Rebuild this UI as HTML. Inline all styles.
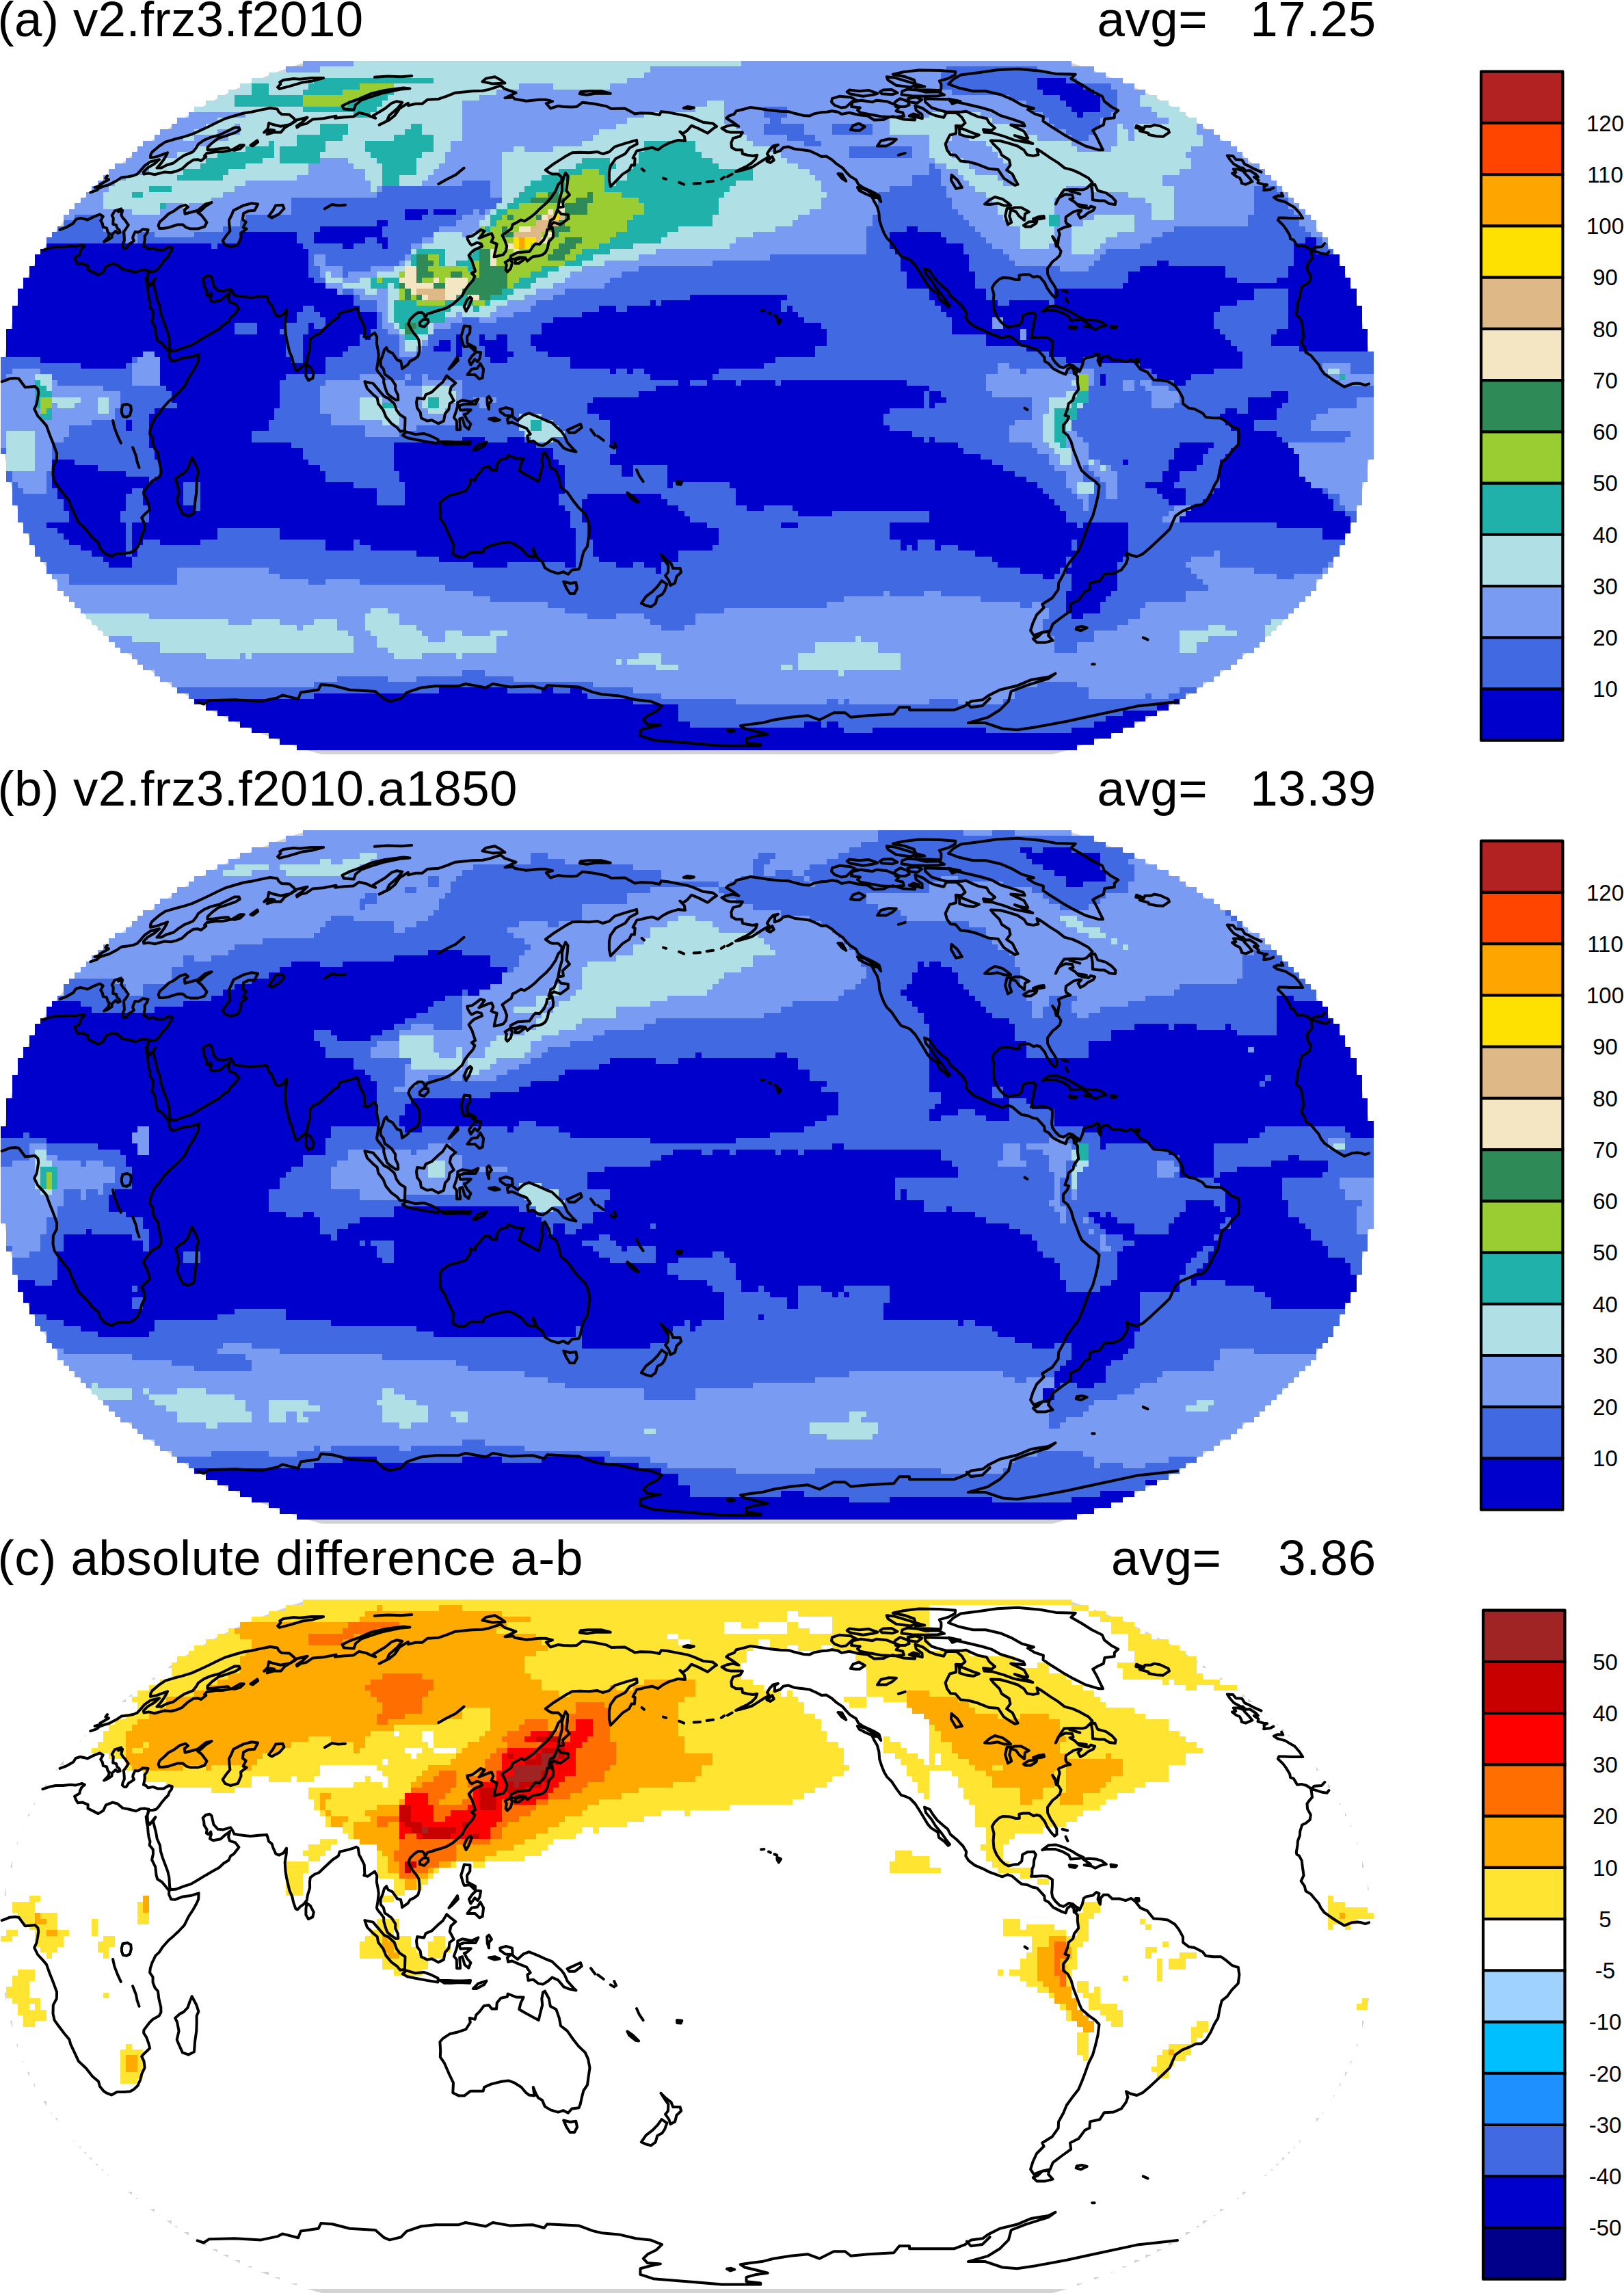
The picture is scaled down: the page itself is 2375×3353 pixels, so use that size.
<!DOCTYPE html>
<html><head><meta charset="utf-8"><title>maps</title>
<style>html,body{margin:0;padding:0;background:#fff}svg{display:block}text{font-family:"Liberation Sans",Arial,Helvetica,sans-serif;fill:#000}</style></head><body>
<svg width="2375" height="3353" viewBox="0 0 2375 3353">
<rect width="2375" height="3353" fill="#fff"/>
<defs><path id="coast" d="M1917.4 367.3L1920.2 366.7L1934.9 371.1L1940.6 371.7L1943.5 368.0M62.4 366.1L72.3 362.9L81.3 361.0L91.8 361.0L103.0 359.8L110.9 360.4L119.8 357.9L123.9 359.8L119.5 363.5L117.0 368.6L116.4 372.4L109.1 376.8L111.1 381.8L114.0 386.3L120.7 385.6L128.7 388.8L128.5 394.5L135.0 397.6L143.7 402.1L151.1 397.6L154.9 389.4L164.7 385.6L171.8 387.5L179.4 393.9L189.2 395.8L198.8 398.3L205.5 395.1L211.1 394.5L217.5 395.8L215.7 404.0L213.7 406.5L214.7 415.3L216.0 421.0L216.6 429.2L217.7 436.8L219.5 442.5L218.7 448.2L223.8 454.5L224.0 460.8L222.1 469.7L227.2 479.8L228.6 492.4L230.4 498.1L236.9 501.9L243.5 510.1L247.3 514.5L247.1 520.2L250.2 527.2L255.7 527.8L267.3 523.4L278.5 522.1L290.6 518.3L290.2 527.2L287.4 533.5L282.1 543.0L275.9 552.4L269.6 565.1L260.8 574.5L253.9 580.9L246.5 587.2L238.1 596.7L232.7 604.9L227.3 609.9L224.7 615.6L222.7 619.4L219.8 628.2L219.1 634.6L223.5 640.9L223.6 649.1L226.6 656.7L231.0 661.7L232.3 672.5L235.3 685.1L235.4 692.7L232.5 697.7L223.6 702.8L218.9 707.2L214.6 712.9L210.3 718.6L210.2 723.0L214.3 729.3L217.6 738.8L219.1 745.1L210.5 753.3L207.2 757.1L210.5 764.1L211.6 773.6L208.6 779.9L207.2 783.0L205.2 791.2L201.3 800.1L195.7 805.2L190.4 808.3L181.8 808.9L171.2 808.9L163.0 813.4L155.0 810.2L151.6 807.7L145.9 800.7L144.1 793.8L135.2 786.2L125.8 774.2L114.9 764.1L110.5 754.6L103.1 738.8L101.5 732.5L93.6 723.0L85.5 712.3L79.7 704.1L77.5 694.6L77.8 681.9L82.8 672.5L83.1 663.0L78.0 649.1L72.2 634.6L70.7 630.1L68.0 622.6L63.2 616.9L55.0 608.0L50.2 597.9L53.5 591.0L54.8 584.0L56.3 574.5L55.4 568.9L51.2 565.1L43.9 565.7L36.7 566.3L32.1 560.0L27.5 553.7L22.0 553.1L14.2 553.7L8.4 556.2L2.7 558.1M2002.0 561.3L1996.5 563.2L1990.8 561.3L1985.2 560.6L1976.9 561.3L1966.1 565.7L1957.4 560.6L1946.8 553.7L1936.8 546.7L1931.6 539.8L1928.7 533.5L1921.6 525.3L1916.9 519.6L1909.6 515.2L1907.9 508.2L1902.7 500.6L1906.6 492.4L1904.8 479.8L1903.8 470.9L1899.8 463.4L1896.3 461.5L1895.8 458.3L1897.6 448.2L1898.0 441.9L1901.0 433.7L1901.2 428.0L1904.2 418.5L1909.7 416.0L1915.7 410.9L1916.9 404.0L1912.1 395.1L1911.5 387.5L1915.1 382.5L1919.0 378.1L1918.1 371.1L1917.4 367.3M280.7 669.3L287.3 681.9L290.4 691.4L287.6 697.7L287.7 707.2L287.3 719.9L285.0 735.7L284.0 750.2L275.9 754.6L266.9 751.4L261.2 738.8L258.7 732.5L261.6 719.9L259.1 707.2L256.2 700.9L263.3 694.6L268.4 692.1L274.6 685.7L277.3 677.5L280.7 669.3M177.9 598.6L179.5 592.2L186.2 591.0L191.2 593.5L191.9 599.8L189.9 607.4L184.9 609.9L179.9 608.7L178.0 603.6L177.9 598.6M165.1 615.0L167.3 625.1L172.1 637.7L176.8 647.8M194.1 654.2L198.8 666.2L200.7 675.6L203.6 683.8M1918.2 366.1L1921.8 361.7L1932.8 361.0L1937.3 356.0M87.6 335.9L97.7 332.1L107.3 326.5L110.8 320.9L117.4 319.0L123.4 320.2L128.0 321.5L136.6 317.1L146.1 313.4L150.7 316.5L147.2 322.7L149.9 327.1L150.8 332.1L156.0 333.4L156.7 335.9L157.7 339.6L160.0 341.5L158.3 347.2L152.2 353.5L157.9 350.9L163.5 347.2L163.8 342.8L169.3 337.8L172.2 340.9L175.7 339.6L174.7 336.5L171.3 333.4L169.9 329.0L165.2 327.7L165.8 319.0L163.7 315.3L167.7 308.4L177.2 305.3L173.2 309.7L179.2 307.8L177.3 314.6L179.9 319.0L183.1 322.1L185.4 325.9L187.7 329.0L183.8 335.2L180.7 339.0L181.3 342.8L181.7 347.8L181.9 351.6L179.8 356.0L178.8 360.4L181.5 362.9L184.6 362.9L188.4 357.2L193.4 354.1L196.0 352.2L194.2 348.4L194.6 345.3L197.6 339.0L201.3 339.6L204.7 338.4L208.9 335.2L216.6 335.9L215.6 339.0L214.9 340.9L211.6 345.3L211.8 350.9L210.6 356.6L209.9 359.8L213.4 361.0L216.4 364.2L223.8 362.9L230.3 365.4L239.2 365.4L246.8 361.0L251.8 362.3L251.0 366.1L247.7 370.5L245.8 375.5L241.9 379.3L236.0 386.3L231.9 392.0L228.2 395.8L223.4 397.0L218.0 397.0L215.5 404.6L215.9 413.4L219.2 417.9L222.3 413.4L227.4 407.1L224.0 413.4L225.6 419.8L228.0 429.2L229.7 438.7L233.9 448.2L235.1 457.7L238.0 467.1L241.6 476.6L245.2 486.1L247.4 495.6L248.1 508.2L249.1 513.3L257.5 512.6L269.2 508.2L279.0 505.1L289.9 498.7L300.3 492.4L311.3 486.1L320.4 481.0L327.0 474.7L334.4 470.3L337.2 464.0L342.1 460.8L349.4 451.3L344.2 444.4L336.0 441.9L334.1 436.2L336.1 428.0L333.3 430.5L328.7 433.7L322.5 439.3L311.7 441.2L306.9 438.7L308.9 432.4L308.3 428.6L304.6 432.4L301.8 430.5L302.7 425.4L298.6 419.1L298.2 413.4L296.6 408.4L300.9 404.0L306.7 402.7L309.5 405.2L310.8 410.9L312.4 417.9L318.5 424.8L326.5 425.4L337.0 422.3L339.8 426.1L342.7 431.8L348.9 433.0L359.5 434.3L366.4 434.9L378.6 433.7L390.1 433.0L391.5 436.8L393.0 442.5L397.7 446.3L399.4 452.0L403.4 460.8L408.0 462.7L414.5 459.6L419.0 452.6L418.8 460.2L416.7 473.5L417.5 486.1L419.0 495.6L421.5 506.3L423.4 514.5L427.1 522.7L429.1 531.6L432.4 541.1L435.1 542.3L439.3 537.9L443.9 534.7L448.8 528.4L450.0 520.8L453.1 510.7L453.0 501.9L453.7 495.6L459.3 491.2L466.8 488.0L473.2 481.7L480.7 474.7L487.0 469.0L494.8 464.0L496.8 457.7L502.5 456.4L508.1 455.1L516.6 452.6L521.3 450.7L523.7 452.6L525.2 462.1L528.3 467.8L532.7 476.6L533.3 489.3L532.4 492.4L537.8 493.7L543.2 489.9L548.0 486.7L551.2 492.4L550.8 501.9L552.7 511.4L553.8 518.9L552.5 530.3L550.9 539.8L552.4 543.0L556.1 547.4L561.3 554.3L561.2 559.4L563.7 568.2L566.3 575.2L571.8 580.2L578.4 584.7L582.3 584.7L581.9 577.7L578.1 569.5L578.3 563.2L572.5 554.3L566.5 549.9L562.7 547.4L560.9 539.8L556.7 534.7L556.6 527.2L559.9 518.9L562.1 511.4L565.2 508.2L567.5 513.3L573.9 516.4L578.0 522.1L581.0 526.5L586.0 527.8L587.3 533.5L588.1 539.2L596.8 532.8L599.8 527.8L605.5 525.3L611.3 520.8L613.5 513.3L613.4 506.3L612.5 497.5L609.1 491.8L604.2 486.1L600.4 479.8L597.3 473.5L599.6 467.1L605.8 460.8L611.6 457.0L617.1 457.0L620.1 459.6L621.8 464.6L625.1 458.9L631.9 457.0L639.2 454.5L646.0 452.6L653.3 450.1L662.0 445.0L669.2 438.7L675.9 432.4L679.6 424.8L685.6 416.6L691.3 410.3L694.4 404.0L689.8 399.5L695.1 396.4L693.0 390.1L690.3 381.8L685.6 373.6L689.1 369.2L693.6 365.4L705.1 360.4L703.8 356.6L697.4 354.7L689.8 358.5L687.3 356.0L683.9 350.3L683.3 346.5L690.3 345.3L696.6 340.9L703.0 335.9L708.6 337.8L701.8 347.2L700.4 348.4L706.7 345.9L714.1 342.8L719.0 341.5L721.4 347.2L718.5 353.5L722.8 355.4L726.7 356.6L725.4 362.9L723.4 371.1L722.6 375.5L728.6 374.3L735.8 372.4L739.8 367.3L741.2 359.8L738.5 352.2L734.4 344.0L740.5 339.6L747.8 334.6L749.7 328.4L754.8 325.9L761.9 321.5L767.0 323.4L775.8 317.7L781.9 312.8L790.1 304.7L798.6 297.3L805.7 289.3L812.8 278.8L816.3 269.7L821.3 264.8L821.6 259.4L816.2 254.6L807.8 254.6L803.6 252.8L797.7 248.6L809.6 239.7L818.0 234.4L826.3 229.1L836.9 223.3L848.2 222.7L861.5 223.3L873.9 222.1L881.4 225.0L890.9 222.1L898.9 214.6L915.2 209.4L931.1 204.9L931.7 210.6L920.8 216.3L914.2 225.0L900.4 232.0L892.8 242.7L890.9 251.6L890.9 263.6L893.0 272.7L901.9 263.6L910.6 254.6L920.2 248.6L923.4 241.5L928.0 241.5L928.6 232.0L925.6 230.9L931.4 220.4L938.2 219.2L944.1 217.5L954.1 215.8L962.2 219.2L969.7 213.5L978.7 208.9L992.0 204.9L1002.0 206.0L1000.7 199.2L994.4 192.5L998.6 195.3L1005.0 190.8L1011.3 183.7L1021.9 188.1L1034.9 194.7L1042.9 188.1L1048.1 184.8L1042.4 180.4L1027.8 178.7L1013.2 172.3L1005.0 169.6L992.9 167.4L976.9 164.3L967.0 163.2L964.5 168.0L952.6 165.8L936.6 165.3L928.4 166.4L923.6 163.7L913.9 158.5L894.0 159.0L887.1 155.4L868.6 151.8L851.9 149.7L843.6 155.9L835.5 156.4L823.9 155.9L816.5 154.9L805.0 158.5L798.8 151.3L808.1 148.2L797.9 145.7L788.3 145.7L769.8 147.7L752.6 144.7L750.5 142.2L738.4 143.2L754.5 135.7L737.9 129.9L732.4 125.2L715.0 130.9L705.8 132.8L690.6 133.3L665.8 135.7L653.3 140.7L641.7 144.7L625.3 145.7L617.3 151.8L607.6 151.8L597.2 154.4L596.9 150.8L584.4 158.5L577.2 169.0L569.2 175.5L554.6 182.6L565.7 177.1L569.1 169.0L581.3 158.5L588.3 149.7L580.3 148.2L572.8 150.8L563.4 158.5L545.9 169.0L549.2 172.8L541.6 170.1L536.2 167.4L524.9 164.8L516.7 170.6L503.9 171.2L489.9 172.8L491.4 169.6L473.0 173.3L457.4 174.4L448.0 180.9L439.9 182.6L434.4 186.4L433.9 184.2L440.9 179.8L449.5 171.7L433.6 175.5L423.3 182.6L416.1 187.0L410.8 193.6L400.1 193.6L390.6 196.4L401.2 190.8L396.1 189.7L386.1 193.6L391.7 188.1L393.2 179.8L398.9 182.0L410.3 184.8L424.7 182.0L432.5 177.1L430.0 173.3L423.1 167.4L411.6 166.9L407.8 163.7L405.5 159.5L395.1 158.0L379.5 161.1L367.7 163.7L357.4 165.3L344.0 169.0L329.7 173.3L318.0 178.7L304.8 185.3L293.1 190.8L280.5 196.4L267.6 200.4L254.4 203.8L241.7 207.7L232.9 213.5L222.7 222.1L220.3 226.2L220.0 230.9L228.9 229.1L245.0 223.3L243.7 226.2L240.4 232.0L234.8 239.7L229.5 245.6L236.0 245.6L243.4 241.5L253.6 238.5L261.1 232.6L270.1 226.8L282.2 222.1L286.8 216.3L290.2 210.6L298.5 204.9L307.8 200.9L320.7 197.5L332.0 192.0L343.2 186.4L349.5 186.4L350.8 189.7L344.8 193.6L332.0 198.1L319.4 202.1L310.3 208.9L303.7 215.2L303.4 219.2L313.0 218.6L323.8 216.9L333.4 216.3L337.1 219.8L324.7 222.1L315.8 222.1L302.6 223.9L299.0 227.9L301.3 229.1L294.1 235.0L289.1 233.2L282.6 233.8L273.9 239.7L266.3 246.8L257.9 250.4L250.0 252.2L240.3 251.6L226.2 255.2L217.4 253.4L210.4 254.6L209.9 251.6L215.6 245.6L225.6 239.7L233.1 233.2L220.5 236.2L211.1 242.7L206.2 248.6L200.6 254.6L194.7 257.0L187.7 258.2L177.9 259.4L169.7 264.8L159.2 270.3L152.5 272.1L145.7 274.6L141.5 278.2L132.2 281.3M1874.2 282.5L1876.3 286.8L1868.9 286.2L1862.9 288.6L1868.2 292.3L1879.8 295.4L1885.6 299.1L1893.4 303.5L1900.4 311.5L1905.2 319.0L1897.6 319.0L1887.6 319.0L1877.0 318.4L1870.4 318.4L1868.9 322.1L1875.8 328.4L1880.5 334.6L1886.2 344.0L1887.1 349.1L1892.0 350.9L1897.1 359.8L1904.0 359.1L1910.9 361.0L1918.2 366.1M233.2 334.0L231.6 329.6L233.5 324.6L240.0 319.0L246.4 312.8L254.6 308.4L263.1 302.2L271.4 299.7L275.1 302.8L269.9 306.6L270.5 312.8L281.7 309.7L289.0 307.8L300.5 298.5L309.6 296.0L300.7 301.6L294.0 307.8L289.3 310.9L294.3 314.6L297.9 319.0L302.5 325.2L299.1 331.5L289.1 334.6L278.8 334.6L272.3 332.7L267.5 328.4L259.9 328.4L246.8 332.7L238.3 334.0L233.2 334.0M356.1 300.4L368.0 297.3L377.1 298.5L372.3 307.8L363.4 308.4L356.1 312.1L354.8 320.9L359.7 324.6L355.6 332.7L360.7 334.6L352.2 340.9L352.5 347.2L347.9 357.9L337.0 361.0L329.1 357.9L325.7 352.2L330.3 345.3L336.4 337.8L335.4 329.6L334.9 322.1L338.9 314.0L341.4 307.8L356.1 300.4M403.2 300.4L413.4 299.7L415.5 304.7L408.4 312.8L397.6 318.4L393.0 315.9L399.2 307.8L403.2 300.4M474.9 305.3L485.5 299.1L494.8 300.4L505.0 299.7M641.3 269.1L654.2 261.8L666.3 255.8L678.5 245.6M339.1 219.2L351.1 212.3L356.8 212.3L351.2 217.5L342.9 219.8L339.1 219.2M366.5 212.3L376.2 205.5L377.2 207.7L369.7 213.5L366.5 212.3M448.5 532.8L453.8 536.6L458.8 546.1L457.3 553.1L451.0 556.2L447.4 549.9L447.4 541.7L448.5 532.8M613.9 471.6L618.8 467.1L625.9 467.1L626.5 471.6L620.4 477.9L614.0 476.0L613.9 471.6M687.7 434.3L690.1 436.8L685.7 448.2L681.7 455.1L678.6 448.2L682.8 438.7L687.7 434.3M827.0 252.8L830.5 257.6L829.9 266.7L828.3 278.8L832.9 285.0L822.9 294.2L823.9 302.2L816.2 303.5L818.5 291.1L822.0 278.8L822.0 267.9L824.6 258.8L827.0 252.8M815.1 306.6L820.5 312.8L830.8 314.0L830.8 320.2L819.4 328.4L809.7 325.2L802.5 331.5L805.2 322.1L810.2 319.6L813.0 312.8L815.1 306.6M807.5 332.1L809.1 340.9L808.7 347.2L802.6 353.5L800.7 362.9L797.7 369.2L793.6 372.4L788.1 374.3L780.1 374.9L777.2 376.8L771.2 381.8L768.2 376.8L759.9 376.2L753.2 378.7L746.3 378.7L747.0 374.3L756.8 369.2L766.3 368.6L774.3 368.0L779.8 359.8L782.9 356.6L789.0 357.2L795.3 350.3L799.2 342.1L800.2 335.9L804.5 334.6L807.5 332.1M745.7 379.3L749.2 383.7L746.9 392.6L741.9 397.6L739.7 394.5L740.8 386.9L738.6 383.7L745.7 379.3M754.0 380.0L763.5 376.8L765.7 380.0L758.6 385.0L753.3 385.0L754.0 380.0M678.8 476.6L687.5 477.3L687.3 486.1L683.0 492.4L683.4 501.9L695.2 508.2L694.9 513.9L687.0 506.3L678.7 506.9L676.8 501.9L674.2 492.4L677.1 482.9L678.8 476.6M702.4 531.6L707.1 539.8L705.6 552.4L701.1 554.3L694.6 548.0L683.4 548.0L689.8 539.8L698.2 538.5L702.4 531.6M656.5 539.8L668.9 522.1L669.8 527.2L660.5 536.6L656.5 539.8M696.5 514.5L703.1 515.2L701.6 524.0L698.6 529.1L694.3 525.3L688.4 533.5L685.9 527.2L690.1 520.8L696.5 514.5M610.2 582.1L620.2 583.4L622.6 577.1L631.6 573.3L640.1 565.1L647.5 558.8L653.3 549.3L658.2 553.7L666.4 560.0L659.6 566.3L657.7 574.5L663.7 585.9L657.5 590.3L656.4 598.6L650.9 604.9L648.9 615.6L641.1 619.4L631.6 614.3L624.9 615.6L615.9 611.2L614.7 603.0L610.1 596.7L609.0 588.4L610.2 582.1M533.4 558.1L545.5 560.6L553.6 570.1L561.7 579.6L567.3 582.1L576.7 590.3L580.0 599.8L584.6 606.1L592.5 611.2L592.2 621.9L591.9 630.1L585.2 630.8L580.6 625.1L572.0 618.8L564.6 609.9L560.5 599.8L553.2 590.3L551.7 582.1L545.1 576.4L536.9 568.2L533.4 558.1M588.8 636.5L594.1 631.4L607.1 635.2L619.8 633.9L630.5 637.7L640.7 642.8L640.4 648.5L624.2 645.9L607.4 642.8L595.6 640.3L588.8 636.5M643.6 645.9L654.8 645.9L665.9 646.6L677.0 646.6L688.1 645.9L687.1 649.7L671.6 649.1L660.5 649.7L649.4 649.7L643.6 645.9M691.9 657.9L699.4 650.4L711.5 646.6L707.8 652.3L696.9 657.9L691.9 657.9M669.3 588.4L676.0 585.3L689.9 587.8L699.4 583.4L695.4 591.0L678.7 591.0L671.4 593.5L673.2 599.8L680.4 599.2L688.8 599.2L682.7 604.9L678.8 606.1L683.4 614.3L688.5 620.0L685.3 627.6L679.7 623.2L676.1 611.2L672.2 612.5L673.1 628.2L668.1 628.2L667.8 615.6L663.8 610.6L667.6 599.8L669.2 593.5L669.3 588.4M712.3 582.1L715.1 579.6L718.9 585.9L715.0 590.3L715.0 598.6L712.7 591.6L712.3 582.1M715.1 612.5L723.5 611.2L730.8 614.3L723.5 615.6L715.1 612.5M731.2 598.6L740.1 596.0L749.0 598.6L749.7 609.3L757.0 615.0L765.3 607.4L773.6 604.2L787.6 609.9L798.8 615.0L807.2 618.1L814.5 625.1L821.3 631.4L825.8 637.7L829.9 647.2L838.4 656.7L842.4 660.5L832.9 658.6L824.5 655.4L816.0 645.3L807.5 641.5L801.0 647.2L793.9 651.6L787.2 650.4L779.8 644.7L772.6 645.9L771.3 637.7L775.7 634.6L770.0 626.4L758.8 621.9L748.7 617.5L743.1 618.8L741.9 612.5L747.4 608.0L739.0 607.4L731.8 602.3L731.2 598.6M829.6 628.9L837.9 625.1L849.0 620.0L850.7 625.1L840.8 632.7L832.4 632.7L829.6 628.9M864.1 628.2L870.3 636.5M874.2 637.7L882.7 644.0M892.8 652.3L898.4 655.4M898.3 647.2L901.1 653.5M931.0 687.0L934.4 694.6M935.0 695.8L940.6 704.1M917.4 720.5L925.7 726.2L934.1 734.4L929.7 733.8L920.2 726.2L917.4 720.5M990.1 704.1L997.3 704.7L995.7 708.5L990.2 707.9L990.1 704.1M796.9 661.7L802.8 672.5L804.9 683.8L813.4 688.3L817.8 700.9L820.0 712.3L829.7 719.9L838.5 732.5L846.0 742.0L855.8 751.4L860.1 760.9L862.5 773.6L860.7 786.2L859.0 798.8L853.4 807.0L851.1 815.9L848.6 827.2L846.5 832.3L836.3 833.5L830.9 839.8L823.7 836.1L816.3 838.6L805.4 835.4L796.9 830.4L792.9 820.9L787.2 817.8L783.7 811.5L779.8 802.0L781.5 814.6L773.5 813.4L769.3 810.2L762.3 802.0L752.4 795.7L743.9 792.5L733.5 793.8L718.1 797.6L708.2 802.0L706.6 807.7L688.1 807.7L679.0 814.6L671.1 814.6L662.3 810.2L663.0 795.7L656.9 783.0L650.1 767.2L643.8 757.8L644.2 748.3L643.4 735.7L647.3 731.2L657.5 724.3L668.2 721.8L681.5 717.3L687.8 707.2L686.8 700.9L694.6 702.8L696.3 696.5L701.5 691.4L707.6 683.2L714.7 681.9L719.5 687.6L726.1 687.6L726.7 678.8L732.5 671.8L741.8 669.9L742.7 665.5L755.7 670.6L765.6 670.6L761.6 678.8L759.3 688.3L767.8 693.3L779.2 699.6L787.7 704.1L789.9 694.6L793.2 681.9L792.3 672.5L794.2 663.0L796.9 661.7M824.2 850.5L833.8 853.0L842.3 851.8L844.0 860.5L840.1 868.0L833.5 868.0L828.2 859.9L824.2 850.5M966.5 810.8L973.5 817.8L981.5 824.1L984.2 831.0L994.6 831.0L996.2 836.7L989.5 843.0L987.1 852.4L980.5 856.1L978.3 849.2L973.0 841.7L977.0 836.7L977.4 827.2L970.9 817.8L966.5 810.8M967.6 849.2L975.4 854.3L972.1 863.6L968.2 869.3L961.3 873.0L958.7 882.3L952.0 887.3L944.5 885.4L937.8 882.3L944.7 872.4L954.4 864.9L961.7 857.4L967.6 849.2M1113.1 454.5L1117.4 453.9M1124.1 457.7L1126.9 458.9M1132.5 461.5L1136.3 462.7M1136.4 465.9L1142.0 468.4L1138.9 473.5L1136.6 469.7L1136.4 465.9M1848.2 278.2L1857.6 277.0L1862.4 274.6M138.6 274.0L147.8 271.5L146.4 269.7L159.0 262.4L154.3 260.6L157.0 257.0M1844.5 251.6L1835.0 247.4L1826.1 242.7L1820.5 240.3L1816.3 233.8L1807.4 233.2L1803.1 227.9L1794.7 227.4L1799.0 233.8L1804.2 239.7L1814.3 245.6L1817.6 245.6L1821.9 249.8L1827.7 249.2L1836.9 255.2L1839.9 258.8L1833.8 258.8L1840.5 263.6L1839.5 267.3L1847.8 269.7L1853.2 270.3L1848.5 272.7L1848.8 276.4L1848.2 278.2M1825.8 258.8L1820.1 252.8L1818.1 249.8L1810.3 247.4L1803.8 247.4L1807.3 252.2L1802.0 253.4L1808.1 258.2L1812.9 260.0L1815.7 265.5L1815.8 267.9L1821.5 269.7L1825.8 267.9L1831.4 265.5L1825.8 258.8M1680.1 197.0L1691.5 199.2L1700.8 199.8L1706.5 195.9L1710.0 193.6L1708.6 189.7L1696.6 184.2L1688.1 182.6L1682.7 184.8L1674.3 184.8L1673.1 188.1L1662.0 183.7L1661.2 187.0L1672.4 189.2L1666.7 191.4L1679.4 194.7L1680.1 197.0M414.4 117.0L429.7 114.9L438.2 115.7L455.8 114.0L473.1 114.0L457.1 118.4L441.9 120.6L423.4 126.1L408.6 129.9L406.1 127.5L410.4 122.9L409.2 120.2L414.4 117.0M500.5 154.9L502.8 159.5L517.5 160.6L520.0 153.3L528.2 146.7L542.3 141.7L561.5 135.7L587.2 130.4L599.5 129.4L589.9 128.5L563.2 131.9L543.3 136.7L525.0 144.7L510.8 149.7L500.5 154.9M547.9 112.8L567.3 111.5L586.4 112.3L602.2 111.1M705.5 119.3L719.8 122.4L738.5 121.5L732.4 117.0L723.7 112.3L710.4 114.9L705.5 119.3M847.8 137.2L858.3 138.7L870.4 136.7L885.4 136.7L892.8 136.7L879.2 133.3L860.7 133.3L849.2 134.3L847.8 137.2M999.9 158.0L1005.8 155.9L1014.9 157.5L1009.0 159.0L999.9 158.0M1387.1 122.9L1394.4 115.7L1405.1 109.5L1432.6 105.9L1458.4 102.2L1488.1 100.8L1521.0 103.7L1543.9 107.9L1572.8 108.7L1566.4 114.9L1581.8 123.8L1596.8 133.3L1612.0 140.7L1615.0 148.2L1624.9 155.9L1635.3 161.6L1629.9 166.4L1629.7 172.3L1615.5 173.9L1613.8 182.6L1604.4 187.0L1598.2 190.8L1603.2 199.2L1608.7 210.6L1613.0 219.2L1606.3 219.2L1587.4 213.5L1570.2 204.9L1555.2 196.4L1537.5 185.3L1525.5 177.1L1525.9 170.6L1513.0 166.4L1503.0 160.1L1511.9 158.5L1493.9 153.3L1480.6 145.7L1463.1 138.2L1441.5 133.3L1423.0 133.3L1401.9 128.5L1387.1 122.9M1055.5 187.5L1063.6 184.2L1071.7 182.6L1080.4 184.8L1073.4 179.8L1062.2 172.8L1065.9 169.6L1073.6 166.9L1076.9 162.2L1088.4 159.5L1097.7 156.9L1112.1 159.0L1124.5 161.1L1141.0 162.7L1153.1 163.2L1162.1 165.8L1175.3 169.0L1183.6 169.6L1190.5 166.4L1201.6 164.3L1209.4 163.7L1216.7 162.2L1225.5 163.7L1231.0 166.9L1242.0 164.8L1255.8 168.0L1268.9 169.6L1278.4 175.5L1292.4 174.9L1298.7 171.7L1305.8 170.1L1320.8 174.4L1338.0 175.5L1338.7 170.6L1348.8 173.3L1348.5 167.4L1339.7 161.1L1338.3 154.4L1349.5 158.5L1359.0 165.3L1367.9 169.0L1380.2 171.7L1383.5 165.8L1386.7 164.8L1399.2 165.3L1406.7 171.7L1411.5 179.8L1406.6 184.2L1397.8 183.7L1398.3 189.7L1398.1 195.3L1389.0 197.5L1385.4 204.9L1382.6 210.6L1385.0 219.2L1390.1 226.2L1397.3 226.8L1404.9 235.6L1417.0 236.8L1428.0 239.7L1446.3 246.8L1459.7 248.0L1468.0 260.6L1477.3 266.7L1484.6 270.9L1488.6 269.7L1485.0 263.6L1480.7 254.6L1472.1 248.6L1477.5 241.5L1475.8 233.8L1464.9 226.8L1461.6 219.2L1452.8 210.6L1448.9 205.5L1462.4 206.0L1473.4 208.9L1488.1 213.5L1497.2 219.2L1501.9 226.2L1510.9 227.9L1518.5 226.2L1516.3 218.1L1523.3 222.1L1535.9 230.9L1547.1 237.9L1556.9 245.6L1568.6 248.6L1579.3 253.4L1592.0 260.6L1597.5 266.7L1594.4 270.3L1588.7 275.8L1582.7 277.6L1570.2 277.0L1556.1 277.6L1552.3 283.1L1547.2 291.1L1543.9 298.5L1548.6 289.3L1557.9 284.3L1568.0 285.0L1569.5 289.9L1564.4 291.1L1571.8 295.4L1577.8 301.6L1583.9 303.5L1592.0 304.7L1595.2 301.6L1601.2 303.5L1598.8 307.8L1590.9 311.5L1585.8 315.9L1579.9 319.0L1576.6 312.8L1581.3 307.8L1576.3 307.8L1569.9 309.7L1564.4 313.4L1558.8 317.1L1558.4 323.4L1559.5 326.5L1565.4 330.2L1559.4 331.5L1554.2 333.4L1547.9 336.5L1549.7 342.8L1548.0 348.4L1547.4 353.5L1546.8 358.5L1542.5 350.3L1539.2 345.9L1543.5 354.1L1544.6 359.8L1547.7 361.0L1551.6 367.3L1549.7 373.6L1544.5 378.7L1539.4 382.5L1535.7 387.5L1531.9 392.6L1532.1 400.8L1536.7 410.3L1541.0 416.6L1545.4 424.2L1545.5 432.4L1542.2 434.9L1537.4 429.9L1531.2 421.0L1527.8 413.4L1521.0 405.2L1516.4 404.0L1511.3 405.2L1505.0 401.4L1497.0 401.4L1490.4 402.7L1490.8 409.0L1485.4 409.0L1476.8 406.5L1467.0 405.9L1461.1 408.4L1454.4 414.7L1450.8 421.0L1453.5 430.5L1452.6 441.9L1453.5 452.6L1457.5 462.1L1463.4 470.3L1469.0 475.4L1474.8 478.5L1482.8 476.6L1489.3 476.0L1494.3 471.6L1495.2 462.1L1502.3 458.3L1512.1 457.7L1514.9 462.1L1512.2 470.3L1511.6 477.9L1509.5 482.9L1509.3 490.5L1508.0 493.7L1515.2 493.7L1523.4 493.0L1531.8 493.7L1539.0 498.7L1538.9 508.2L1538.1 517.7L1539.2 524.0L1543.6 530.3L1549.5 536.0L1555.2 537.9L1560.5 534.7L1563.2 532.8L1568.8 534.1L1574.7 539.2L1575.0 544.2L1570.7 546.1L1570.4 540.4L1566.2 536.6L1560.9 540.4L1558.5 547.4L1551.7 544.9L1544.3 541.1L1540.3 539.2L1533.7 531.6L1527.9 528.4L1527.4 522.7L1520.1 514.5L1516.4 510.7L1509.7 509.5L1502.8 506.3L1494.3 505.1L1488.4 500.6L1480.5 493.7L1473.6 491.2L1465.6 494.3L1457.0 491.2L1446.7 487.4L1436.8 482.3L1425.2 477.3L1416.2 470.3L1412.3 464.0L1413.2 457.7L1408.4 449.5L1399.1 440.0L1389.9 432.4L1386.1 424.8L1379.9 419.8L1370.5 411.5L1364.8 404.0L1359.6 395.8L1352.0 392.6L1354.1 400.8L1362.2 410.3L1368.0 419.8L1375.9 429.2L1382.6 438.7L1389.0 446.9L1386.5 448.8L1381.5 443.1L1373.1 436.8L1371.6 429.2L1361.5 422.9L1356.2 416.6L1349.5 405.2L1343.6 395.8L1338.3 387.5L1331.0 380.0L1324.0 376.8L1317.8 374.9L1311.3 366.1L1307.5 360.4L1303.7 354.7L1297.2 348.4L1292.9 340.9L1289.1 331.5L1286.2 322.1L1285.4 311.5L1282.9 302.2L1278.2 294.2L1275.6 288.6L1284.1 289.3L1288.2 294.8L1285.7 286.2L1280.8 283.1L1272.2 278.8L1262.7 274.6L1255.4 269.7L1251.9 263.0L1243.1 257.6L1237.4 251.6L1232.3 245.6L1223.4 239.7L1216.9 233.8L1208.4 228.5L1201.8 229.1L1193.8 225.0L1183.5 220.4L1174.3 219.2L1162.8 218.1L1153.1 214.6L1145.4 215.8L1141.1 220.4L1132.8 223.3L1133.2 214.6L1137.9 211.7L1130.7 213.5L1125.3 219.2L1121.9 225.0L1124.9 229.1L1116.7 233.8L1108.4 239.1L1099.9 244.5L1091.0 247.4L1082.0 249.8L1076.0 251.0L1084.0 246.8L1092.7 242.7L1099.1 238.5L1105.1 232.6L1107.3 226.8L1101.2 227.9L1092.9 226.8L1085.9 225.0L1085.2 219.2L1076.3 219.2L1070.1 215.8L1069.4 208.9L1072.0 202.1L1082.5 199.2L1085.9 193.6L1077.4 193.6L1068.9 193.6L1062.3 192.0L1055.5 187.5L1055.5 187.5M1070.7 254.6L1064.0 258.2M1059.3 258.8L1054.8 261.8M1043.1 264.8L1033.6 266.1M1024.1 267.9L1014.6 268.5M1000.2 269.7L993.1 266.7M974.2 261.8L970.0 260.6M938.6 246.8L942.0 249.8M1121.5 235.6L1129.4 229.1L1131.8 234.4L1126.5 237.9L1121.5 235.6M1253.9 274.0L1265.9 277.0L1281.1 287.4L1276.4 288.0L1265.2 283.1L1256.7 278.8L1253.9 274.0M1225.5 254.0L1231.3 254.6L1237.3 264.8L1230.8 260.6L1225.5 254.0M1598.0 292.3L1597.7 281.9L1595.8 270.9L1601.2 269.7L1605.3 278.8L1617.1 281.9L1626.1 288.0L1631.6 294.2L1630.8 299.1L1622.6 297.9L1615.0 293.6L1607.6 293.6L1598.0 292.3M1564.5 279.4L1579.4 283.7M1577.4 299.1L1588.9 301.0M1440.1 298.5L1447.2 292.3L1454.9 288.0L1466.2 291.1L1475.1 297.3L1478.1 300.4L1468.1 300.4L1459.3 297.3L1447.8 299.1L1440.1 298.5M1473.9 328.4L1470.1 315.9L1472.6 304.7L1479.1 304.7L1484.5 303.5L1493.4 303.5L1504.9 309.7L1498.9 312.8L1498.1 322.1L1490.3 315.9L1485.9 309.7L1478.5 306.6L1476.2 315.9L1479.2 325.2L1473.9 328.4M1496.9 329.6L1504.3 324.6L1516.4 323.4L1515.3 326.5L1507.4 331.5L1499.7 331.5L1496.9 329.6M1510.9 320.2L1518.5 317.1L1526.5 315.9L1527.0 319.0L1520.0 320.2L1510.9 320.2M1398.1 275.8L1390.9 263.6L1391.6 255.8L1400.4 263.6L1406.9 274.0L1398.1 275.8M1283.0 213.5L1288.1 206.0L1299.7 203.2L1310.9 203.8L1304.9 208.9L1296.2 213.5L1283.0 213.5M1243.9 189.7L1247.4 183.7L1256.2 180.4L1264.9 185.3L1257.1 190.8L1250.8 190.8L1243.9 189.7M1313.8 226.8L1323.6 223.9M1510.3 210.0L1493.8 202.1L1483.9 198.1L1498.1 202.1L1503.3 202.1L1497.6 192.0L1478.3 182.6L1498.7 184.2L1496.5 179.8L1480.8 174.4L1463.2 169.0L1449.8 161.6L1435.6 157.5L1417.6 153.3L1399.9 149.2L1386.1 145.2L1368.3 144.7L1352.6 144.2L1353.4 149.2L1362.5 157.5L1370.7 160.1L1383.8 163.7L1395.8 163.7L1405.8 163.7L1412.9 162.7L1420.3 166.4L1430.2 170.6L1442.9 173.3L1446.7 179.8L1455.1 187.0L1449.9 190.8L1438.0 189.2L1439.5 193.6L1450.6 194.2L1467.7 199.2L1483.2 204.9L1498.7 207.7L1510.3 210.0M1402.1 186.4L1410.9 189.7L1423.3 194.7L1431.9 197.5L1423.7 200.9L1411.7 199.2L1403.2 196.4L1403.3 190.8L1402.1 186.4M1258.1 164.8L1276.1 168.0L1289.9 170.6L1308.5 171.2L1322.0 170.1L1320.4 164.8L1310.5 162.2L1315.9 155.9L1296.5 148.2L1281.9 146.7L1276.0 149.2L1258.8 146.7L1246.9 149.2L1245.1 155.9L1257.8 157.5L1254.0 161.1L1258.1 164.8M1220.4 153.8L1230.2 157.5L1237.5 156.4L1246.3 148.2L1253.0 146.7L1244.3 142.2L1228.1 140.7L1217.0 144.2L1216.0 149.2L1220.4 153.8M1329.8 169.6L1335.6 166.4L1343.6 169.0L1335.0 171.2L1329.8 169.6M1310.0 155.9L1323.8 155.9L1329.6 153.3L1327.4 148.2L1316.3 144.2L1310.0 148.2L1308.1 150.8L1310.0 155.9M1330.2 149.2L1341.2 150.8L1348.2 145.7L1339.2 142.2L1327.7 144.2L1330.2 149.2M1242.7 137.2L1262.2 140.7L1275.8 138.7L1283.5 136.7L1270.1 131.9L1256.5 133.3L1242.1 131.4L1238.7 134.3L1242.7 137.2M1289.5 137.2L1305.4 138.2L1312.5 135.7L1304.1 130.9L1291.7 131.4L1287.0 134.3L1289.5 137.2M1318.5 138.2L1333.6 140.2L1353.0 140.7L1371.3 140.2L1381.0 138.7L1372.3 134.3L1354.3 134.8L1339.5 131.4L1327.5 130.4L1319.4 133.3L1318.5 138.2M1310.5 124.7L1331.7 127.5L1341.8 123.8L1330.3 120.2L1308.4 113.6L1296.6 112.3L1298.5 117.0L1310.5 124.7M1339.5 131.4L1357.9 131.4L1375.6 132.3L1376.4 128.5L1376.4 122.9L1373.8 118.4L1386.2 114.9L1396.6 109.5L1397.2 104.8L1374.2 103.0L1344.0 102.6L1321.3 105.2L1305.8 108.7L1324.1 112.3L1337.0 117.0L1338.9 122.9L1352.3 126.6L1338.9 127.5L1339.5 131.4M1387.5 144.7L1404.6 148.2L1399.9 149.2L1392.7 151.8L1387.5 144.7M1524.3 455.1L1533.6 448.2L1544.4 447.6L1555.9 451.3L1567.7 457.0L1576.8 462.7L1584.4 465.9L1577.6 467.8L1565.6 468.4L1563.1 462.7L1554.2 457.7L1542.7 453.9L1531.7 453.9L1524.3 455.1M1583.7 468.4L1592.4 467.8L1602.4 468.4L1611.0 470.9L1617.8 476.0L1609.4 477.9L1601.7 481.7L1595.7 478.5L1585.6 477.3L1594.8 476.0L1583.7 468.4M1563.7 477.3L1574.8 478.5L1572.5 481.0L1564.6 479.8L1563.7 477.3M1624.5 476.6L1633.0 477.9L1631.6 479.8L1625.1 479.8L1624.5 476.6M1553.6 424.8L1561.1 426.7M1558.6 435.6L1561.4 441.9M1660.9 525.9L1665.3 525.9L1665.6 529.7L1661.2 529.7L1660.9 525.9M1575.8 539.2L1578.9 543.0L1582.7 534.7L1584.8 525.9L1588.5 523.4L1598.3 521.5L1603.4 517.1L1607.5 518.9L1605.5 527.2L1608.9 534.7L1609.8 525.3L1613.8 520.8L1620.4 520.8L1626.5 526.5L1637.6 526.5L1646.2 529.1L1654.2 525.9L1660.2 530.3L1667.6 539.8L1677.9 544.2L1687.0 555.6L1698.2 556.2L1707.7 557.5L1718.1 563.8L1724.0 571.4L1729.9 582.1L1730.1 590.3L1738.4 596.7L1746.8 597.9L1758.9 604.2L1763.2 609.9L1774.3 611.2L1785.4 611.2L1793.6 616.9L1801.6 623.8L1810.9 627.0L1812.4 637.7L1810.7 650.4L1801.4 659.8L1794.7 669.3L1786.7 675.6L1783.6 688.3L1781.3 700.9L1775.6 710.4L1770.5 721.8L1763.9 732.5L1757.2 738.2L1748.8 738.8L1739.7 743.2L1728.8 747.7L1719.0 754.6L1714.7 764.1L1710.7 773.6L1701.1 783.0L1688.9 794.4L1680.7 802.0L1671.0 810.2L1662.5 814.0L1653.1 811.5L1646.9 808.3L1649.4 816.5L1646.7 824.1L1639.8 833.5L1628.1 838.6L1614.9 839.2L1608.5 849.2L1594.1 852.4L1593.4 861.8L1586.6 864.9L1577.4 877.3L1565.0 883.5L1566.2 892.8L1553.4 902.0L1539.7 912.4L1535.7 922.2L1522.7 925.2L1511.9 929.4L1507.1 922.2L1510.5 911.2L1516.1 899.0L1526.6 888.5L1524.2 883.5L1539.0 874.2L1547.7 861.8L1548.1 852.4L1555.2 839.8L1559.8 828.5L1567.5 817.8L1577.3 805.2L1582.6 792.5L1587.4 779.9L1591.9 767.2L1598.1 754.6L1601.7 742.0L1605.5 726.2L1607.5 710.4L1601.9 704.1L1591.9 697.1L1582.0 688.3L1578.5 680.7L1574.6 669.9L1570.1 658.6L1566.5 645.9L1561.5 636.5L1555.0 631.4L1554.9 621.9L1560.7 615.0L1563.1 609.3L1557.5 607.4L1561.0 598.6L1562.7 590.3L1569.3 584.7L1570.9 577.7L1577.3 569.5L1575.8 558.8L1575.9 550.5L1573.0 547.4L1575.8 539.2M1524.6 924.6L1534.5 924.0L1533.1 929.4L1539.6 936.6L1528.1 939.6L1516.5 939.6L1510.9 934.2L1517.7 931.2L1524.6 924.6M1574.8 917.3L1582.9 916.1L1589.7 917.9L1580.9 922.2L1573.7 920.3L1574.8 917.3M1671.8 932.4L1678.5 935.4M1498.6 596.7L1502.5 599.2M288.7 1026.4L297.8 1029.5L305.6 1024.3L343.6 1023.3L381.5 1025.4L406.4 1020.1L412.9 1016.4L436.1 1022.2L439.8 1012.6L465.5 1008.8L469.4 1001.1L486.1 1002.2L511.4 1008.8L549.0 1011.0L561.9 1022.2L569.8 1025.4L586.6 1021.2L594.8 1012.6L615.9 1005.5L636.8 1003.3L670.2 1003.3L680.7 1000.0L710.4 1005.5L720.7 1000.0L745.6 1004.4L778.9 1003.3L795.8 1007.7L800.2 1002.2L846.1 1004.4L867.0 1012.1L880.2 1015.3L905.1 1017.4L930.0 1023.3L951.1 1025.4L968.1 1032.1L959.6 1040.3L947.1 1046.3L940.8 1052.7L946.8 1059.0L965.9 1060.4L951.3 1063.2L936.5 1067.3L936.4 1075.9L955.5 1082.2L1005.0 1086.2L1055.8 1090.5L1091.3 1090.5L1112.4 1090.5L1112.2 1088.6L1091.5 1086.2L1091.6 1079.9L1106.0 1075.9L1122.7 1073.8L1106.2 1069.5L1089.2 1065.5L1082.9 1061.3L1097.7 1059.0L1114.4 1057.1L1131.2 1052.7L1156.3 1048.8L1181.6 1046.3L1198.3 1052.7L1219.2 1042.3L1236.0 1042.3L1244.2 1048.8L1269.8 1046.3L1307.0 1044.3L1315.2 1034.2L1330.0 1034.2L1330.1 1038.3L1365.7 1038.3L1395.1 1038.3L1411.4 1032.1L1420.3 1025.4L1437.1 1023.3L1445.1 1017.4L1462.2 1008.8L1487.0 1002.8L1508.4 993.9L1533.1 990.0L1543.5 984.9L1533.0 992.3L1499.5 1002.8L1478.7 1011.0L1474.9 1025.4L1462.0 1038.3L1445.1 1048.8L1415.9 1057.1L1441.1 1057.1L1465.9 1065.5L1487.5 1067.3L1514.5 1063.2L1560.3 1054.7L1590.1 1048.3L1663.0 1032.6L1686.8 1030.1L1722.1 1025.9M1413.9 1027.5L1419.8 1034.2L1436.5 1032.1L1447.6 1021.2M1063.1 1067.7L1069.0 1066.8L1074.2 1068.6L1068.1 1070.4L1063.1 1067.7M1597.2 971.2L1600.7 971.2"/></defs>
<g id="panel0">
<path d="M1557.0 89.6L1565.1 91.4L1573.7 94.2L1582.6 97.3L1591.9 100.6L1601.5 104.1L1611.3 107.9L1621.4 111.9L1631.7 116.1L1642.1 120.4L1652.5 125.0L1662.9 129.6L1673.1 134.4L1682.9 139.2L1692.5 144.2L1701.6 149.1L1710.5 154.2L1719.2 159.3L1727.7 164.5L1736.0 169.7L1744.3 175.0L1752.4 180.4L1760.4 185.8L1768.3 191.3L1776.2 196.8L1784.0 202.3L1791.7 207.9L1799.3 213.6L1806.9 219.3L1814.3 225.0L1821.6 230.8L1828.9 236.6L1836.0 242.4L1842.9 248.3L1849.8 254.2L1856.5 260.1L1863.1 266.1L1869.4 272.1L1875.6 278.1L1881.6 284.1L1887.3 290.2L1892.9 296.3L1898.4 302.4L1903.8 308.5L1909.1 314.6L1914.3 320.8L1919.4 326.9L1924.3 333.1L1929.1 339.3L1933.7 345.5L1938.1 351.7L1942.3 357.9L1946.3 364.1L1950.2 370.4L1954.0 376.6L1957.6 382.8L1961.1 389.0L1964.5 395.3L1967.6 401.5L1970.6 407.8L1973.5 414.0L1976.1 420.2L1978.6 426.5L1980.9 432.7L1983.0 438.9L1985.0 445.2L1986.8 451.4L1988.6 457.6L1990.3 463.9L1991.9 470.1L1993.6 476.3L1995.2 482.6L1996.7 488.8L1998.1 495.0L1999.5 501.3L2000.7 507.5L2001.9 513.7L2002.9 520.0L2003.8 526.2L2004.7 532.4L2005.4 538.7L2006.1 544.9L2006.7 551.1L2007.3 557.4L2007.7 563.6L2008.1 569.8L2008.4 576.1L2008.7 582.3L2008.9 588.5L2009.0 594.8L2008.8 601.0L2008.6 607.3L2008.3 613.5L2008.0 619.7L2007.5 626.0L2007.0 632.2L2006.5 638.4L2005.8 644.7L2005.1 650.9L2004.3 657.1L2003.4 663.4L2002.5 669.6L2001.4 675.8L2000.2 682.1L1999.0 688.3L1997.6 694.5L1996.1 700.8L1994.5 707.0L1992.9 713.2L1991.2 719.5L1989.6 725.7L1987.9 731.9L1986.1 738.2L1984.2 744.4L1982.2 750.6L1980.0 756.9L1977.6 763.1L1975.1 769.3L1972.3 775.6L1969.4 781.8L1966.4 788.0L1963.1 794.3L1959.7 800.5L1956.2 806.8L1952.5 813.0L1948.6 819.2L1944.7 825.4L1940.6 831.7L1936.3 837.9L1931.8 844.1L1927.1 850.3L1922.3 856.4L1917.3 862.6L1912.1 868.8L1906.9 874.9L1901.6 881.0L1896.2 887.1L1890.6 893.2L1885.0 899.3L1879.1 905.4L1873.1 911.4L1866.8 917.4L1860.4 923.4L1853.8 929.3L1847.0 935.2L1840.1 941.1L1833.0 947.0L1825.9 952.8L1818.6 958.6L1811.3 964.4L1803.8 970.1L1796.2 975.7L1788.6 981.4L1780.8 987.0L1773.0 992.5L1765.1 998.0L1757.1 1003.4L1749.1 1008.8L1740.9 1014.2L1732.6 1019.4L1724.2 1024.7L1715.7 1029.8L1706.9 1034.9L1697.9 1039.9L1688.6 1044.9L1678.9 1049.8L1668.9 1054.6L1658.6 1059.3L1648.2 1063.9L1637.8 1068.4L1627.4 1072.7L1617.2 1076.8L1607.2 1080.7L1597.5 1084.4L1588.0 1087.8L1578.9 1091.0L1570.1 1094.0L1561.7 1096.7L1553.8 1099.1L1546.3 1101.2L1539.3 1103.0L470.7 1103.0L463.7 1101.2L456.2 1099.1L448.3 1096.7L439.9 1094.0L431.1 1091.0L422.0 1087.8L412.5 1084.4L402.8 1080.7L392.8 1076.8L382.6 1072.7L372.2 1068.4L361.8 1063.9L351.4 1059.3L341.1 1054.6L331.1 1049.8L321.4 1044.9L312.1 1039.9L303.1 1034.9L294.3 1029.8L285.8 1024.7L277.4 1019.4L269.1 1014.2L260.9 1008.8L252.9 1003.4L244.9 998.0L237.0 992.5L229.2 987.0L221.4 981.4L213.8 975.7L206.2 970.1L198.7 964.4L191.4 958.6L184.1 952.8L177.0 947.0L169.9 941.1L163.0 935.2L156.2 929.3L149.6 923.4L143.2 917.4L136.9 911.4L130.9 905.4L125.0 899.3L119.4 893.2L113.8 887.1L108.4 881.0L103.1 874.9L97.9 868.8L92.7 862.6L87.7 856.4L82.9 850.3L78.2 844.1L73.7 837.9L69.4 831.7L65.3 825.4L61.4 819.2L57.5 813.0L53.8 806.8L50.3 800.5L46.9 794.3L43.6 788.0L40.6 781.8L37.7 775.6L34.9 769.3L32.4 763.1L30.0 756.9L27.8 750.6L25.8 744.4L23.9 738.2L22.1 731.9L20.4 725.7L18.8 719.5L17.1 713.2L15.5 707.0L13.9 700.8L12.4 694.5L11.0 688.3L9.8 682.1L8.6 675.8L7.5 669.6L6.6 663.4L5.7 657.1L4.9 650.9L4.2 644.7L3.5 638.4L3.0 632.2L2.5 626.0L2.0 619.7L1.7 613.5L1.4 607.3L1.2 601.0L1.0 594.8L1.1 588.5L1.3 582.3L1.6 576.1L1.9 569.8L2.3 563.6L2.7 557.4L3.3 551.1L3.9 544.9L4.6 538.7L5.3 532.4L6.2 526.2L7.1 520.0L8.1 513.7L9.3 507.5L10.5 501.3L11.9 495.0L13.3 488.8L14.8 482.6L16.4 476.3L18.1 470.1L19.7 463.9L21.4 457.6L23.2 451.4L25.0 445.2L27.0 438.9L29.1 432.7L31.4 426.5L33.9 420.2L36.5 414.0L39.4 407.8L42.4 401.5L45.5 395.3L48.9 389.0L52.4 382.8L56.0 376.6L59.8 370.4L63.7 364.1L67.7 357.9L71.9 351.7L76.3 345.5L80.9 339.3L85.7 333.1L90.6 326.9L95.7 320.8L100.9 314.6L106.2 308.5L111.6 302.4L117.1 296.3L122.7 290.2L128.4 284.1L134.4 278.1L140.6 272.1L146.9 266.1L153.5 260.1L160.2 254.2L167.1 248.3L174.0 242.4L181.1 236.6L188.4 230.8L195.7 225.0L203.1 219.3L210.7 213.6L218.3 207.9L226.0 202.3L233.8 196.8L241.7 191.3L249.6 185.8L257.6 180.4L265.7 175.0L274.0 169.7L282.3 164.5L290.8 159.3L299.5 154.2L308.4 149.1L317.5 144.2L327.1 139.2L336.9 134.4L347.1 129.6L357.5 125.0L367.9 120.4L378.3 116.1L388.6 111.9L398.7 107.9L408.5 104.1L418.1 100.6L427.4 97.3L436.3 94.2L444.9 91.4L453.0 89.6Z" fill="#d3d3d3"/>
<g shape-rendering="crispEdges"><path fill="#0000cd" d="M1517 114h42v8h-42zM1517 122h67v9h-67zM1525 131h75v8h-75zM1550 139h59v8h-59zM1559 147h50v9h-50zM1567 156h42v8h-42zM1575 164h9v8h-9zM592 306h34v8h-34zM634 306h33v8h-33zM592 314h25v8h-25zM551 322h16v9h-16zM468 331h91v8h-91zM1326 331h16v8h-16zM351 339h83v8h-83zM459 339h100v8h-100zM1301 339h75v8h-75zM351 347h83v9h-83zM459 347h75v9h-75zM551 347h16v9h-16zM1301 347h83v9h-83zM1909 347h16v9h-16zM68 356h241v8h-241zM318 356h125v8h-125zM501 356h16v8h-16zM559 356h8v8h-8zM1301 356h108v8h-108zM1892 356h33v8h-33zM59 364h392v8h-392zM1309 364h100v8h-100zM1892 364h33v8h-33zM51 372h400v9h-400zM1317 372h100v9h-100zM1892 372h67v9h-67zM51 381h400v8h-400zM1317 381h100v8h-100zM1692 381h17v8h-17zM1892 381h67v8h-67zM43 389h408v8h-408zM1317 389h100v8h-100zM1667 389h125v8h-125zM1884 389h83v8h-83zM43 397h408v9h-408zM1326 397h100v9h-100zM1650 397h142v9h-142zM1884 397h83v9h-83zM34 406h425v8h-425zM1326 406h100v8h-100zM1650 406h159v8h-159zM1867 406h108v8h-108zM34 414h442v8h-442zM1326 414h100v8h-100zM1642 414h333v8h-333zM26 422h467v9h-467zM1359 422h83v9h-83zM1542 422h292v9h-292zM1884 422h100v9h-100zM26 431h491v8h-491zM1009 431h142v8h-142zM1359 431h83v8h-83zM1542 431h292v8h-292zM1884 431h100v8h-100zM26 439h491v8h-491zM951 439h8v8h-8zM967 439h175v8h-175zM1367 439h92v8h-92zM1476 439h58v8h-58zM1542 439h267v8h-267zM1884 439h100v8h-100zM18 447h425v9h-425zM459 447h67v9h-67zM876 447h25v9h-25zM917 447h225v9h-225zM1151 447h8v9h-8zM1376 447h408v9h-408zM1884 447h108v9h-108zM18 456h416v8h-416zM468 456h83v8h-83zM851 456h316v8h-316zM1384 456h391v8h-391zM1884 456h108v8h-108zM18 464h416v8h-416zM476 464h75v8h-75zM809 464h367v8h-367zM1392 464h59v8h-59zM1467 464h308v8h-308zM1884 464h108v8h-108zM18 472h325v9h-325zM376 472h42v9h-42zM451 472h8v9h-8zM476 472h75v9h-75zM792 472h409v9h-409zM1392 472h59v9h-59zM1467 472h308v9h-308zM1884 472h108v9h-108zM9 481h334v8h-334zM376 481h33v8h-33zM451 481h91v8h-91zM792 481h417v8h-417zM1392 481h100v8h-100zM1501 481h283v8h-283zM1867 481h133v8h-133zM9 489h409v8h-409zM443 489h83v8h-83zM534 489h8v8h-8zM667 489h9v8h-9zM701 489h8v8h-8zM726 489h16v8h-16zM776 489h433v8h-433zM1442 489h50v8h-50zM1501 489h291v8h-291zM1859 489h141v8h-141zM9 497h409v9h-409zM443 497h83v9h-83zM642 497h17v9h-17zM667 497h9v9h-9zM701 497h41v9h-41zM776 497h433v9h-433zM1442 497h358v9h-358zM1859 497h141v9h-141zM9 506h409v8h-409zM443 506h66v8h-66zM634 506h25v8h-25zM667 506h9v8h-9zM709 506h33v8h-33zM784 506h408v8h-408zM1501 506h308v8h-308zM1900 506h100v8h-100zM9 514h200v8h-200zM226 514h192v8h-192zM443 514h58v8h-58zM667 514h9v8h-9zM709 514h42v8h-42zM801 514h391v8h-391zM1534 514h283v8h-283zM59 522h134v9h-134zM234 522h192v9h-192zM443 522h33v9h-33zM717 522h25v9h-25zM834 522h300v9h-300zM1559 522h25v9h-25zM1609 522h208v9h-208zM118 531h66v8h-66zM234 531h242v8h-242zM834 531h283v8h-283zM1667 531h150v8h-150zM234 539h242v8h-242zM892 539h9v8h-9zM917 539h9v8h-9zM942 539h109v8h-109zM1684 539h91v8h-91zM234 547h184v9h-184zM951 547h91v9h-91zM1609 547h8v9h-8zM1692 547h50v9h-50zM234 556h175v8h-175zM992 556h17v8h-17zM1034 556h42v8h-42zM1084 556h50v8h-50zM1142 556h184v8h-184zM1609 556h8v8h-8zM1717 556h17v8h-17zM243 564h166v8h-166zM959 564h400v8h-400zM251 572h158v9h-158zM934 572h417v9h-417zM1359 572h17v9h-17zM1859 572h25v9h-25zM251 581h158v8h-158zM867 581h484v8h-484zM1359 581h25v8h-25zM1825 581h59v8h-59zM259 589h150v8h-150zM859 589h492v8h-492zM1359 589h8v8h-8zM1825 589h50v8h-50zM226 597h175v8h-175zM859 597h442v8h-442zM1792 597h17v8h-17zM1825 597h42v8h-42zM218 605h183v9h-183zM876 605h416v9h-416zM1784 605h83v9h-83zM184 614h9v8h-9zM218 614h175v8h-175zM892 614h400v8h-400zM1792 614h42v8h-42zM184 622h9v8h-9zM218 622h175v8h-175zM892 622h409v8h-409zM1800 622h34v8h-34zM218 630h150v9h-150zM892 630h442v9h-442zM1809 630h58v9h-58zM218 639h150v8h-150zM676 639h33v8h-33zM742 639h25v8h-25zM892 639h459v8h-459zM1359 639h8v8h-8zM1809 639h66v8h-66zM218 647h208v8h-208zM576 647h208v8h-208zM892 647h509v8h-509zM1725 647h50v8h-50zM1809 647h75v8h-75zM226 655h217v9h-217zM576 655h233v9h-233zM901 655h508v9h-508zM1717 655h50v9h-50zM1800 655h92v9h-92zM226 664h217v8h-217zM576 664h233v8h-233zM892 664h542v8h-542zM1717 664h42v8h-42zM1792 664h108v8h-108zM76 672h33v8h-33zM234 672h217v8h-217zM576 672h241v8h-241zM892 672h559v8h-559zM1642 672h8v8h-8zM1709 672h50v8h-50zM1784 672h116v8h-116zM76 680h67v9h-67zM234 680h234v9h-234zM576 680h250v9h-250zM909 680h17v9h-17zM976 680h491v9h-491zM1709 680h41v9h-41zM1784 680h116v9h-116zM76 689h108v8h-108zM234 689h242v8h-242zM584 689h242v8h-242zM909 689h17v8h-17zM976 689h508v8h-508zM1700 689h25v8h-25zM1784 689h116v8h-116zM76 697h142v8h-142zM226 697h250v8h-250zM584 697h242v8h-242zM976 697h525v8h-525zM1700 697h25v8h-25zM1784 697h125v8h-125zM76 705h192v9h-192zM293 705h224v9h-224zM592 705h234v9h-234zM976 705h8v9h-8zM1067 705h450v9h-450zM1675 705h42v9h-42zM1784 705h133v9h-133zM84 714h109v8h-109zM209 714h59v8h-59zM293 714h258v8h-258zM592 714h234v8h-234zM1076 714h449v8h-449zM1692 714h42v8h-42zM1775 714h159v8h-159zM84 722h100v8h-100zM209 722h59v8h-59zM293 722h258v8h-258zM592 722h225v8h-225zM859 722h108v8h-108zM1076 722h458v8h-458zM1700 722h34v8h-34zM1767 722h175v8h-175zM93 730h91v9h-91zM209 730h59v9h-59zM293 730h258v9h-258zM592 730h225v9h-225zM851 730h125v9h-125zM1076 730h466v9h-466zM1709 730h25v9h-25zM1759 730h191v9h-191zM93 739h91v8h-91zM218 739h66v8h-66zM293 739h533v8h-533zM851 739h141v8h-141zM1092 739h25v8h-25zM1159 739h391v8h-391zM1742 739h208v8h-208zM101 747h75v8h-75zM218 747h616v8h-616zM851 747h150v8h-150zM1167 747h50v8h-50zM1359 747h200v8h-200zM1734 747h233v8h-233zM101 755h75v9h-75zM218 755h616v9h-616zM851 755h158v9h-158zM1359 755h200v9h-200zM1725 755h250v9h-250zM68 764h116v8h-116zM193 764h641v8h-641zM859 764h175v8h-175zM1142 764h25v8h-25zM1301 764h274v8h-274zM1584 764h66v8h-66zM1867 764h108v8h-108zM84 772h100v8h-100zM193 772h125v8h-125zM409 772h433v8h-433zM859 772h192v8h-192zM1301 772h349v8h-349zM1934 772h41v8h-41zM93 780h91v9h-91zM193 780h125v9h-125zM409 780h433v9h-433zM859 780h192v9h-192zM1301 780h349v9h-349zM1934 780h33v9h-33zM101 789h83v8h-83zM193 789h16v8h-16zM234 789h59v8h-59zM476 789h41v8h-41zM526 789h316v8h-316zM867 789h184v8h-184zM1317 789h25v8h-25zM1367 789h200v8h-200zM1575 789h75v8h-75zM118 797h66v8h-66zM193 797h8v8h-8zM476 797h41v8h-41zM542 797h300v8h-300zM867 797h175v8h-175zM1317 797h9v8h-9zM1334 797h8v8h-8zM1367 797h9v8h-9zM1401 797h166v8h-166zM1575 797h75v8h-75zM134 805h50v9h-50zM193 805h8v9h-8zM609 805h233v9h-233zM867 805h125v9h-125zM1426 805h224v9h-224zM151 814h42v8h-42zM642 814h200v8h-200zM876 814h116v8h-116zM1451 814h108v8h-108zM1567 814h75v8h-75zM159 822h34v8h-34zM692 822h50v8h-50zM826 822h16v8h-16zM901 822h25v8h-25zM942 822h25v8h-25zM1459 822h100v8h-100zM1567 822h67v8h-67zM959 830h8v9h-8zM1492 830h58v9h-58zM1559 830h75v9h-75zM1525 839h17v8h-17zM1567 839h67v8h-67zM1567 847h67v8h-67zM1567 855h67v9h-67zM1559 864h66v8h-66zM1559 872h58v8h-58zM1559 880h50v9h-50zM1559 889h50v8h-50zM1567 897h17v8h-17zM642 1005h100v9h-100zM792 1005h17v9h-17zM834 1005h17v9h-17zM459 1014h400v8h-400zM284 1022h642v8h-642zM1717 1022h8v8h-8zM301 1030h691v9h-691zM1692 1030h17v9h-17zM318 1039h674v8h-674zM1642 1039h50v8h-50zM334 1047h658v8h-658zM1617 1047h58v8h-58zM351 1055h658v9h-658zM1176 1055h25v9h-25zM1209 1055h17v9h-17zM1600 1055h59v9h-59zM368 1064h866v8h-866zM1276 1064h166v8h-166zM1567 1064h75v8h-75zM393 1072h1232v8h-1232zM409 1080h1191v9h-1191zM434 1089h1141v8h-1141z"/>
<path fill="#4169e1" d="M1384 97h133v9h-133zM1376 106h191v8h-191zM1376 114h141v8h-141zM1559 114h16v8h-16zM1376 122h141v9h-141zM1584 122h41v9h-41zM1392 131h133v8h-133zM1600 131h34v8h-34zM1476 139h74v8h-74zM1609 139h25v8h-25zM1501 147h58v9h-58zM1609 147h25v9h-25zM1117 156h34v8h-34zM1509 156h58v8h-58zM1609 156h25v8h-25zM1117 164h34v8h-34zM1525 164h50v8h-50zM1584 164h41v8h-41zM1126 172h16v9h-16zM1534 172h75v9h-75zM1117 181h59v8h-59zM1217 181h59v8h-59zM1542 181h67v8h-67zM1117 189h59v8h-59zM1217 189h59v8h-59zM1559 189h41v8h-41zM1151 197h41v9h-41zM1567 197h25v9h-25zM1176 206h25v8h-25zM1242 214h92v8h-92zM1242 222h92v9h-92zM1359 239h8v8h-8zM1359 247h17v9h-17zM1334 256h42v8h-42zM676 264h41v8h-41zM1334 264h42v8h-42zM559 272h158v9h-158zM1301 272h83v9h-83zM1834 272h33v9h-33zM551 281h166v8h-166zM1284 281h100v8h-100zM1834 281h41v8h-41zM426 289h308v8h-308zM1284 289h108v8h-108zM1834 289h50v8h-50zM426 297h300v9h-300zM1284 297h108v9h-108zM1834 297h50v9h-50zM426 306h166v8h-166zM626 306h8v8h-8zM667 306h25v8h-25zM701 306h8v8h-8zM1284 306h117v8h-117zM1834 306h58v8h-58zM109 314h42v8h-42zM359 314h233v8h-233zM617 314h59v8h-59zM1276 314h133v8h-133zM1825 314h75v8h-75zM93 322h58v9h-58zM351 322h200v9h-200zM567 322h100v9h-100zM1276 322h141v9h-141zM1825 322h75v9h-75zM84 331h67v8h-67zM326 331h142v8h-142zM559 331h83v8h-83zM1267 331h59v8h-59zM1342 331h84v8h-84zM1717 331h192v8h-192zM76 339h108v8h-108zM201 339h25v8h-25zM284 339h67v8h-67zM434 339h25v8h-25zM559 339h75v8h-75zM1267 339h34v8h-34zM1376 339h58v8h-58zM1700 339h217v8h-217zM68 347h116v9h-116zM201 347h150v9h-150zM434 347h25v9h-25zM534 347h17v9h-17zM567 347h50v9h-50zM1267 347h34v9h-34zM1384 347h58v9h-58zM1684 347h225v9h-225zM1925 347h9v9h-9zM309 356h9v8h-9zM443 356h58v8h-58zM517 356h42v8h-42zM567 356h34v8h-34zM1267 356h34v8h-34zM1409 356h42v8h-42zM1667 356h225v8h-225zM1925 356h17v8h-17zM451 364h150v8h-150zM1267 364h42v8h-42zM1409 364h58v8h-58zM1617 364h275v8h-275zM1925 364h25v8h-25zM451 372h8v9h-8zM476 372h116v9h-116zM1126 372h191v9h-191zM1417 372h59v9h-59zM1609 372h283v9h-283zM451 381h8v8h-8zM476 381h108v8h-108zM1042 381h275v8h-275zM1417 381h67v8h-67zM1600 381h92v8h-92zM1709 381h183v8h-183zM451 389h17v8h-17zM501 389h41v8h-41zM934 389h383v8h-383zM1417 389h133v8h-133zM1592 389h75v8h-75zM1792 389h92v8h-92zM451 397h17v9h-17zM501 397h8v9h-8zM909 397h417v9h-417zM1426 397h224v9h-224zM1792 397h92v9h-92zM459 406h17v8h-17zM892 406h434v8h-434zM1426 406h224v8h-224zM1809 406h58v8h-58zM884 414h442v8h-442zM1426 414h216v8h-216zM501 422h16v9h-16zM826 422h533v9h-533zM1442 422h100v9h-100zM1834 422h50v9h-50zM517 431h9v8h-9zM809 431h200v8h-200zM1151 431h208v8h-208zM1442 431h100v8h-100zM1834 431h50v8h-50zM517 439h34v8h-34zM784 439h167v8h-167zM959 439h8v8h-8zM1142 439h225v8h-225zM1459 439h17v8h-17zM1534 439h8v8h-8zM1809 439h75v8h-75zM443 447h16v9h-16zM526 447h25v9h-25zM776 447h100v9h-100zM901 447h16v9h-16zM1142 447h9v9h-9zM1159 447h217v9h-217zM1784 447h100v9h-100zM434 456h34v8h-34zM551 456h8v8h-8zM751 456h100v8h-100zM1167 456h217v8h-217zM1775 456h109v8h-109zM434 464h42v8h-42zM551 464h8v8h-8zM676 464h25v8h-25zM726 464h83v8h-83zM1176 464h216v8h-216zM1775 464h109v8h-109zM343 472h33v9h-33zM418 472h33v9h-33zM459 472h17v9h-17zM551 472h8v9h-8zM659 472h133v9h-133zM1201 472h191v9h-191zM1775 472h109v9h-109zM343 481h33v8h-33zM409 481h42v8h-42zM542 481h25v8h-25zM634 481h158v8h-158zM1209 481h183v8h-183zM1784 481h83v8h-83zM418 489h25v8h-25zM526 489h8v8h-8zM542 489h42v8h-42zM626 489h41v8h-41zM676 489h25v8h-25zM709 489h17v8h-17zM742 489h34v8h-34zM1209 489h233v8h-233zM1792 489h67v8h-67zM418 497h25v9h-25zM526 497h58v9h-58zM626 497h16v9h-16zM659 497h8v9h-8zM676 497h25v9h-25zM742 497h34v9h-34zM1209 497h233v9h-233zM1800 497h59v9h-59zM418 506h25v8h-25zM509 506h75v8h-75zM617 506h17v8h-17zM659 506h8v8h-8zM676 506h33v8h-33zM742 506h42v8h-42zM1192 506h309v8h-309zM1809 506h91v8h-91zM418 514h25v8h-25zM501 514h83v8h-83zM609 514h58v8h-58zM676 514h33v8h-33zM751 514h50v8h-50zM1192 514h342v8h-342zM1817 514h192v8h-192zM1 522h58v9h-58zM193 522h8v9h-8zM426 522h17v9h-17zM476 522h241v9h-241zM742 522h92v9h-92zM1134 522h425v9h-425zM1584 522h25v9h-25zM1817 522h192v9h-192zM1 531h117v8h-117zM184 531h9v8h-9zM476 531h358v8h-358zM1117 531h342v8h-342zM1476 531h191v8h-191zM1817 531h117v8h-117zM1975 531h34v8h-34zM1 539h17v8h-17zM59 539h134v8h-134zM476 539h416v8h-416zM901 539h16v8h-16zM926 539h16v8h-16zM1051 539h408v8h-408zM1492 539h9v8h-9zM1559 539h16v8h-16zM1600 539h84v8h-84zM1775 539h159v8h-159zM1975 539h34v8h-34zM1 547h8v9h-8zM76 547h117v9h-117zM418 547h108v9h-108zM559 547h33v9h-33zM601 547h16v9h-16zM626 547h325v9h-325zM1042 547h400v9h-400zM1600 547h9v9h-9zM1617 547h75v9h-75zM1742 547h200v9h-200zM84 556h109v8h-109zM409 556h67v8h-67zM592 556h25v8h-25zM676 556h316v8h-316zM1009 556h25v8h-25zM1076 556h8v8h-8zM1134 556h8v8h-8zM1326 556h116v8h-116zM1600 556h9v8h-9zM1617 556h25v8h-25zM1659 556h8v8h-8zM1684 556h33v8h-33zM1734 556h225v8h-225zM151 564h92v8h-92zM409 564h59v8h-59zM676 564h283v8h-283zM1359 564h83v8h-83zM1592 564h50v8h-50zM1659 564h16v8h-16zM1709 564h300v8h-300zM176 572h75v9h-75zM409 572h59v9h-59zM676 572h258v9h-258zM1351 572h8v9h-8zM1376 572h75v9h-75zM1592 572h92v9h-92zM1725 572h134v9h-134zM1884 572h125v9h-125zM176 581h75v8h-75zM409 581h59v8h-59zM676 581h16v8h-16zM726 581h141v8h-141zM1351 581h8v8h-8zM1384 581h125v8h-125zM1592 581h92v8h-92zM1725 581h100v8h-100zM1884 581h100v8h-100zM176 589h83v8h-83zM409 589h59v8h-59zM676 589h25v8h-25zM717 589h142v8h-142zM1351 589h8v8h-8zM1367 589h142v8h-142zM1584 589h100v8h-100zM1717 589h108v8h-108zM1875 589h109v8h-109zM168 597h58v8h-58zM401 597h67v8h-67zM676 597h183v8h-183zM1301 597h208v8h-208zM1575 597h217v8h-217zM1809 597h16v8h-16zM1867 597h75v8h-75zM168 605h50v9h-50zM401 605h83v9h-83zM676 605h83v9h-83zM792 605h84v9h-84zM1292 605h217v9h-217zM1575 605h209v9h-209zM1867 605h58v9h-58zM134 614h50v8h-50zM193 614h25v8h-25zM393 614h91v8h-91zM676 614h83v8h-83zM809 614h83v8h-83zM1292 614h192v8h-192zM1567 614h225v8h-225zM1834 614h83v8h-83zM101 622h83v8h-83zM193 622h25v8h-25zM393 622h141v8h-141zM609 622h150v8h-150zM817 622h75v8h-75zM1301 622h175v8h-175zM1567 622h233v8h-233zM1834 622h83v8h-83zM101 630h117v9h-117zM368 630h166v9h-166zM584 630h183v9h-183zM826 630h66v9h-66zM1334 630h142v9h-142zM1575 630h234v9h-234zM1867 630h108v9h-108zM93 639h125v8h-125zM368 639h308v8h-308zM709 639h33v8h-33zM767 639h9v8h-9zM809 639h83v8h-83zM1351 639h8v8h-8zM1367 639h109v8h-109zM1584 639h225v8h-225zM1875 639h92v8h-92zM76 647h142v8h-142zM426 647h150v8h-150zM784 647h108v8h-108zM1401 647h108v8h-108zM1592 647h133v8h-133zM1775 647h34v8h-34zM1 655h8v9h-8zM76 655h150v9h-150zM443 655h133v9h-133zM809 655h92v9h-92zM1409 655h108v9h-108zM1592 655h125v9h-125zM1767 655h33v9h-33zM76 664h150v8h-150zM443 664h133v8h-133zM809 664h83v8h-83zM1434 664h100v8h-100zM1592 664h125v8h-125zM1759 664h33v8h-33zM109 672h125v8h-125zM451 672h125v8h-125zM817 672h75v8h-75zM1451 672h83v8h-83zM1609 672h33v8h-33zM1650 672h59v8h-59zM1759 672h25v8h-25zM143 680h91v9h-91zM468 680h108v9h-108zM826 680h83v9h-83zM926 680h50v9h-50zM1467 680h75v9h-75zM1584 680h8v9h-8zM1625 680h84v9h-84zM1750 680h34v9h-34zM9 689h9v8h-9zM68 689h8v8h-8zM184 689h50v8h-50zM476 689h108v8h-108zM826 689h83v8h-83zM926 689h50v8h-50zM1484 689h75v8h-75zM1584 689h16v8h-16zM1634 689h66v8h-66zM1725 689h59v8h-59zM9 697h9v8h-9zM68 697h8v8h-8zM218 697h8v8h-8zM476 697h108v8h-108zM826 697h150v8h-150zM1501 697h58v8h-58zM1584 697h25v8h-25zM1634 697h66v8h-66zM1725 697h59v8h-59zM18 705h8v9h-8zM68 705h8v9h-8zM268 705h25v9h-25zM517 705h75v9h-75zM826 705h150v9h-150zM984 705h83v9h-83zM1517 705h42v9h-42zM1600 705h17v9h-17zM1634 705h41v9h-41zM1717 705h67v9h-67zM18 714h16v8h-16zM68 714h16v8h-16zM193 714h16v8h-16zM268 714h25v8h-25zM551 714h41v8h-41zM826 714h250v8h-250zM1525 714h42v8h-42zM1600 714h17v8h-17zM1634 714h58v8h-58zM1734 714h41v8h-41zM1934 714h8v8h-8zM18 722h66v8h-66zM184 722h25v8h-25zM268 722h25v8h-25zM551 722h41v8h-41zM817 722h42v8h-42zM967 722h109v8h-109zM1534 722h41v8h-41zM1592 722h25v8h-25zM1634 722h66v8h-66zM1734 722h33v8h-33zM1942 722h17v8h-17zM18 730h75v9h-75zM184 730h25v9h-25zM268 730h25v9h-25zM551 730h41v9h-41zM817 730h34v9h-34zM976 730h100v9h-100zM1542 730h42v9h-42zM1592 730h117v9h-117zM1734 730h25v9h-25zM1950 730h9v9h-9zM26 739h67v8h-67zM184 739h34v8h-34zM284 739h9v8h-9zM826 739h25v8h-25zM992 739h100v8h-100zM1117 739h42v8h-42zM1550 739h34v8h-34zM1592 739h125v8h-125zM1950 739h17v8h-17zM26 747h75v8h-75zM176 747h42v8h-42zM834 747h17v8h-17zM1001 747h166v8h-166zM1217 747h142v8h-142zM1559 747h150v8h-150zM1967 747h17v8h-17zM26 755h75v9h-75zM176 755h42v9h-42zM834 755h17v9h-17zM1009 755h350v9h-350zM1559 755h141v9h-141zM1975 755h9v9h-9zM34 764h34v8h-34zM184 764h9v8h-9zM834 764h25v8h-25zM1034 764h108v8h-108zM1167 764h134v8h-134zM1575 764h9v8h-9zM1650 764h217v8h-217zM34 772h50v8h-50zM184 772h9v8h-9zM318 772h91v8h-91zM842 772h17v8h-17zM1051 772h250v8h-250zM1650 772h284v8h-284zM43 780h50v9h-50zM184 780h9v9h-9zM318 780h91v9h-91zM842 780h17v9h-17zM1051 780h250v9h-250zM1650 780h284v9h-284zM43 789h58v8h-58zM184 789h9v8h-9zM209 789h25v8h-25zM293 789h183v8h-183zM517 789h9v8h-9zM842 789h25v8h-25zM1051 789h266v8h-266zM1342 789h25v8h-25zM1567 789h8v8h-8zM1650 789h317v8h-317zM51 797h67v8h-67zM184 797h9v8h-9zM201 797h275v8h-275zM517 797h25v8h-25zM842 797h25v8h-25zM1042 797h275v8h-275zM1326 797h8v8h-8zM1342 797h25v8h-25zM1376 797h25v8h-25zM1567 797h8v8h-8zM1650 797h309v8h-309zM51 805h83v9h-83zM184 805h9v9h-9zM201 805h408v9h-408zM842 805h25v9h-25zM992 805h434v9h-434zM1650 805h125v9h-125zM1784 805h175v9h-175zM59 814h92v8h-92zM193 814h449v8h-449zM842 814h34v8h-34zM992 814h459v8h-459zM1559 814h8v8h-8zM1642 814h100v8h-100zM1784 814h166v8h-166zM68 822h91v8h-91zM193 822h499v8h-499zM742 822h84v8h-84zM842 822h59v8h-59zM926 822h16v8h-16zM967 822h492v8h-492zM1559 822h8v8h-8zM1634 822h100v8h-100zM1784 822h158v8h-158zM68 830h191v9h-191zM393 830h566v9h-566zM967 830h525v9h-525zM1550 830h9v9h-9zM1634 830h108v9h-108zM1834 830h100v9h-100zM101 839h158v8h-158zM409 839h1116v8h-1116zM1542 839h25v8h-25zM1634 839h116v8h-116zM1867 839h25v8h-25zM101 847h158v8h-158zM451 847h25v8h-25zM526 847h1041v8h-1041zM1634 847h125v8h-125zM651 855h916v9h-916zM1634 855h133v9h-133zM692 864h600v8h-600zM1301 864h50v8h-50zM1376 864h183v8h-183zM1625 864h109v8h-109zM717 872h517v8h-517zM1434 872h125v8h-125zM1617 872h117v8h-117zM801 880h408v9h-408zM1492 880h17v9h-17zM1525 880h34v9h-34zM1609 880h66v9h-66zM826 889h233v8h-233zM1534 889h25v8h-25zM1609 889h58v8h-58zM859 897h42v8h-42zM942 897h75v8h-75zM1534 897h33v8h-33zM1584 897h83v8h-83zM951 905h66v9h-66zM1525 905h125v9h-125zM967 914h34v8h-34zM1525 914h109v8h-109zM1534 922h66v8h-66zM1542 930h58v9h-58zM1542 939h33v8h-33zM1542 947h33v8h-33zM676 980h33v9h-33zM493 989h74v8h-74zM609 989h142v8h-142zM459 997h408v8h-408zM1517 997h58v8h-58zM259 1005h383v9h-383zM742 1005h50v9h-50zM809 1005h25v9h-25zM851 1005h75v9h-75zM1484 1005h108v9h-108zM1725 1005h25v9h-25zM276 1014h183v8h-183zM859 1014h108v8h-108zM1484 1014h108v8h-108zM1675 1014h9v8h-9zM1709 1014h25v8h-25zM926 1022h150v8h-150zM1209 1022h17v8h-17zM1234 1022h8v8h-8zM1359 1022h42v8h-42zM1467 1022h250v8h-250zM992 1030h700v9h-700zM992 1039h650v8h-650zM992 1047h625v8h-625zM1009 1055h167v9h-167zM1201 1055h8v9h-8zM1226 1055h374v9h-374zM1234 1064h42v8h-42zM1442 1064h125v8h-125z"/>
<path fill="#799bf1" d="M443 89h74v8h-74zM1084 89h483v8h-483zM418 97h50v9h-50zM951 97h433v9h-433zM1517 97h83v9h-83zM942 106h434v8h-434zM1567 106h50v8h-50zM917 114h459v8h-459zM1575 114h67v8h-67zM759 122h50v9h-50zM892 122h484v9h-484zM1625 122h34v9h-34zM726 131h666v8h-666zM1634 131h41v8h-41zM701 139h775v8h-775zM1634 139h33v8h-33zM676 147h358v9h-358zM1059 147h442v9h-442zM1634 147h33v9h-33zM676 156h341v8h-341zM1059 156h58v8h-58zM1151 156h358v8h-358zM1634 156h50v8h-50zM276 164h83v8h-83zM676 164h266v8h-266zM1059 164h58v8h-58zM1151 164h208v8h-208zM1434 164h91v8h-91zM1625 164h67v8h-67zM259 172h59v9h-59zM676 172h241v9h-241zM1059 172h67v9h-67zM1142 172h159v9h-159zM1451 172h83v9h-83zM1609 172h100v9h-100zM251 181h50v8h-50zM343 181h8v8h-8zM676 181h225v8h-225zM1076 181h41v8h-41zM1176 181h41v8h-41zM1276 181h25v8h-25zM1492 181h50v8h-50zM1609 181h25v8h-25zM1642 181h17v8h-17zM1750 181h9v8h-9zM234 189h50v8h-50zM318 189h33v8h-33zM676 189h200v8h-200zM1084 189h33v8h-33zM1176 189h41v8h-41zM1276 189h25v8h-25zM1501 189h58v8h-58zM1600 189h34v8h-34zM1650 189h9v8h-9zM1750 189h25v8h-25zM226 197h42v9h-42zM284 197h50v9h-50zM676 197h191v9h-191zM1092 197h59v9h-59zM1192 197h167v9h-167zM1392 197h25v9h-25zM1517 197h50v9h-50zM1592 197h42v9h-42zM1650 197h9v9h-9zM1759 197h25v9h-25zM209 206h100v8h-100zM659 206h192v8h-192zM1101 206h75v8h-75zM1201 206h158v8h-158zM1384 206h58v8h-58zM1567 206h67v8h-67zM1759 206h41v8h-41zM201 214h83v8h-83zM659 214h92v8h-92zM767 214h42v8h-42zM1126 214h116v8h-116zM1334 214h25v8h-25zM1384 214h67v8h-67zM1575 214h50v8h-50zM1742 214h67v8h-67zM193 222h66v9h-66zM651 222h83v9h-83zM1142 222h100v9h-100zM1334 222h25v9h-25zM1392 222h67v9h-67zM1734 222h83v9h-83zM184 231h34v8h-34zM468 231h41v8h-41zM651 231h83v8h-83zM1151 231h216v8h-216zM1409 231h58v8h-58zM1742 231h83v8h-83zM168 239h50v8h-50zM451 239h66v8h-66zM642 239h92v8h-92zM1167 239h192v8h-192zM1367 239h17v8h-17zM1417 239h59v8h-59zM1742 239h100v8h-100zM159 247h59v9h-59zM451 247h83v9h-83zM634 247h100v9h-100zM1184 247h175v9h-175zM1376 247h25v9h-25zM1426 247h50v9h-50zM1725 247h125v9h-125zM151 256h33v8h-33zM434 256h100v8h-100zM626 256h108v8h-108zM1192 256h142v8h-142zM1376 256h33v8h-33zM1459 256h25v8h-25zM1700 256h159v8h-159zM143 264h25v8h-25zM359 264h183v8h-183zM617 264h59v8h-59zM717 264h17v8h-17zM1201 264h133v8h-133zM1376 264h41v8h-41zM1467 264h17v8h-17zM1700 264h167v8h-167zM134 272h25v9h-25zM343 272h199v9h-199zM551 272h8v9h-8zM717 272h17v9h-17zM1201 272h100v9h-100zM1384 272h42v9h-42zM1559 272h41v9h-41zM1717 272h117v9h-117zM1867 272h8v9h-8zM126 281h25v8h-25zM326 281h225v8h-225zM717 281h17v8h-17zM1209 281h75v8h-75zM1384 281h58v8h-58zM1550 281h100v8h-100zM1717 281h117v8h-117zM1875 281h9v8h-9zM118 289h33v8h-33zM309 289h117v8h-117zM1201 289h83v8h-83zM1392 289h59v8h-59zM1542 289h133v8h-133zM1717 289h117v8h-117zM1884 289h8v8h-8zM109 297h42v9h-42zM243 297h25v9h-25zM276 297h150v9h-150zM1201 297h83v9h-83zM1392 297h67v9h-67zM1542 297h142v9h-142zM1717 297h117v9h-117zM1884 297h16v9h-16zM101 306h92v8h-92zM234 306h192v8h-192zM692 306h9v8h-9zM709 306h8v8h-8zM1184 306h100v8h-100zM1401 306h58v8h-58zM1542 306h142v8h-142zM1717 306h117v8h-117zM1892 306h17v8h-17zM93 314h16v8h-16zM151 314h208v8h-208zM676 314h33v8h-33zM1167 314h109v8h-109zM1409 314h58v8h-58zM1550 314h50v8h-50zM1659 314h25v8h-25zM1717 314h108v8h-108zM1900 314h17v8h-17zM151 322h200v9h-200zM667 322h34v9h-34zM1159 322h117v9h-117zM1417 322h59v9h-59zM1550 322h34v9h-34zM1659 322h166v9h-166zM1900 322h25v9h-25zM151 331h175v8h-175zM642 331h59v8h-59zM1134 331h133v8h-133zM1426 331h66v8h-66zM1542 331h25v8h-25zM1659 331h58v8h-58zM1909 331h16v8h-16zM184 339h17v8h-17zM226 339h58v8h-58zM676 339h16v8h-16zM1101 339h166v8h-166zM1434 339h58v8h-58zM1542 339h25v8h-25zM1634 339h66v8h-66zM1917 339h17v8h-17zM184 347h17v9h-17zM617 347h17v9h-17zM1076 347h191v9h-191zM1442 347h50v9h-50zM1542 347h25v9h-25zM1617 347h67v9h-67zM1934 347h8v9h-8zM601 356h16v8h-16zM1067 356h200v8h-200zM1451 356h41v8h-41zM1534 356h33v8h-33zM1609 356h58v8h-58zM959 364h308v8h-308zM1467 364h100v8h-100zM1600 364h17v8h-17zM459 372h17v9h-17zM592 372h9v9h-9zM934 372h192v9h-192zM1476 372h133v9h-133zM459 381h17v8h-17zM584 381h8v8h-8zM884 381h158v8h-158zM1484 381h116v8h-116zM468 389h33v8h-33zM542 389h34v8h-34zM851 389h83v8h-83zM1550 389h42v8h-42zM468 397h8v9h-8zM484 397h17v9h-17zM509 397h42v9h-42zM834 397h75v9h-75zM501 406h25v8h-25zM826 406h66v8h-66zM476 414h25v8h-25zM809 414h75v8h-75zM493 422h8v9h-8zM517 422h17v9h-17zM551 422h16v9h-16zM784 422h42v9h-42zM526 431h41v8h-41zM767 431h42v8h-42zM551 439h16v8h-16zM742 439h42v8h-42zM551 447h16v9h-16zM726 447h50v9h-50zM559 456h8v8h-8zM667 456h9v8h-9zM717 456h34v8h-34zM559 464h8v8h-8zM651 464h25v8h-25zM701 464h25v8h-25zM1451 464h16v8h-16zM559 472h17v9h-17zM634 472h25v9h-25zM1451 472h16v9h-16zM567 481h17v8h-17zM1492 481h9v8h-9zM584 489h8v8h-8zM1492 489h9v8h-9zM584 497h8v9h-8zM617 497h9v9h-9zM584 506h8v8h-8zM609 506h8v8h-8zM209 514h17v8h-17zM584 514h25v8h-25zM201 522h33v9h-33zM193 531h41v8h-41zM1459 531h17v8h-17zM1934 531h41v8h-41zM18 539h41v8h-41zM193 539h41v8h-41zM1459 539h33v8h-33zM1501 539h58v8h-58zM1575 539h25v8h-25zM1934 539h8v8h-8zM1959 539h16v8h-16zM9 547h42v9h-42zM193 547h41v9h-41zM526 547h33v9h-33zM592 547h9v9h-9zM617 547h9v9h-9zM1442 547h133v9h-133zM1592 547h8v9h-8zM1942 547h17v9h-17zM1967 547h42v9h-42zM1 556h50v8h-50zM76 556h8v8h-8zM193 556h41v8h-41zM476 556h116v8h-116zM617 556h59v8h-59zM1442 556h125v8h-125zM1592 556h8v8h-8zM1642 556h17v8h-17zM1667 556h17v8h-17zM1959 556h50v8h-50zM1 564h50v8h-50zM76 564h75v8h-75zM468 564h149v8h-149zM659 564h17v8h-17zM1442 564h133v8h-133zM1642 564h17v8h-17zM1675 564h34v8h-34zM1 572h50v9h-50zM76 572h100v9h-100zM468 572h149v9h-149zM667 572h9v9h-9zM1451 572h108v9h-108zM1684 572h41v9h-41zM1 581h50v8h-50zM118 581h25v8h-25zM159 581h17v8h-17zM468 581h58v8h-58zM559 581h58v8h-58zM667 581h9v8h-9zM692 581h34v8h-34zM1509 581h25v8h-25zM1684 581h41v8h-41zM1984 581h25v8h-25zM1 589h50v8h-50zM76 589h8v8h-8zM109 589h34v8h-34zM159 589h17v8h-17zM468 589h58v8h-58zM576 589h41v8h-41zM659 589h17v8h-17zM701 589h16v8h-16zM1509 589h25v8h-25zM1684 589h33v8h-33zM1984 589h25v8h-25zM1 597h58v8h-58zM76 597h67v8h-67zM159 597h9v8h-9zM468 597h58v8h-58zM584 597h42v8h-42zM651 597h25v8h-25zM1509 597h25v8h-25zM1942 597h67v8h-67zM1 605h58v9h-58zM76 605h92v9h-92zM484 605h42v9h-42zM584 605h92v9h-92zM1509 605h16v9h-16zM1925 605h84v9h-84zM1 614h133v8h-133zM484 614h75v8h-75zM584 614h92v8h-92zM1484 614h41v8h-41zM1917 614h92v8h-92zM1 622h100v8h-100zM534 622h75v8h-75zM1476 622h49v8h-49zM1917 622h92v8h-92zM1 630h8v9h-8zM51 630h50v9h-50zM534 630h50v9h-50zM1476 630h49v9h-49zM1559 630h16v9h-16zM1975 630h34v9h-34zM1 639h8v8h-8zM51 639h42v8h-42zM1476 639h49v8h-49zM1559 639h25v8h-25zM1967 639h42v8h-42zM1 647h8v8h-8zM51 647h25v8h-25zM1509 647h25v8h-25zM1559 647h33v8h-33zM1884 647h125v8h-125zM51 655h25v9h-25zM1517 655h25v9h-25zM1567 655h25v9h-25zM1892 655h117v9h-117zM51 664h25v8h-25zM1534 664h16v8h-16zM1567 664h25v8h-25zM1900 664h109v8h-109zM51 672h25v8h-25zM1534 672h16v8h-16zM1567 672h25v8h-25zM1600 672h9v8h-9zM1900 672h100v8h-100zM51 680h25v9h-25zM1542 680h42v9h-42zM1592 680h17v9h-17zM1617 680h8v9h-8zM1900 680h100v9h-100zM18 689h50v8h-50zM1559 689h25v8h-25zM1600 689h34v8h-34zM1900 689h100v8h-100zM18 697h50v8h-50zM1559 697h25v8h-25zM1609 697h25v8h-25zM1909 697h91v8h-91zM26 705h42v9h-42zM1559 705h16v9h-16zM1617 705h17v9h-17zM1917 705h75v9h-75zM34 714h34v8h-34zM1567 714h8v8h-8zM1617 714h17v8h-17zM1942 714h50v8h-50zM1575 722h17v8h-17zM1617 722h17v8h-17zM1959 722h33v8h-33zM1584 730h8v9h-8zM1959 730h33v9h-33zM1584 739h8v8h-8zM1717 739h25v8h-25zM1967 739h17v8h-17zM1709 747h25v8h-25zM1700 755h25v9h-25zM1775 805h9v9h-9zM1742 814h42v8h-42zM1734 822h50v8h-50zM1942 822h8v8h-8zM259 830h134v9h-134zM1742 830h92v9h-92zM1934 830h8v9h-8zM76 839h25v8h-25zM259 839h150v8h-150zM1750 839h117v8h-117zM1892 839h42v8h-42zM84 847h17v8h-17zM259 847h192v8h-192zM476 847h50v8h-50zM1759 847h166v8h-166zM84 855h567v9h-567zM1767 855h158v9h-158zM93 864h599v8h-599zM1292 864h9v8h-9zM1351 864h25v8h-25zM1734 864h183v8h-183zM101 872h616v8h-616zM1234 872h200v8h-200zM1734 872h175v8h-175zM109 880h692v9h-692zM1209 880h283v9h-283zM1509 880h16v9h-16zM1675 880h225v9h-225zM118 889h424v8h-424zM567 889h259v8h-259zM1059 889h475v8h-475zM1667 889h225v8h-225zM218 897h316v8h-316zM584 897h275v8h-275zM901 897h41v8h-41zM1017 897h517v8h-517zM1667 897h217v8h-217zM334 905h34v9h-34zM409 905h50v9h-50zM493 905h41v9h-41zM584 905h367v9h-367zM1017 905h508v9h-508zM1650 905h209v9h-209zM434 914h9v8h-9zM493 914h41v8h-41zM609 914h358v8h-358zM1001 914h524v8h-524zM1634 914h133v8h-133zM1792 914h58v8h-58zM509 922h33v8h-33zM617 922h34v8h-34zM676 922h41v8h-41zM742 922h792v8h-792zM1600 922h125v8h-125zM1809 922h41v8h-41zM159 930h34v9h-34zM517 930h34v9h-34zM626 930h25v9h-25zM726 930h525v9h-525zM1259 930h283v9h-283zM1600 930h125v9h-125zM1767 930h83v9h-83zM168 939h66v8h-66zM517 939h34v8h-34zM726 939h466v8h-466zM1284 939h258v8h-258zM1575 939h150v8h-150zM1750 939h92v8h-92zM176 947h58v8h-58zM517 947h50v8h-50zM726 947h466v8h-466zM1284 947h258v8h-258zM1575 947h150v8h-150zM1750 947h84v8h-84zM193 955h108v9h-108zM351 955h8v9h-8zM368 955h208v9h-208zM617 955h50v9h-50zM676 955h258v9h-258zM967 955h200v9h-200zM1317 955h500v9h-500zM201 964h700v8h-700zM909 964h8v8h-8zM967 964h200v8h-200zM1317 964h492v8h-492zM209 972h750v8h-750zM992 972h150v8h-150zM1159 972h8v8h-8zM1317 972h483v8h-483zM226 980h450v9h-450zM709 980h517v9h-517zM1234 980h550v9h-550zM234 989h259v8h-259zM567 989h42v8h-42zM751 989h1024v8h-1024zM251 997h208v8h-208zM867 997h650v8h-650zM1575 997h184v8h-184zM926 1005h558v9h-558zM1592 1005h133v9h-133zM967 1014h517v8h-517zM1592 1014h83v8h-83zM1684 1014h25v8h-25zM1076 1022h133v8h-133zM1226 1022h8v8h-8zM1242 1022h117v8h-117zM1401 1022h66v8h-66z"/>
<path fill="#b0e0e6" d="M517 89h567v8h-567zM468 97h483v9h-483zM393 106h549v8h-549zM368 114h91v8h-91zM634 114h283v8h-283zM351 122h17v9h-17zM393 122h58v9h-58zM576 122h183v9h-183zM809 122h83v9h-83zM334 131h34v8h-34zM393 131h50v8h-50zM576 131h150v8h-150zM318 139h25v8h-25zM567 139h134v8h-134zM1667 139h25v8h-25zM301 147h42v9h-42zM559 147h117v9h-117zM1034 147h25v9h-25zM1667 147h42v9h-42zM284 156h159v8h-159zM551 156h125v8h-125zM1017 156h42v8h-42zM1684 156h41v8h-41zM359 164h158v8h-158zM542 164h134v8h-134zM942 164h117v8h-117zM1359 164h75v8h-75zM1692 164h42v8h-42zM318 172h358v9h-358zM917 172h142v9h-142zM1301 172h150v9h-150zM1709 172h41v9h-41zM301 181h42v8h-42zM351 181h117v8h-117zM509 181h92v8h-92zM617 181h59v8h-59zM901 181h175v8h-175zM1301 181h191v8h-191zM1634 181h8v8h-8zM1659 181h91v8h-91zM284 189h34v8h-34zM351 189h117v8h-117zM509 189h83v8h-83zM617 189h59v8h-59zM876 189h208v8h-208zM1301 189h200v8h-200zM1634 189h16v8h-16zM1659 189h91v8h-91zM268 197h16v9h-16zM334 197h100v9h-100zM501 197h75v9h-75zM634 197h42v9h-42zM867 197h225v9h-225zM1359 197h33v9h-33zM1417 197h100v9h-100zM1634 197h16v9h-16zM1659 197h100v9h-100zM309 206h84v8h-84zM401 206h33v8h-33zM476 206h58v8h-58zM634 206h25v8h-25zM851 206h91v8h-91zM1017 206h84v8h-84zM1359 206h25v8h-25zM1442 206h125v8h-125zM1634 206h125v8h-125zM284 214h75v8h-75zM401 214h8v8h-8zM476 214h58v8h-58zM634 214h25v8h-25zM751 214h16v8h-16zM809 214h133v8h-133zM1017 214h109v8h-109zM1359 214h25v8h-25zM1451 214h124v8h-124zM1625 214h117v8h-117zM259 222h59v9h-59zM401 222h8v9h-8zM468 222h74v9h-74zM617 222h34v9h-34zM734 222h200v9h-200zM1026 222h116v9h-116zM1359 222h33v9h-33zM1459 222h275v9h-275zM218 231h83v8h-83zM384 231h25v8h-25zM509 231h42v8h-42zM609 231h42v8h-42zM734 231h117v8h-117zM892 231h42v8h-42zM1042 231h109v8h-109zM1367 231h42v8h-42zM1467 231h275v8h-275zM218 239h75v8h-75zM359 239h92v8h-92zM517 239h42v8h-42zM609 239h33v8h-33zM734 239h108v8h-108zM901 239h25v8h-25zM1051 239h116v8h-116zM1384 239h33v8h-33zM1476 239h266v8h-266zM218 247h50v9h-50zM334 247h117v9h-117zM534 247h25v9h-25zM609 247h25v9h-25zM734 247h83v9h-83zM892 247h25v9h-25zM1101 247h83v9h-83zM1401 247h25v9h-25zM1476 247h249v9h-249zM184 256h75v8h-75zM326 256h108v8h-108zM534 256h25v8h-25zM584 256h42v8h-42zM734 256h58v8h-58zM892 256h25v8h-25zM1101 256h91v8h-91zM1409 256h50v8h-50zM1484 256h216v8h-216zM168 264h191v8h-191zM542 264h17v8h-17zM584 264h33v8h-33zM734 264h42v8h-42zM892 264h9v8h-9zM1076 264h125v8h-125zM1417 264h50v8h-50zM1484 264h216v8h-216zM159 272h59v9h-59zM251 272h92v9h-92zM542 272h9v9h-9zM734 272h33v9h-33zM1067 272h134v9h-134zM1426 272h133v9h-133zM1600 272h117v9h-117zM151 281h42v8h-42zM209 281h117v8h-117zM734 281h25v8h-25zM1059 281h150v8h-150zM1442 281h108v8h-108zM1650 281h67v8h-67zM151 289h158v8h-158zM734 289h17v8h-17zM1051 289h150v8h-150zM1451 289h91v8h-91zM1675 289h42v8h-42zM151 297h83v9h-83zM268 297h8v9h-8zM726 297h16v9h-16zM1051 297h150v9h-150zM1459 297h83v9h-83zM1684 297h33v9h-33zM193 306h41v8h-41zM717 306h9v8h-9zM1051 306h133v8h-133zM1459 306h83v8h-83zM1684 306h33v8h-33zM709 314h8v8h-8zM1042 314h125v8h-125zM1467 314h67v8h-67zM1600 314h59v8h-59zM1684 314h33v8h-33zM701 322h16v9h-16zM1042 322h117v9h-117zM1476 322h58v9h-58zM1584 322h75v9h-75zM992 331h142v8h-142zM1492 331h50v8h-50zM1567 331h92v8h-92zM634 339h42v8h-42zM692 339h9v8h-9zM976 339h125v8h-125zM1492 339h50v8h-50zM1567 339h67v8h-67zM634 347h67v9h-67zM967 347h109v9h-109zM1492 347h50v9h-50zM1567 347h50v9h-50zM617 356h84v8h-84zM926 356h141v8h-141zM1492 356h42v8h-42zM1567 356h42v8h-42zM601 364h8v8h-8zM651 364h41v8h-41zM892 364h67v8h-67zM1567 364h33v8h-33zM651 372h33v9h-33zM867 372h67v9h-67zM592 381h9v8h-9zM651 381h16v8h-16zM851 381h33v8h-33zM576 389h16v8h-16zM817 389h34v8h-34zM476 397h8v9h-8zM551 397h33v9h-33zM801 397h33v9h-33zM476 406h25v8h-25zM526 406h16v8h-16zM784 406h42v8h-42zM501 414h41v8h-41zM567 414h9v8h-9zM776 414h33v8h-33zM534 422h17v9h-17zM567 422h17v9h-17zM751 422h33v9h-33zM567 431h17v8h-17zM742 431h25v8h-25zM567 439h9v8h-9zM717 439h25v8h-25zM567 447h9v9h-9zM659 447h33v9h-33zM701 447h25v9h-25zM567 456h9v8h-9zM651 456h16v8h-16zM676 456h41v8h-41zM567 464h9v8h-9zM576 472h8v9h-8zM626 472h8v9h-8zM584 481h8v8h-8zM626 481h8v8h-8zM609 489h17v8h-17zM592 497h25v9h-25zM592 506h17v8h-17zM1942 539h17v8h-17zM51 547h25v9h-25zM59 556h17v8h-17zM1567 556h8v8h-8zM68 564h8v8h-8zM617 564h42v8h-42zM617 572h50v9h-50zM1559 572h16v9h-16zM76 581h42v8h-42zM143 581h16v8h-16zM526 581h33v8h-33zM617 581h9v8h-9zM642 581h25v8h-25zM1534 581h33v8h-33zM84 589h25v8h-25zM143 589h16v8h-16zM526 589h33v8h-33zM617 589h9v8h-9zM642 589h17v8h-17zM1534 589h33v8h-33zM1575 589h9v8h-9zM143 597h16v8h-16zM526 597h58v8h-58zM626 597h25v8h-25zM1534 597h8v8h-8zM526 605h58v9h-58zM759 605h33v9h-33zM1525 605h17v9h-17zM559 614h25v8h-25zM759 614h17v8h-17zM792 614h17v8h-17zM1525 614h17v8h-17zM1559 614h8v8h-8zM759 622h17v8h-17zM792 622h25v8h-25zM1525 622h17v8h-17zM1559 622h8v8h-8zM9 630h42v9h-42zM767 630h59v9h-59zM1525 630h17v9h-17zM9 639h42v8h-42zM776 639h33v8h-33zM1525 639h17v8h-17zM9 647h42v8h-42zM1534 647h16v8h-16zM9 655h42v9h-42zM1542 655h25v9h-25zM9 664h42v8h-42zM1550 664h17v8h-17zM9 672h42v8h-42zM1550 672h17v8h-17zM1592 672h8v8h-8zM9 680h42v9h-42zM1609 680h8v9h-8zM1575 705h25v9h-25zM1575 714h25v8h-25zM542 889h25v8h-25zM126 897h92v8h-92zM534 897h50v8h-50zM134 905h200v9h-200zM368 905h41v9h-41zM459 905h34v9h-34zM534 905h50v9h-50zM1859 905h16v9h-16zM143 914h291v8h-291zM443 914h50v8h-50zM534 914h75v8h-75zM1767 914h25v8h-25zM1850 914h17v8h-17zM151 922h358v8h-358zM542 922h75v8h-75zM651 922h25v8h-25zM717 922h25v8h-25zM1725 922h84v8h-84zM1850 922h9v8h-9zM193 930h324v9h-324zM551 930h75v9h-75zM651 930h75v9h-75zM1251 930h8v9h-8zM1725 930h42v9h-42zM234 939h283v8h-283zM551 939h175v8h-175zM1192 939h92v8h-92zM1725 939h25v8h-25zM234 947h283v8h-283zM567 947h159v8h-159zM1192 947h92v8h-92zM1725 947h25v8h-25zM301 955h50v9h-50zM359 955h9v9h-9zM576 955h41v9h-41zM667 955h9v9h-9zM934 955h33v9h-33zM1167 955h150v9h-150zM901 964h8v8h-8zM917 964h50v8h-50zM1167 964h150v8h-150zM959 972h33v8h-33zM1142 972h17v8h-17zM1167 972h150v8h-150zM1226 980h8v9h-8z"/>
<path fill="#20b2aa" d="M459 114h175v8h-175zM368 122h25v9h-25zM451 122h75v9h-75zM368 131h25v8h-25zM443 131h58v8h-58zM559 131h17v8h-17zM343 139h100v8h-100zM534 139h33v8h-33zM343 147h100v9h-100zM509 147h50v9h-50zM443 156h108v8h-108zM517 164h25v8h-25zM468 181h41v8h-41zM601 181h16v8h-16zM468 189h41v8h-41zM592 189h25v8h-25zM434 197h67v9h-67zM576 197h58v9h-58zM393 206h8v8h-8zM434 206h42v8h-42zM534 206h100v8h-100zM942 206h75v8h-75zM359 214h42v8h-42zM409 214h67v8h-67zM534 214h100v8h-100zM942 214h75v8h-75zM318 222h83v9h-83zM409 222h59v9h-59zM542 222h75v9h-75zM934 222h92v9h-92zM301 231h83v8h-83zM409 231h59v8h-59zM551 231h58v8h-58zM851 231h41v8h-41zM934 231h108v8h-108zM293 239h66v8h-66zM559 239h50v8h-50zM842 239h59v8h-59zM926 239h125v8h-125zM268 247h66v9h-66zM559 247h50v9h-50zM817 247h34v9h-34zM876 247h16v9h-16zM917 247h184v9h-184zM259 256h67v8h-67zM559 256h25v8h-25zM792 256h42v8h-42zM884 256h8v8h-8zM917 256h184v8h-184zM559 264h25v8h-25zM776 264h50v8h-50zM884 264h8v8h-8zM901 264h175v8h-175zM218 272h33v9h-33zM767 272h59v9h-59zM884 272h183v9h-183zM193 281h16v8h-16zM759 281h25v8h-25zM909 281h150v8h-150zM751 289h25v8h-25zM934 289h117v8h-117zM234 297h9v9h-9zM742 297h17v9h-17zM942 297h109v9h-109zM726 306h16v8h-16zM942 306h109v8h-109zM717 314h17v8h-17zM926 314h116v8h-116zM1534 314h16v8h-16zM717 322h9v9h-9zM917 322h125v9h-125zM1534 322h16v9h-16zM709 331h8v8h-8zM917 331h75v8h-75zM901 339h75v8h-75zM892 347h75v9h-75zM876 356h50v8h-50zM609 364h42v8h-42zM692 364h9v8h-9zM851 364h41v8h-41zM601 372h8v9h-8zM642 372h9v9h-9zM684 372h17v9h-17zM842 372h25v9h-25zM601 381h8v8h-8zM642 381h9v8h-9zM667 381h25v8h-25zM826 381h25v8h-25zM684 389h8v8h-8zM792 389h25v8h-25zM776 397h25v9h-25zM542 406h9v8h-9zM559 406h25v8h-25zM759 406h25v8h-25zM542 414h25v8h-25zM576 414h8v8h-8zM751 414h25v8h-25zM734 422h17v9h-17zM667 431h17v8h-17zM717 431h25v8h-25zM576 439h33v8h-33zM651 439h41v8h-41zM709 439h8v8h-8zM576 447h83v9h-83zM692 447h9v9h-9zM576 456h75v8h-75zM576 464h75v8h-75zM584 472h8v9h-8zM609 472h17v9h-17zM601 481h25v8h-25zM592 489h17v8h-17zM1959 547h8v9h-8zM51 556h8v8h-8zM51 564h17v8h-17zM51 572h25v9h-25zM1575 572h17v9h-17zM51 581h8v8h-8zM626 581h16v8h-16zM1567 581h25v8h-25zM51 589h8v8h-8zM559 589h17v8h-17zM626 589h16v8h-16zM1567 589h8v8h-8zM68 597h8v8h-8zM1542 597h33v8h-33zM59 605h17v9h-17zM1542 605h33v9h-33zM776 614h16v8h-16zM1542 614h17v8h-17zM776 622h16v8h-16zM1542 622h17v8h-17zM1542 630h17v9h-17zM1542 639h17v8h-17zM1550 647h9v8h-9z"/>
<path fill="#9acd32" d="M526 122h50v9h-50zM501 131h58v8h-58zM443 139h91v8h-91zM443 147h66v9h-66zM851 247h25v9h-25zM834 256h50v8h-50zM826 264h58v8h-58zM826 272h58v9h-58zM784 281h17v8h-17zM817 281h42v8h-42zM867 281h42v8h-42zM826 289h16v8h-16zM867 289h67v8h-67zM759 297h58v9h-58zM859 297h83v9h-83zM742 306h59v8h-59zM809 306h8v8h-8zM859 306h83v8h-83zM734 314h8v8h-8zM751 314h33v8h-33zM834 314h92v8h-92zM726 322h58v9h-58zM826 322h91v9h-91zM701 331h8v8h-8zM717 331h17v8h-17zM742 331h17v8h-17zM801 331h8v8h-8zM834 331h83v8h-83zM701 339h33v8h-33zM792 339h9v8h-9zM817 339h84v8h-84zM701 347h50v9h-50zM801 347h25v9h-25zM851 347h41v9h-41zM701 356h41v8h-41zM776 356h41v8h-41zM842 356h34v8h-34zM726 364h25v8h-25zM759 364h50v8h-50zM834 364h17v8h-17zM626 372h16v9h-16zM726 372h75v9h-75zM826 372h16v9h-16zM634 381h8v8h-8zM692 381h9v8h-9zM726 381h100v8h-100zM626 389h58v8h-58zM692 389h9v8h-9zM742 389h50v8h-50zM584 397h8v9h-8zM634 397h25v9h-25zM676 397h25v9h-25zM742 397h34v9h-34zM551 406h8v8h-8zM617 406h17v8h-17zM642 406h9v8h-9zM684 406h8v8h-8zM742 406h17v8h-17zM742 414h9v8h-9zM584 422h8v9h-8zM584 431h8v8h-8zM601 431h8v8h-8zM609 439h42v8h-42zM692 439h17v8h-17zM1575 547h17v9h-17zM1575 556h17v8h-17zM1575 564h17v8h-17zM59 581h17v8h-17zM59 589h17v8h-17zM59 597h9v8h-9z"/>
<path fill="#2e8b57" d="M801 281h16v8h-16zM859 281h8v8h-8zM776 289h50v8h-50zM842 289h25v8h-25zM826 297h33v9h-33zM826 306h33v8h-33zM742 314h9v8h-9zM784 314h8v8h-8zM826 314h8v8h-8zM817 322h9v9h-9zM734 331h8v8h-8zM809 331h25v8h-25zM734 339h17v8h-17zM809 339h8v8h-8zM826 347h25v9h-25zM817 356h25v8h-25zM701 364h16v8h-16zM809 364h25v8h-25zM609 372h17v9h-17zM701 372h16v9h-16zM801 372h25v9h-25zM609 381h25v8h-25zM701 381h16v8h-16zM609 389h17v8h-17zM701 389h41v8h-41zM609 397h25v9h-25zM659 397h17v9h-17zM701 397h41v9h-41zM609 406h8v8h-8zM692 406h50v8h-50zM584 414h8v8h-8zM634 414h17v8h-17zM684 414h58v8h-58zM592 422h9v9h-9zM676 422h58v9h-58zM592 431h9v8h-9zM609 431h8v8h-8zM701 431h16v8h-16zM592 472h17v9h-17zM592 481h9v8h-9z"/>
<path fill="#f5e6c3" d="M817 297h9v9h-9zM801 306h8v8h-8zM817 306h9v8h-9zM792 314h9v8h-9zM759 331h17v8h-17zM801 339h8v8h-8zM792 347h9v9h-9zM742 356h9v8h-9zM717 364h9v8h-9zM751 364h8v8h-8zM717 372h9v9h-9zM717 381h9v8h-9zM592 389h17v8h-17zM592 397h17v9h-17zM584 406h25v8h-25zM634 406h8v8h-8zM651 406h33v8h-33zM592 414h42v8h-42zM651 414h33v8h-33zM601 422h8v9h-8zM651 422h25v9h-25zM617 431h9v8h-9zM651 431h16v8h-16zM684 431h17v8h-17z"/>
<path fill="#deb887" d="M801 314h8v8h-8zM817 314h9v8h-9zM784 322h33v9h-33zM776 331h25v8h-25zM751 339h41v8h-41zM784 347h8v9h-8zM609 422h42v9h-42zM626 431h25v8h-25z"/>
<path fill="#ffe100" d="M809 314h8v8h-8zM751 347h8v9h-8zM767 347h17v9h-17zM751 356h8v8h-8zM767 356h9v8h-9z"/>
<path fill="#ffa500" d="M759 347h8v9h-8zM759 356h8v8h-8z"/></g>
<use href="#coast" y="0" fill="none" stroke="#000" stroke-width="4" stroke-linejoin="round" stroke-linecap="round"/>
<text x="-3.5" y="53.4" font-size="72.7" textLength="534.8" lengthAdjust="spacing">(a) v2.frz3.f2010</text>
<text x="1604.5" y="53.4" font-size="72.7" textLength="407.7" lengthAdjust="spacing" xml:space="preserve" style="white-space:pre">avg=   17.25</text>
<rect x="2166.0" y="104.70" width="119.4" height="75.73" fill="#b22222"/>
<rect x="2166.0" y="179.93" width="119.4" height="75.73" fill="#ff4500"/>
<rect x="2166.0" y="255.16" width="119.4" height="75.73" fill="#ffa500"/>
<rect x="2166.0" y="330.39" width="119.4" height="75.73" fill="#ffe100"/>
<rect x="2166.0" y="405.62" width="119.4" height="75.73" fill="#deb887"/>
<rect x="2166.0" y="480.85" width="119.4" height="75.73" fill="#f5e6c3"/>
<rect x="2166.0" y="556.08" width="119.4" height="75.73" fill="#2e8b57"/>
<rect x="2166.0" y="631.31" width="119.4" height="75.73" fill="#9acd32"/>
<rect x="2166.0" y="706.54" width="119.4" height="75.73" fill="#20b2aa"/>
<rect x="2166.0" y="781.77" width="119.4" height="75.73" fill="#b0e0e6"/>
<rect x="2166.0" y="857.00" width="119.4" height="75.73" fill="#799bf1"/>
<rect x="2166.0" y="932.23" width="119.4" height="75.73" fill="#4169e1"/>
<rect x="2166.0" y="1007.46" width="119.4" height="75.73" fill="#0000cd"/>
<path d="M2164.1 179.93H2287.3" stroke="#000" stroke-width="4.2"/>
<path d="M2164.1 255.16H2287.3" stroke="#000" stroke-width="4.2"/>
<path d="M2164.1 330.39H2287.3" stroke="#000" stroke-width="4.2"/>
<path d="M2164.1 405.62H2287.3" stroke="#000" stroke-width="4.2"/>
<path d="M2164.1 480.85H2287.3" stroke="#000" stroke-width="4.2"/>
<path d="M2164.1 556.08H2287.3" stroke="#000" stroke-width="4.2"/>
<path d="M2164.1 631.31H2287.3" stroke="#000" stroke-width="4.2"/>
<path d="M2164.1 706.54H2287.3" stroke="#000" stroke-width="4.2"/>
<path d="M2164.1 781.77H2287.3" stroke="#000" stroke-width="4.2"/>
<path d="M2164.1 857.00H2287.3" stroke="#000" stroke-width="4.2"/>
<path d="M2164.1 932.23H2287.3" stroke="#000" stroke-width="4.2"/>
<path d="M2164.1 1007.46H2287.3" stroke="#000" stroke-width="4.2"/>
<rect x="2166.0" y="104.70" width="119.4" height="977.99" fill="none" stroke="#000" stroke-width="4.2" stroke-linejoin="round"/>
<text x="2347.5" y="191.7" text-anchor="middle" font-size="33">120</text>
<text x="2347.5" y="267.0" text-anchor="middle" font-size="33">110</text>
<text x="2347.5" y="342.2" text-anchor="middle" font-size="33">100</text>
<text x="2347.5" y="417.4" text-anchor="middle" font-size="33">90</text>
<text x="2347.5" y="492.7" text-anchor="middle" font-size="33">80</text>
<text x="2347.5" y="567.9" text-anchor="middle" font-size="33">70</text>
<text x="2347.5" y="643.1" text-anchor="middle" font-size="33">60</text>
<text x="2347.5" y="718.3" text-anchor="middle" font-size="33">50</text>
<text x="2347.5" y="793.6" text-anchor="middle" font-size="33">40</text>
<text x="2347.5" y="868.8" text-anchor="middle" font-size="33">30</text>
<text x="2347.5" y="944.0" text-anchor="middle" font-size="33">20</text>
<text x="2347.5" y="1019.3" text-anchor="middle" font-size="33">10</text>
</g>
<g id="panel1">
<path d="M1557.0 1214.6L1565.1 1216.4L1573.7 1219.2L1582.6 1222.3L1591.9 1225.6L1601.5 1229.1L1611.3 1232.9L1621.4 1236.9L1631.7 1241.1L1642.1 1245.4L1652.5 1250.0L1662.9 1254.6L1673.1 1259.4L1682.9 1264.2L1692.5 1269.2L1701.6 1274.1L1710.5 1279.2L1719.2 1284.3L1727.7 1289.5L1736.0 1294.7L1744.3 1300.0L1752.4 1305.4L1760.4 1310.8L1768.3 1316.3L1776.2 1321.8L1784.0 1327.3L1791.7 1332.9L1799.3 1338.6L1806.9 1344.3L1814.3 1350.0L1821.6 1355.8L1828.9 1361.6L1836.0 1367.4L1842.9 1373.3L1849.8 1379.2L1856.5 1385.1L1863.1 1391.1L1869.4 1397.1L1875.6 1403.1L1881.6 1409.1L1887.3 1415.2L1892.9 1421.3L1898.4 1427.4L1903.8 1433.5L1909.1 1439.6L1914.3 1445.8L1919.4 1451.9L1924.3 1458.1L1929.1 1464.3L1933.7 1470.5L1938.1 1476.7L1942.3 1482.9L1946.3 1489.1L1950.2 1495.4L1954.0 1501.6L1957.6 1507.8L1961.1 1514.0L1964.5 1520.3L1967.6 1526.5L1970.6 1532.8L1973.5 1539.0L1976.1 1545.2L1978.6 1551.5L1980.9 1557.7L1983.0 1563.9L1985.0 1570.2L1986.8 1576.4L1988.6 1582.6L1990.3 1588.9L1991.9 1595.1L1993.6 1601.3L1995.2 1607.6L1996.7 1613.8L1998.1 1620.0L1999.5 1626.3L2000.7 1632.5L2001.9 1638.7L2002.9 1645.0L2003.8 1651.2L2004.7 1657.4L2005.4 1663.7L2006.1 1669.9L2006.7 1676.1L2007.3 1682.4L2007.7 1688.6L2008.1 1694.8L2008.4 1701.1L2008.7 1707.3L2008.9 1713.5L2009.0 1719.8L2008.8 1726.0L2008.6 1732.3L2008.3 1738.5L2008.0 1744.7L2007.5 1751.0L2007.0 1757.2L2006.5 1763.4L2005.8 1769.7L2005.1 1775.9L2004.3 1782.1L2003.4 1788.4L2002.5 1794.6L2001.4 1800.8L2000.2 1807.1L1999.0 1813.3L1997.6 1819.5L1996.1 1825.8L1994.5 1832.0L1992.9 1838.2L1991.2 1844.5L1989.6 1850.7L1987.9 1856.9L1986.1 1863.2L1984.2 1869.4L1982.2 1875.6L1980.0 1881.9L1977.6 1888.1L1975.1 1894.3L1972.3 1900.6L1969.4 1906.8L1966.4 1913.0L1963.1 1919.3L1959.7 1925.5L1956.2 1931.8L1952.5 1938.0L1948.6 1944.2L1944.7 1950.4L1940.6 1956.7L1936.3 1962.9L1931.8 1969.1L1927.1 1975.3L1922.3 1981.4L1917.3 1987.6L1912.1 1993.8L1906.9 1999.9L1901.6 2006.0L1896.2 2012.1L1890.6 2018.2L1885.0 2024.3L1879.1 2030.4L1873.1 2036.4L1866.8 2042.4L1860.4 2048.4L1853.8 2054.3L1847.0 2060.2L1840.1 2066.1L1833.0 2072.0L1825.9 2077.8L1818.6 2083.6L1811.3 2089.4L1803.8 2095.1L1796.2 2100.7L1788.6 2106.4L1780.8 2112.0L1773.0 2117.5L1765.1 2123.0L1757.1 2128.4L1749.1 2133.8L1740.9 2139.2L1732.6 2144.4L1724.2 2149.7L1715.7 2154.8L1706.9 2159.9L1697.9 2164.9L1688.6 2169.9L1678.9 2174.8L1668.9 2179.6L1658.6 2184.3L1648.2 2188.9L1637.8 2193.4L1627.4 2197.7L1617.2 2201.8L1607.2 2205.7L1597.5 2209.4L1588.0 2212.8L1578.9 2216.0L1570.1 2219.0L1561.7 2221.7L1553.8 2224.1L1546.3 2226.2L1539.3 2228.0L470.7 2228.0L463.7 2226.2L456.2 2224.1L448.3 2221.7L439.9 2219.0L431.1 2216.0L422.0 2212.8L412.5 2209.4L402.8 2205.7L392.8 2201.8L382.6 2197.7L372.2 2193.4L361.8 2188.9L351.4 2184.3L341.1 2179.6L331.1 2174.8L321.4 2169.9L312.1 2164.9L303.1 2159.9L294.3 2154.8L285.8 2149.7L277.4 2144.4L269.1 2139.2L260.9 2133.8L252.9 2128.4L244.9 2123.0L237.0 2117.5L229.2 2112.0L221.4 2106.4L213.8 2100.7L206.2 2095.1L198.7 2089.4L191.4 2083.6L184.1 2077.8L177.0 2072.0L169.9 2066.1L163.0 2060.2L156.2 2054.3L149.6 2048.4L143.2 2042.4L136.9 2036.4L130.9 2030.4L125.0 2024.3L119.4 2018.2L113.8 2012.1L108.4 2006.0L103.1 1999.9L97.9 1993.8L92.7 1987.6L87.7 1981.4L82.9 1975.3L78.2 1969.1L73.7 1962.9L69.4 1956.7L65.3 1950.4L61.4 1944.2L57.5 1938.0L53.8 1931.8L50.3 1925.5L46.9 1919.3L43.6 1913.0L40.6 1906.8L37.7 1900.6L34.9 1894.3L32.4 1888.1L30.0 1881.9L27.8 1875.6L25.8 1869.4L23.9 1863.2L22.1 1856.9L20.4 1850.7L18.8 1844.5L17.1 1838.2L15.5 1832.0L13.9 1825.8L12.4 1819.5L11.0 1813.3L9.8 1807.1L8.6 1800.8L7.5 1794.6L6.6 1788.4L5.7 1782.1L4.9 1775.9L4.2 1769.7L3.5 1763.4L3.0 1757.2L2.5 1751.0L2.0 1744.7L1.7 1738.5L1.4 1732.3L1.2 1726.0L1.0 1719.8L1.1 1713.5L1.3 1707.3L1.6 1701.1L1.9 1694.8L2.3 1688.6L2.7 1682.4L3.3 1676.1L3.9 1669.9L4.6 1663.7L5.3 1657.4L6.2 1651.2L7.1 1645.0L8.1 1638.7L9.3 1632.5L10.5 1626.3L11.9 1620.0L13.3 1613.8L14.8 1607.6L16.4 1601.3L18.1 1595.1L19.7 1588.9L21.4 1582.6L23.2 1576.4L25.0 1570.2L27.0 1563.9L29.1 1557.7L31.4 1551.5L33.9 1545.2L36.5 1539.0L39.4 1532.8L42.4 1526.5L45.5 1520.3L48.9 1514.0L52.4 1507.8L56.0 1501.6L59.8 1495.4L63.7 1489.1L67.7 1482.9L71.9 1476.7L76.3 1470.5L80.9 1464.3L85.7 1458.1L90.6 1451.9L95.7 1445.8L100.9 1439.6L106.2 1433.5L111.6 1427.4L117.1 1421.3L122.7 1415.2L128.4 1409.1L134.4 1403.1L140.6 1397.1L146.9 1391.1L153.5 1385.1L160.2 1379.2L167.1 1373.3L174.0 1367.4L181.1 1361.6L188.4 1355.8L195.7 1350.0L203.1 1344.3L210.7 1338.6L218.3 1332.9L226.0 1327.3L233.8 1321.8L241.7 1316.3L249.6 1310.8L257.6 1305.4L265.7 1300.0L274.0 1294.7L282.3 1289.5L290.8 1284.3L299.5 1279.2L308.4 1274.1L317.5 1269.2L327.1 1264.2L336.9 1259.4L347.1 1254.6L357.5 1250.0L367.9 1245.4L378.3 1241.1L388.6 1236.9L398.7 1232.9L408.5 1229.1L418.1 1225.6L427.4 1222.3L436.3 1219.2L444.9 1216.4L453.0 1214.6Z" fill="#d3d3d3"/>
<g shape-rendering="crispEdges"><path fill="#0000cd" d="M1492 1239h17v8h-17zM1525 1239h42v8h-42zM1501 1247h108v9h-108zM1509 1256h100v8h-100zM1525 1264h84v8h-84zM1542 1272h75v9h-75zM1559 1281h58v8h-58zM1559 1289h25v8h-25zM626 1389h50v8h-50zM576 1397h141v9h-141zM426 1406h42v8h-42zM501 1406h216v8h-216zM1342 1406h9v8h-9zM1359 1406h17v8h-17zM409 1414h333v8h-333zM1342 1414h50v8h-50zM393 1422h341v9h-341zM1334 1422h67v9h-67zM368 1431h366v8h-366zM1334 1431h67v8h-67zM343 1439h374v8h-374zM1326 1439h83v8h-83zM326 1447h350v9h-350zM684 1447h17v9h-17zM1317 1447h100v9h-100zM309 1456h342v8h-342zM1326 1456h100v8h-100zM1867 1456h25v8h-25zM76 1464h42v8h-42zM268 1464h366v8h-366zM1334 1464h100v8h-100zM1867 1464h67v8h-67zM68 1472h66v9h-66zM226 1472h400v9h-400zM1342 1472h100v9h-100zM1867 1472h75v9h-75zM68 1481h541v8h-541zM1351 1481h100v8h-100zM1867 1481h75v8h-75zM59 1489h533v8h-533zM1351 1489h125v8h-125zM1867 1489h83v8h-83zM51 1497h525v9h-525zM1359 1497h125v9h-125zM1659 1497h50v9h-50zM1717 1497h33v9h-33zM1792 1497h8v9h-8zM1867 1497h92v9h-92zM51 1506h408v8h-408zM484 1506h75v8h-75zM1359 1506h125v8h-125zM1625 1506h184v8h-184zM1867 1506h92v8h-92zM43 1514h416v8h-416zM493 1514h49v8h-49zM1359 1514h125v8h-125zM1625 1514h342v8h-342zM43 1522h425v9h-425zM1359 1522h142v9h-142zM1592 1522h375v9h-375zM34 1531h442v8h-442zM1359 1531h142v8h-142zM1592 1531h233v8h-233zM1834 1531h141v8h-141zM34 1539h442v8h-442zM1017 1539h9v8h-9zM1134 1539h17v8h-17zM1359 1539h142v8h-142zM1592 1539h383v8h-383zM26 1547h491v9h-491zM892 1547h67v9h-67zM992 1547h175v9h-175zM1359 1547h625v9h-625zM26 1556h491v8h-491zM876 1556h291v8h-291zM1359 1556h625v8h-625zM26 1564h508v8h-508zM826 1564h358v8h-358zM1359 1564h625v8h-625zM18 1572h524v9h-524zM817 1572h367v9h-367zM1359 1572h491v9h-491zM1859 1572h133v9h-133zM18 1581h533v8h-533zM776 1581h433v8h-433zM1359 1581h483v8h-483zM1850 1581h142v8h-142zM18 1589h533v8h-533zM759 1589h442v8h-442zM1359 1589h92v8h-92zM1467 1589h525v8h-525zM18 1597h533v9h-533zM717 1597h509v9h-509zM1376 1597h75v9h-75zM1467 1597h525v9h-525zM9 1606h542v8h-542zM601 1606h625v8h-625zM1376 1606h100v8h-100zM1501 1606h499v8h-499zM9 1614h542v8h-542zM592 1614h634v8h-634zM1367 1614h109v8h-109zM1509 1614h491v8h-491zM9 1622h542v9h-542zM592 1622h634v9h-634zM1359 1622h42v9h-42zM1426 1622h50v9h-50zM1542 1622h458v9h-458zM9 1631h542v8h-542zM584 1631h625v8h-625zM1359 1631h17v8h-17zM1442 1631h34v8h-34zM1542 1631h458v8h-458zM9 1639h542v8h-542zM584 1639h175v8h-175zM784 1639h408v8h-408zM1542 1639h467v8h-467zM1 1647h200v9h-200zM218 1647h266v9h-266zM592 1647h25v9h-25zM742 1647h9v9h-9zM817 1647h359v9h-359zM1584 1647h266v9h-266zM1967 1647h42v9h-42zM1 1656h33v8h-33zM43 1656h150v8h-150zM218 1656h266v8h-266zM834 1656h292v8h-292zM1609 1656h233v8h-233zM1975 1656h34v8h-34zM68 1664h125v8h-125zM218 1664h258v8h-258zM951 1664h125v8h-125zM1609 1664h216v8h-216zM143 1672h58v9h-58zM218 1672h258v9h-258zM1217 1672h17v9h-17zM1609 1672h8v9h-8zM1684 1672h91v9h-91zM176 1681h25v8h-25zM218 1681h258v8h-258zM984 1681h42v8h-42zM1042 1681h25v8h-25zM1076 1681h58v8h-58zM1142 1681h25v8h-25zM1176 1681h200v8h-200zM1709 1681h66v8h-66zM184 1689h259v8h-259zM967 1689h409v8h-409zM1725 1689h50v8h-50zM1884 1689h16v8h-16zM184 1697h259v9h-259zM951 1697h441v9h-441zM1725 1697h50v9h-50zM1859 1697h83v9h-83zM193 1706h233v8h-233zM884 1706h517v8h-517zM1725 1706h50v8h-50zM1809 1706h133v8h-133zM193 1714h225v8h-225zM859 1714h542v8h-542zM1725 1714h50v8h-50zM1784 1714h150v8h-150zM193 1722h216v8h-216zM859 1722h450v8h-450zM1775 1722h100v8h-100zM193 1730h216v9h-216zM859 1730h450v9h-450zM1784 1730h91v9h-91zM168 1739h225v8h-225zM892 1739h417v8h-417zM1317 1739h9v8h-9zM1792 1739h83v8h-83zM159 1747h234v8h-234zM892 1747h417v8h-417zM1317 1747h9v8h-9zM1792 1747h83v8h-83zM159 1755h234v9h-234zM884 1755h467v9h-467zM1734 1755h41v9h-41zM1792 1755h92v9h-92zM159 1764h234v8h-234zM576 1764h183v8h-183zM884 1764h467v8h-467zM1384 1764h8v8h-8zM1734 1764h50v8h-50zM1792 1764h92v8h-92zM184 1772h234v8h-234zM443 1772h16v8h-16zM576 1772h208v8h-208zM867 1772h559v8h-559zM1592 1772h17v8h-17zM1617 1772h8v8h-8zM1725 1772h159v8h-159zM209 1780h259v9h-259zM526 1780h266v9h-266zM867 1780h575v9h-575zM1600 1780h34v9h-34zM1717 1780h75v9h-75zM1800 1780h100v9h-100zM209 1789h259v8h-259zM509 1789h292v8h-292zM809 1789h17v8h-17zM851 1789h100v8h-100zM959 1789h517v8h-517zM1609 1789h50v8h-50zM1709 1789h75v8h-75zM1800 1789h109v8h-109zM126 1797h8v8h-8zM218 1797h250v8h-250zM493 1797h308v8h-308zM809 1797h17v8h-17zM842 1797h650v8h-650zM1617 1797h42v8h-42zM1709 1797h208v8h-208zM93 1805h100v9h-100zM218 1805h266v9h-266zM493 1805h383v9h-383zM892 1805h617v9h-617zM1642 1805h133v9h-133zM1784 1805h133v9h-133zM93 1814h116v8h-116zM218 1814h308v8h-308zM534 1814h8v8h-8zM576 1814h275v8h-275zM901 1814h616v8h-616zM1659 1814h275v8h-275zM93 1822h116v8h-116zM218 1822h333v8h-333zM576 1822h291v8h-291zM909 1822h8v8h-8zM959 1822h558v8h-558zM1642 1822h117v8h-117zM1775 1822h167v8h-167zM84 1830h184v9h-184zM293 1830h258v9h-258zM576 1830h300v9h-300zM959 1830h83v9h-83zM1059 1830h466v9h-466zM1634 1830h116v9h-116zM1767 1830h175v9h-175zM84 1839h184v8h-184zM293 1839h266v8h-266zM576 1839h316v8h-316zM959 1839h33v8h-33zM1067 1839h475v8h-475zM1634 1839h108v8h-108zM1767 1839h200v8h-200zM84 1847h892v8h-892zM1076 1847h474v8h-474zM1634 1847h100v8h-100zM1759 1847h216v8h-216zM84 1855h892v9h-892zM1076 1855h474v9h-474zM1634 1855h100v9h-100zM1750 1855h225v9h-225zM84 1864h908v8h-908zM1076 1864h474v8h-474zM1634 1864h91v8h-91zM1742 1864h242v8h-242zM26 1872h25v8h-25zM76 1872h958v8h-958zM1084 1872h475v8h-475zM1625 1872h100v8h-100zM1742 1872h8v8h-8zM1792 1872h192v8h-192zM26 1880h167v9h-167zM201 1880h841v9h-841zM1084 1880h25v9h-25zM1117 1880h50v9h-50zM1201 1880h33v9h-33zM1301 1880h258v9h-258zM1609 1880h116v9h-116zM1834 1880h150v9h-150zM34 1889h1025v8h-1025zM1126 1889h41v8h-41zM1217 1889h9v8h-9zM1234 1889h8v8h-8zM1301 1889h366v8h-366zM1850 1889h125v8h-125zM34 1897h159v8h-159zM209 1897h850v8h-850zM1151 1897h16v8h-16zM1301 1897h366v8h-366zM1859 1897h116v8h-116zM43 1905h150v9h-150zM209 1905h850v9h-850zM1151 1905h16v9h-16zM1292 1905h375v9h-375zM1859 1905h108v9h-108zM43 1914h300v8h-300zM418 1914h641v8h-641zM1292 1914h375v8h-375zM68 1922h250v8h-250zM418 1922h641v8h-641zM1109 1922h8v8h-8zM1292 1922h375v8h-375zM93 1930h133v9h-133zM484 1930h517v9h-517zM1009 1930h17v9h-17zM1401 1930h8v9h-8zM1426 1930h241v9h-241zM118 1939h108v8h-108zM609 1939h233v8h-233zM851 1939h133v8h-133zM1009 1939h8v8h-8zM1451 1939h216v8h-216zM143 1947h75v8h-75zM634 1947h208v8h-208zM851 1947h125v8h-125zM1459 1947h200v8h-200zM851 1955h125v9h-125zM1484 1955h175v9h-175zM851 1964h100v8h-100zM1509 1964h33v8h-33zM1567 1964h92v8h-92zM1567 1972h83v8h-83zM1567 1980h75v9h-75zM1559 1989h66v8h-66zM1550 1997h67v8h-67zM1542 2005h75v9h-75zM1542 2014h75v8h-75zM1542 2022h8v8h-8zM1575 2022h25v8h-25zM1525 2030h17v9h-17zM1525 2039h17v8h-17zM501 2130h50v9h-50zM676 2130h58v9h-58zM792 2130h92v9h-92zM459 2139h475v8h-475zM284 2147h683v8h-683zM301 2155h691v9h-691zM318 2164h674v8h-674zM1675 2164h17v8h-17zM334 2172h675v8h-675zM351 2180h658v9h-658zM1142 2180h34v9h-34zM1609 2180h50v9h-50zM368 2189h874v8h-874zM1301 2189h150v8h-150zM1567 2189h75v8h-75zM393 2197h1232v8h-1232zM409 2205h1191v9h-1191zM434 2214h1141v8h-1141z"/>
<path fill="#4169e1" d="M1284 1214h125v8h-125zM1451 1214h33v8h-33zM1284 1222h316v9h-316zM1259 1231h358v8h-358zM1242 1239h250v8h-250zM1509 1239h16v8h-16zM1567 1239h75v8h-75zM776 1247h25v9h-25zM1109 1247h25v9h-25zM1226 1247h275v9h-275zM1609 1247h50v9h-50zM776 1256h50v8h-50zM1101 1256h25v8h-25zM1209 1256h300v8h-300zM1609 1256h41v8h-41zM692 1264h234v8h-234zM1101 1264h16v8h-16zM1184 1264h341v8h-341zM1609 1264h50v8h-50zM676 1272h291v9h-291zM1101 1272h16v9h-16zM1134 1272h25v9h-25zM1176 1272h366v9h-366zM1617 1272h42v9h-42zM626 1281h16v8h-16zM667 1281h300v8h-300zM1084 1281h92v8h-92zM1184 1281h192v8h-192zM1401 1281h158v8h-158zM1617 1281h42v8h-42zM626 1289h16v8h-16zM659 1289h392v8h-392zM1067 1289h117v8h-117zM1192 1289h167v8h-167zM1467 1289h92v8h-92zM1584 1289h66v8h-66zM592 1297h17v9h-17zM659 1297h292v9h-292zM1051 1297h308v9h-308zM1509 1297h141v9h-141zM534 1306h17v8h-17zM651 1306h266v8h-266zM1059 1306h208v8h-208zM1525 1306h92v8h-92zM526 1314h25v8h-25zM642 1314h275v8h-275zM1076 1314h191v8h-191zM1534 1314h75v8h-75zM526 1322h8v9h-8zM642 1322h209v9h-209zM1101 1322h183v9h-183zM1550 1322h42v9h-42zM634 1331h217v8h-217zM1142 1331h175v8h-175zM1792 1331h8v8h-8zM484 1339h33v8h-33zM626 1339h225v8h-225zM1184 1339h142v8h-142zM1800 1339h9v8h-9zM476 1347h100v9h-100zM609 1347h150v9h-150zM801 1347h16v9h-16zM1201 1347h216v9h-216zM1809 1347h8v9h-8zM468 1356h108v8h-108zM592 1356h150v8h-150zM1217 1356h225v8h-225zM459 1364h292v8h-292zM1226 1364h216v8h-216zM384 1372h383v9h-383zM1234 1372h217v9h-217zM343 1381h433v8h-433zM1242 1381h217v8h-217zM334 1389h292v8h-292zM676 1389h91v8h-91zM1251 1389h225v8h-225zM1834 1389h33v8h-33zM268 1397h16v9h-16zM309 1397h267v9h-267zM717 1397h42v9h-42zM1259 1397h225v9h-225zM1817 1397h58v9h-58zM268 1406h158v8h-158zM468 1406h33v8h-33zM717 1406h42v8h-42zM1259 1406h83v8h-83zM1351 1406h8v8h-8zM1376 1406h108v8h-108zM1817 1406h67v8h-67zM251 1414h158v8h-158zM742 1414h9v8h-9zM1267 1414h75v8h-75zM1392 1414h100v8h-100zM1817 1414h75v8h-75zM251 1422h142v9h-142zM1267 1422h67v9h-67zM1401 1422h91v9h-91zM1817 1422h83v9h-83zM101 1431h67v8h-67zM251 1431h117v8h-117zM1259 1431h75v8h-75zM1401 1431h91v8h-91zM1809 1431h100v8h-100zM93 1439h91v8h-91zM209 1439h134v8h-134zM1251 1439h75v8h-75zM1409 1439h83v8h-83zM1725 1439h192v8h-192zM93 1447h91v9h-91zM209 1447h117v9h-117zM676 1447h8v9h-8zM1234 1447h83v9h-83zM1417 1447h84v9h-84zM1717 1447h208v9h-208zM84 1456h225v8h-225zM651 1456h25v8h-25zM1226 1456h100v8h-100zM1426 1456h75v8h-75zM1534 1456h41v8h-41zM1675 1456h192v8h-192zM1892 1456h33v8h-33zM118 1464h150v8h-150zM634 1464h42v8h-42zM1159 1464h175v8h-175zM1434 1464h75v8h-75zM1534 1464h33v8h-33zM1650 1464h217v8h-217zM134 1472h92v9h-92zM626 1472h50v9h-50zM1142 1472h200v9h-200zM1442 1472h67v9h-67zM1525 1472h42v9h-42zM1609 1472h258v9h-258zM609 1481h67v8h-67zM1117 1481h234v8h-234zM1451 1481h58v8h-58zM1525 1481h50v8h-50zM1592 1481h275v8h-275zM592 1489h84v8h-84zM959 1489h392v8h-392zM1476 1489h391v8h-391zM576 1497h25v9h-25zM634 1497h42v9h-42zM942 1497h417v9h-417zM1484 1497h175v9h-175zM1709 1497h8v9h-8zM1750 1497h42v9h-42zM1800 1497h67v9h-67zM459 1506h25v8h-25zM559 1506h25v8h-25zM884 1506h475v8h-475zM1484 1506h141v8h-141zM1809 1506h58v8h-58zM459 1514h34v8h-34zM542 1514h42v8h-42zM867 1514h492v8h-492zM1484 1514h141v8h-141zM468 1522h83v9h-83zM834 1522h525v9h-525zM1501 1522h91v9h-91zM476 1531h66v8h-66zM801 1531h558v8h-558zM1501 1531h91v8h-91zM476 1539h66v8h-66zM792 1539h225v8h-225zM1026 1539h108v8h-108zM1151 1539h208v8h-208zM1501 1539h91v8h-91zM517 1547h84v9h-84zM776 1547h116v9h-116zM959 1547h33v9h-33zM1167 1547h192v9h-192zM517 1556h75v8h-75zM759 1556h117v8h-117zM1167 1556h192v8h-192zM534 1564h58v8h-58zM742 1564h84v8h-84zM1184 1564h175v8h-175zM542 1572h50v9h-50zM626 1572h33v9h-33zM676 1572h8v9h-8zM726 1572h91v9h-91zM1184 1572h175v9h-175zM1850 1572h9v9h-9zM551 1581h41v8h-41zM609 1581h167v8h-167zM1209 1581h150v8h-150zM1842 1581h8v8h-8zM551 1589h25v8h-25zM601 1589h158v8h-158zM1201 1589h158v8h-158zM1451 1589h16v8h-16zM551 1597h166v9h-166zM1226 1597h150v9h-150zM1451 1597h16v9h-16zM551 1606h50v8h-50zM1226 1606h150v8h-150zM1476 1606h25v8h-25zM551 1614h41v8h-41zM1226 1614h141v8h-141zM1476 1614h33v8h-33zM551 1622h41v9h-41zM1226 1622h133v9h-133zM1401 1622h25v9h-25zM1476 1622h66v9h-66zM551 1631h33v8h-33zM1209 1631h150v8h-150zM1376 1631h66v8h-66zM1476 1631h66v8h-66zM551 1639h33v8h-33zM759 1639h25v8h-25zM1192 1639h350v8h-350zM484 1647h108v9h-108zM617 1647h125v9h-125zM751 1647h66v9h-66zM1176 1647h408v9h-408zM1850 1647h117v9h-117zM34 1656h9v8h-9zM484 1656h350v8h-350zM1126 1656h483v8h-483zM1842 1656h133v8h-133zM1 1664h67v8h-67zM476 1664h475v8h-475zM1076 1664h458v8h-458zM1559 1664h50v8h-50zM1825 1664h117v8h-117zM1967 1664h42v8h-42zM1 1672h42v9h-42zM68 1672h75v9h-75zM476 1672h150v9h-150zM659 1672h558v9h-558zM1234 1672h233v9h-233zM1492 1672h9v9h-9zM1567 1672h8v9h-8zM1592 1672h17v9h-17zM1617 1672h67v9h-67zM1775 1672h167v9h-167zM1967 1672h42v9h-42zM1 1681h42v8h-42zM68 1681h108v8h-108zM476 1681h33v8h-33zM601 1681h8v8h-8zM667 1681h317v8h-317zM1026 1681h16v8h-16zM1067 1681h9v8h-9zM1134 1681h8v8h-8zM1167 1681h9v8h-9zM1376 1681h91v8h-91zM1492 1681h33v8h-33zM1592 1681h117v8h-117zM1775 1681h234v8h-234zM1 1689h42v8h-42zM84 1689h100v8h-100zM443 1689h66v8h-66zM676 1689h291v8h-291zM1376 1689h91v8h-91zM1492 1689h42v8h-42zM1592 1689h133v8h-133zM1775 1689h109v8h-109zM1900 1689h109v8h-109zM1 1697h17v9h-17zM118 1697h8v9h-8zM151 1697h33v9h-33zM443 1697h50v9h-50zM676 1697h275v9h-275zM1392 1697h67v9h-67zM1501 1697h33v9h-33zM1559 1697h16v9h-16zM1592 1697h100v9h-100zM1717 1697h8v9h-8zM1775 1697h84v9h-84zM1942 1697h67v9h-67zM168 1706h25v8h-25zM426 1706h58v8h-58zM676 1706h25v8h-25zM742 1706h142v8h-142zM1401 1706h133v8h-133zM1559 1706h8v8h-8zM1584 1706h108v8h-108zM1775 1706h34v8h-34zM1942 1706h67v8h-67zM168 1714h25v8h-25zM418 1714h66v8h-66zM676 1714h183v8h-183zM1401 1714h141v8h-141zM1559 1714h8v8h-8zM1575 1714h117v8h-117zM1717 1714h8v8h-8zM1775 1714h9v8h-9zM1934 1714h75v8h-75zM168 1722h25v8h-25zM409 1722h75v8h-75zM676 1722h183v8h-183zM1309 1722h233v8h-233zM1550 1722h17v8h-17zM1575 1722h200v8h-200zM1875 1722h84v8h-84zM151 1730h42v9h-42zM409 1730h75v9h-75zM676 1730h83v9h-83zM792 1730h67v9h-67zM1309 1730h233v9h-233zM1550 1730h17v9h-17zM1575 1730h209v9h-209zM1875 1730h84v9h-84zM93 1739h25v8h-25zM126 1739h17v8h-17zM151 1739h17v8h-17zM393 1739h133v8h-133zM676 1739h83v8h-83zM817 1739h75v8h-75zM1309 1739h8v8h-8zM1326 1739h216v8h-216zM1550 1739h17v8h-17zM1575 1739h217v8h-217zM1875 1739h92v8h-92zM93 1747h25v8h-25zM126 1747h33v8h-33zM393 1747h133v8h-133zM592 1747h175v8h-175zM817 1747h75v8h-75zM1309 1747h8v8h-8zM1326 1747h216v8h-216zM1550 1747h17v8h-17zM1575 1747h217v8h-217zM1875 1747h92v8h-92zM93 1755h66v9h-66zM393 1755h383v9h-383zM826 1755h58v9h-58zM1351 1755h183v9h-183zM1550 1755h184v9h-184zM1775 1755h17v9h-17zM1884 1755h108v9h-108zM84 1764h75v8h-75zM393 1764h183v8h-183zM759 1764h25v8h-25zM809 1764h75v8h-75zM1351 1764h33v8h-33zM1392 1764h150v8h-150zM1559 1764h175v8h-175zM1784 1764h8v8h-8zM1884 1764h100v8h-100zM84 1772h100v8h-100zM418 1772h25v8h-25zM459 1772h117v8h-117zM784 1772h83v8h-83zM1426 1772h124v8h-124zM1559 1772h33v8h-33zM1609 1772h8v8h-8zM1625 1772h100v8h-100zM1884 1772h100v8h-100zM68 1780h141v9h-141zM468 1780h58v9h-58zM792 1780h75v9h-75zM1442 1780h108v9h-108zM1559 1780h25v9h-25zM1592 1780h8v9h-8zM1634 1780h83v9h-83zM1792 1780h8v9h-8zM1900 1780h84v9h-84zM68 1789h141v8h-141zM468 1789h41v8h-41zM801 1789h8v8h-8zM826 1789h25v8h-25zM951 1789h8v8h-8zM1476 1789h133v8h-133zM1659 1789h50v8h-50zM1784 1789h16v8h-16zM1909 1789h75v8h-75zM68 1797h58v8h-58zM134 1797h84v8h-84zM468 1797h25v8h-25zM801 1797h8v8h-8zM826 1797h16v8h-16zM1492 1797h100v8h-100zM1600 1797h17v8h-17zM1659 1797h50v8h-50zM1917 1797h67v8h-67zM59 1805h34v9h-34zM193 1805h25v9h-25zM484 1805h9v9h-9zM876 1805h16v9h-16zM1509 1805h100v9h-100zM1617 1805h25v9h-25zM1775 1805h9v9h-9zM1917 1805h83v9h-83zM59 1814h34v8h-34zM209 1814h9v8h-9zM526 1814h8v8h-8zM542 1814h34v8h-34zM851 1814h50v8h-50zM1517 1814h92v8h-92zM1617 1814h42v8h-42zM1934 1814h66v8h-66zM9 1822h9v8h-9zM59 1822h34v8h-34zM209 1822h9v8h-9zM551 1822h25v8h-25zM867 1822h42v8h-42zM917 1822h42v8h-42zM1517 1822h92v8h-92zM1625 1822h17v8h-17zM1759 1822h16v8h-16zM1942 1822h58v8h-58zM43 1830h41v9h-41zM268 1830h25v9h-25zM551 1830h25v9h-25zM876 1830h83v9h-83zM1042 1830h17v9h-17zM1525 1830h109v9h-109zM1750 1830h17v9h-17zM1942 1830h50v9h-50zM18 1839h66v8h-66zM268 1839h25v8h-25zM559 1839h17v8h-17zM892 1839h67v8h-67zM992 1839h75v8h-75zM1542 1839h92v8h-92zM1742 1839h25v8h-25zM1967 1839h25v8h-25zM18 1847h66v8h-66zM976 1847h100v8h-100zM1550 1847h84v8h-84zM1734 1847h25v8h-25zM1975 1847h17v8h-17zM18 1855h66v9h-66zM976 1855h100v9h-100zM1550 1855h84v9h-84zM1734 1855h16v9h-16zM1975 1855h17v9h-17zM26 1864h58v8h-58zM992 1864h84v8h-84zM1550 1864h84v8h-84zM1725 1864h17v8h-17zM51 1872h25v8h-25zM1034 1872h50v8h-50zM1559 1872h66v8h-66zM1725 1872h17v8h-17zM1750 1872h42v8h-42zM193 1880h8v9h-8zM1042 1880h42v9h-42zM1109 1880h8v9h-8zM1167 1880h34v9h-34zM1234 1880h67v9h-67zM1559 1880h50v9h-50zM1725 1880h109v9h-109zM1059 1889h67v8h-67zM1167 1889h50v8h-50zM1226 1889h8v8h-8zM1242 1889h59v8h-59zM1667 1889h183v8h-183zM193 1897h16v8h-16zM1059 1897h92v8h-92zM1167 1897h134v8h-134zM1667 1897h192v8h-192zM193 1905h16v9h-16zM1059 1905h92v9h-92zM1167 1905h125v9h-125zM1667 1905h192v9h-192zM343 1914h75v8h-75zM1059 1914h233v8h-233zM1667 1914h300v8h-300zM51 1922h17v8h-17zM318 1922h100v8h-100zM1059 1922h50v8h-50zM1117 1922h175v8h-175zM1667 1922h292v8h-292zM51 1930h42v9h-42zM226 1930h258v9h-258zM1001 1930h8v9h-8zM1026 1930h375v9h-375zM1409 1930h17v9h-17zM1667 1930h292v9h-292zM59 1939h59v8h-59zM226 1939h383v8h-383zM842 1939h9v8h-9zM984 1939h25v8h-25zM1017 1939h434v8h-434zM1667 1939h283v8h-283zM68 1947h75v8h-75zM218 1947h416v8h-416zM842 1947h9v8h-9zM976 1947h483v8h-483zM1659 1947h291v8h-291zM68 1955h783v9h-783zM976 1955h508v9h-508zM1659 1955h283v9h-283zM76 1964h250v8h-250zM368 1964h483v8h-483zM951 1964h558v8h-558zM1542 1964h25v8h-25zM1659 1964h275v8h-275zM93 1972h225v8h-225zM409 1972h1158v8h-1158zM1650 1972h134v8h-134zM1834 1972h91v8h-91zM193 1980h166v9h-166zM559 1980h1008v9h-1008zM1642 1980h142v9h-142zM251 1989h117v8h-117zM667 1989h892v8h-892zM1625 1989h150v8h-150zM284 1997h84v8h-84zM684 1997h866v8h-866zM1617 1997h158v8h-158zM767 2005h475v9h-475zM1467 2005h75v9h-75zM1617 2005h83v9h-83zM801 2014h391v8h-391zM1484 2014h17v8h-17zM1617 2014h75v8h-75zM826 2022h275v8h-275zM1550 2022h25v8h-25zM1600 2022h67v8h-67zM942 2030h75v9h-75zM1542 2030h117v9h-117zM942 2039h75v8h-75zM1542 2039h92v8h-92zM1534 2047h66v8h-66zM1534 2055h58v9h-58zM1534 2064h50v8h-50zM1534 2072h25v8h-25zM1534 2080h16v9h-16zM676 2105h33v9h-33zM459 2114h9v8h-9zM484 2114h100v8h-100zM601 2114h166v8h-166zM309 2122h84v8h-84zM434 2122h458v8h-458zM1517 2122h67v8h-67zM259 2130h242v9h-242zM551 2130h125v9h-125zM734 2130h58v9h-58zM884 2130h67v9h-67zM1484 2130h116v9h-116zM1709 2130h41v9h-41zM276 2139h183v8h-183zM934 2139h42v8h-42zM1476 2139h124v8h-124zM1609 2139h33v8h-33zM1675 2139h59v8h-59zM967 2147h109v8h-109zM1192 2147h184v8h-184zM1467 2147h258v8h-258zM992 2155h717v9h-717zM992 2164h683v8h-683zM1009 2172h666v8h-666zM1009 2180h133v9h-133zM1176 2180h433v9h-433zM1242 2189h59v8h-59zM1451 2189h116v8h-116z"/>
<path fill="#799bf1" d="M443 1214h841v8h-841zM1409 1214h42v8h-42zM1484 1214h83v8h-83zM418 1222h866v9h-866zM393 1231h866v8h-866zM368 1239h874v8h-874zM351 1247h175v9h-175zM551 1247h225v9h-225zM801 1247h308v9h-308zM1134 1247h92v9h-92zM334 1256h134v8h-134zM484 1256h17v8h-17zM542 1256h234v8h-234zM826 1256h275v8h-275zM1126 1256h83v8h-83zM1650 1256h25v8h-25zM318 1264h25v8h-25zM393 1264h16v8h-16zM526 1264h166v8h-166zM926 1264h175v8h-175zM1117 1264h67v8h-67zM1659 1264h33v8h-33zM301 1272h25v9h-25zM368 1272h50v9h-50zM509 1272h167v9h-167zM967 1272h134v9h-134zM1117 1272h17v9h-17zM1159 1272h17v9h-17zM1659 1272h50v9h-50zM284 1281h342v8h-342zM642 1281h25v8h-25zM967 1281h117v8h-117zM1176 1281h8v8h-8zM1376 1281h25v8h-25zM1659 1281h66v8h-66zM276 1289h350v8h-350zM642 1289h17v8h-17zM1051 1289h16v8h-16zM1184 1289h8v8h-8zM1359 1289h108v8h-108zM1650 1289h84v8h-84zM259 1297h333v9h-333zM609 1297h50v9h-50zM951 1297h100v9h-100zM1359 1297h150v9h-150zM1650 1297h100v9h-100zM251 1306h283v8h-283zM551 1306h100v8h-100zM917 1306h142v8h-142zM1267 1306h258v8h-258zM1617 1306h142v8h-142zM234 1314h292v8h-292zM551 1314h91v8h-91zM917 1314h159v8h-159zM1267 1314h267v8h-267zM1609 1314h166v8h-166zM226 1322h300v9h-300zM534 1322h108v9h-108zM851 1322h250v9h-250zM1284 1322h266v9h-266zM1592 1322h192v9h-192zM209 1331h425v8h-425zM851 1331h291v8h-291zM1317 1331h475v8h-475zM201 1339h283v8h-283zM517 1339h109v8h-109zM851 1339h141v8h-141zM1017 1339h167v8h-167zM1326 1339h224v8h-224zM1575 1339h225v8h-225zM193 1347h283v9h-283zM576 1347h33v9h-33zM759 1347h42v9h-42zM817 1347h159v9h-159zM1042 1347h159v9h-159zM1417 1347h142v9h-142zM1584 1347h225v9h-225zM184 1356h284v8h-284zM576 1356h16v8h-16zM742 1356h209v8h-209zM1051 1356h166v8h-166zM1442 1356h133v8h-133zM1609 1356h216v8h-216zM168 1364h291v8h-291zM751 1364h200v8h-200zM1109 1364h117v8h-117zM1442 1364h150v8h-150zM1617 1364h225v8h-225zM159 1372h225v9h-225zM767 1372h175v9h-175zM1117 1372h117v9h-117zM1451 1372h174v9h-174zM1634 1372h216v9h-216zM151 1381h192v8h-192zM776 1381h150v8h-150zM1126 1381h116v8h-116zM1459 1381h183v8h-183zM1650 1381h209v8h-209zM143 1389h191v8h-191zM767 1389h159v8h-159zM1134 1389h117v8h-117zM1476 1389h358v8h-358zM134 1397h134v9h-134zM284 1397h25v9h-25zM759 1397h142v9h-142zM1101 1397h158v9h-158zM1484 1397h333v9h-333zM126 1406h142v8h-142zM759 1406h100v8h-100zM1101 1406h158v8h-158zM1484 1406h333v8h-333zM118 1414h133v8h-133zM751 1414h100v8h-100zM1084 1414h183v8h-183zM1492 1414h325v8h-325zM109 1422h142v9h-142zM734 1422h117v9h-117zM1059 1422h208v9h-208zM1492 1422h325v9h-325zM168 1431h83v8h-83zM734 1431h117v8h-117zM1051 1431h208v8h-208zM1492 1431h317v8h-317zM184 1439h25v8h-25zM717 1439h92v8h-92zM817 1439h34v8h-34zM1042 1439h209v8h-209zM1492 1439h233v8h-233zM184 1447h25v9h-25zM701 1447h100v9h-100zM817 1447h25v9h-25zM1034 1447h200v9h-200zM1501 1447h216v9h-216zM676 1456h108v8h-108zM809 1456h25v8h-25zM976 1456h250v8h-250zM1501 1456h33v8h-33zM1575 1456h100v8h-100zM676 1464h108v8h-108zM801 1464h16v8h-16zM951 1464h208v8h-208zM1509 1464h25v8h-25zM1567 1464h83v8h-83zM676 1472h75v9h-75zM792 1472h17v9h-17zM901 1472h241v9h-241zM1509 1472h16v9h-16zM1567 1472h42v9h-42zM676 1481h116v8h-116zM901 1481h216v8h-216zM1509 1481h16v8h-16zM1575 1481h17v8h-17zM676 1489h108v8h-108zM851 1489h108v8h-108zM601 1497h33v9h-33zM676 1497h108v9h-108zM842 1497h100v9h-100zM584 1506h183v8h-183zM817 1506h67v8h-67zM634 1514h92v8h-92zM792 1514h75v8h-75zM551 1522h33v9h-33zM634 1522h83v9h-83zM776 1522h58v9h-58zM542 1531h42v8h-42zM634 1531h33v8h-33zM676 1531h33v8h-33zM776 1531h25v8h-25zM1825 1531h9v8h-9zM542 1539h42v8h-42zM642 1539h25v8h-25zM676 1539h33v8h-33zM767 1539h25v8h-25zM676 1547h8v9h-8zM726 1547h50v9h-50zM592 1556h9v8h-9zM676 1556h8v8h-8zM717 1556h42v8h-42zM592 1564h92v8h-92zM701 1564h41v8h-41zM592 1572h34v9h-34zM659 1572h17v9h-17zM684 1572h42v9h-42zM592 1581h17v8h-17zM576 1589h25v8h-25zM201 1647h17v9h-17zM193 1656h25v8h-25zM193 1664h25v8h-25zM1534 1664h25v8h-25zM1942 1664h25v8h-25zM43 1672h25v9h-25zM201 1672h17v9h-17zM626 1672h33v9h-33zM1467 1672h25v9h-25zM1501 1672h66v9h-66zM1942 1672h8v9h-8zM43 1681h8v8h-8zM201 1681h17v8h-17zM509 1681h92v8h-92zM609 1681h58v8h-58zM1467 1681h25v8h-25zM1525 1681h42v8h-42zM43 1689h8v8h-8zM68 1689h16v8h-16zM509 1689h167v8h-167zM1467 1689h25v8h-25zM1534 1689h33v8h-33zM18 1697h33v9h-33zM76 1697h42v9h-42zM126 1697h25v9h-25zM493 1697h133v9h-133zM651 1697h25v9h-25zM1459 1697h42v9h-42zM1534 1697h25v9h-25zM1692 1697h25v9h-25zM1 1706h50v8h-50zM84 1706h84v8h-84zM484 1706h142v8h-142zM651 1706h25v8h-25zM701 1706h41v8h-41zM1534 1706h25v8h-25zM1692 1706h33v8h-33zM1 1714h50v8h-50zM84 1714h84v8h-84zM484 1714h142v8h-142zM651 1714h25v8h-25zM1542 1714h17v8h-17zM1692 1714h25v8h-25zM1 1722h50v8h-50zM84 1722h84v8h-84zM484 1722h192v8h-192zM1542 1722h8v8h-8zM1959 1722h50v8h-50zM1 1730h50v9h-50zM84 1730h67v9h-67zM484 1730h192v9h-192zM1542 1730h8v9h-8zM1959 1730h50v9h-50zM1 1739h58v8h-58zM76 1739h17v8h-17zM118 1739h8v8h-8zM143 1739h8v8h-8zM526 1739h150v8h-150zM1542 1739h8v8h-8zM1567 1739h8v8h-8zM1967 1739h42v8h-42zM1 1747h92v8h-92zM118 1747h8v8h-8zM526 1747h66v8h-66zM1542 1747h8v8h-8zM1567 1747h8v8h-8zM1967 1747h42v8h-42zM1 1755h92v9h-92zM1534 1755h16v9h-16zM1992 1755h17v9h-17zM1 1764h83v8h-83zM1542 1764h17v8h-17zM1984 1764h25v8h-25zM1 1772h83v8h-83zM1550 1772h9v8h-9zM1984 1772h25v8h-25zM1 1780h67v9h-67zM1550 1780h9v9h-9zM1584 1780h8v9h-8zM1984 1780h25v9h-25zM9 1789h59v8h-59zM1984 1789h25v8h-25zM9 1797h59v8h-59zM1592 1797h8v8h-8zM1984 1797h16v8h-16zM9 1805h50v9h-50zM1609 1805h8v9h-8zM9 1814h50v8h-50zM1609 1814h8v8h-8zM18 1822h41v8h-41zM1609 1822h16v8h-16zM18 1830h25v9h-25zM326 1964h42v8h-42zM84 1972h9v8h-9zM318 1972h91v8h-91zM1784 1972h50v8h-50zM84 1980h109v9h-109zM359 1980h200v9h-200zM1784 1980h141v9h-141zM93 1989h158v8h-158zM368 1989h299v8h-299zM1775 1989h142v8h-142zM101 1997h183v8h-183zM368 1997h316v8h-316zM1775 1997h134v8h-134zM109 2005h658v9h-658zM1242 2005h225v9h-225zM1700 2005h200v9h-200zM118 2014h683v8h-683zM1192 2014h292v8h-292zM1501 2014h41v8h-41zM1692 2014h200v8h-200zM126 2022h8v8h-8zM143 2022h683v8h-683zM1101 2022h441v8h-441zM1667 2022h217v8h-217zM193 2030h16v9h-16zM218 2030h41v9h-41zM301 2030h258v9h-258zM576 2030h366v9h-366zM1017 2030h508v9h-508zM1659 2030h216v9h-216zM193 2039h25v8h-25zM343 2039h216v8h-216zM592 2039h350v8h-350zM1017 2039h508v8h-508zM1634 2039h233v8h-233zM151 2047h75v8h-75zM359 2047h34v8h-34zM451 2047h100v8h-100zM609 2047h925v8h-925zM1600 2047h150v8h-150zM1775 2047h84v8h-84zM159 2055h84v9h-84zM359 2055h34v9h-34zM468 2055h91v9h-91zM626 2055h908v9h-908zM1592 2055h142v9h-142zM1767 2055h83v9h-83zM168 2064h91v8h-91zM368 2064h25v8h-25zM418 2064h16v8h-16zM443 2064h116v8h-116zM626 2064h33v8h-33zM684 2064h558v8h-558zM1267 2064h267v8h-267zM1584 2064h258v8h-258zM176 2072h83v8h-83zM368 2072h25v8h-25zM418 2072h16v8h-16zM451 2072h108v8h-108zM626 2072h41v8h-41zM684 2072h558v8h-558zM1259 2072h275v8h-275zM1559 2072h275v8h-275zM193 2080h108v9h-108zM318 2080h266v9h-266zM601 2080h583v9h-583zM1284 2080h250v9h-250zM1550 2080h267v9h-267zM201 2089h741v8h-741zM959 2089h225v8h-225zM1284 2089h525v8h-525zM209 2097h1000v8h-1000zM1276 2097h524v8h-524zM226 2105h450v9h-450zM709 2105h1075v9h-1075zM234 2114h225v8h-225zM468 2114h16v8h-16zM584 2114h17v8h-17zM767 2114h1008v8h-1008zM251 2122h58v8h-58zM393 2122h41v8h-41zM892 2122h625v8h-625zM1584 2122h175v8h-175zM951 2130h533v9h-533zM1600 2130h109v9h-109zM976 2139h500v8h-500zM1600 2139h9v8h-9zM1642 2139h33v8h-33zM1076 2147h116v8h-116zM1376 2147h91v8h-91z"/>
<path fill="#b0e0e6" d="M526 1247h25v9h-25zM468 1256h16v8h-16zM501 1256h41v8h-41zM343 1264h50v8h-50zM409 1264h117v8h-117zM326 1272h42v9h-42zM418 1272h91v9h-91zM992 1339h25v8h-25zM1550 1339h25v8h-25zM976 1347h66v9h-66zM1559 1347h25v9h-25zM951 1356h100v8h-100zM1575 1356h34v8h-34zM951 1364h158v8h-158zM1592 1364h25v8h-25zM942 1372h175v9h-175zM1625 1372h9v9h-9zM926 1381h200v8h-200zM1642 1381h8v8h-8zM926 1389h208v8h-208zM901 1397h200v9h-200zM859 1406h242v8h-242zM851 1414h233v8h-233zM851 1422h208v9h-208zM851 1431h200v8h-200zM809 1439h8v8h-8zM851 1439h191v8h-191zM801 1447h16v9h-16zM842 1447h192v9h-192zM784 1456h25v8h-25zM834 1456h142v8h-142zM784 1464h17v8h-17zM817 1464h134v8h-134zM751 1472h41v9h-41zM809 1472h92v9h-92zM792 1481h109v8h-109zM784 1489h67v8h-67zM784 1497h58v9h-58zM767 1506h50v8h-50zM584 1514h50v8h-50zM726 1514h66v8h-66zM584 1522h50v9h-50zM717 1522h59v9h-59zM584 1531h50v8h-50zM667 1531h9v8h-9zM709 1531h67v8h-67zM584 1539h58v8h-58zM667 1539h9v8h-9zM709 1539h58v8h-58zM601 1547h75v9h-75zM684 1547h42v9h-42zM601 1556h75v8h-75zM684 1556h33v8h-33zM684 1564h17v8h-17zM1950 1672h17v9h-17zM51 1681h17v8h-17zM1567 1681h8v8h-8zM51 1689h17v8h-17zM1567 1689h8v8h-8zM51 1697h25v9h-25zM626 1697h25v9h-25zM1575 1697h17v9h-17zM51 1706h8v8h-8zM626 1706h25v8h-25zM1567 1706h17v8h-17zM51 1714h8v8h-8zM626 1714h25v8h-25zM1567 1714h8v8h-8zM51 1722h8v8h-8zM1567 1722h8v8h-8zM51 1730h8v9h-8zM759 1730h33v9h-33zM1567 1730h8v9h-8zM59 1739h17v8h-17zM759 1739h58v8h-58zM767 1747h50v8h-50zM776 1755h50v9h-50zM784 1764h25v8h-25zM134 2022h9v8h-9zM134 2030h59v9h-59zM209 2030h9v9h-9zM259 2030h42v9h-42zM559 2030h17v9h-17zM143 2039h50v8h-50zM218 2039h125v8h-125zM559 2039h33v8h-33zM226 2047h133v8h-133zM393 2047h58v8h-58zM551 2047h58v8h-58zM1750 2047h25v8h-25zM243 2055h116v9h-116zM393 2055h75v9h-75zM559 2055h67v9h-67zM1734 2055h33v9h-33zM259 2064h109v8h-109zM393 2064h25v8h-25zM434 2064h9v8h-9zM559 2064h67v8h-67zM659 2064h25v8h-25zM1242 2064h25v8h-25zM259 2072h109v8h-109zM393 2072h25v8h-25zM434 2072h17v8h-17zM559 2072h67v8h-67zM667 2072h17v8h-17zM1242 2072h17v8h-17zM301 2080h17v9h-17zM584 2080h17v9h-17zM1184 2080h100v9h-100zM942 2089h17v8h-17zM1184 2089h100v8h-100zM1209 2097h67v8h-67z"/>
<path fill="#20b2aa" d="M1575 1672h17v9h-17zM1575 1681h17v8h-17zM1575 1689h17v8h-17zM59 1706h25v8h-25zM59 1714h9v8h-9zM76 1714h8v8h-8zM59 1722h9v8h-9zM76 1722h8v8h-8zM59 1730h9v9h-9zM76 1730h8v9h-8z"/>
<path fill="#9acd32" d="M68 1714h8v8h-8zM68 1722h8v8h-8zM68 1730h8v9h-8z"/></g>
<use href="#coast" y="1125" fill="none" stroke="#000" stroke-width="4" stroke-linejoin="round" stroke-linecap="round"/>
<text x="-3.5" y="1178.4" font-size="72.7" textLength="760.0" lengthAdjust="spacing">(b) v2.frz3.f2010.a1850</text>
<text x="1604.5" y="1178.4" font-size="72.7" textLength="407.7" lengthAdjust="spacing" xml:space="preserve" style="white-space:pre">avg=   13.39</text>
<rect x="2166.0" y="1229.70" width="119.4" height="75.73" fill="#b22222"/>
<rect x="2166.0" y="1304.93" width="119.4" height="75.73" fill="#ff4500"/>
<rect x="2166.0" y="1380.16" width="119.4" height="75.73" fill="#ffa500"/>
<rect x="2166.0" y="1455.39" width="119.4" height="75.73" fill="#ffe100"/>
<rect x="2166.0" y="1530.62" width="119.4" height="75.73" fill="#deb887"/>
<rect x="2166.0" y="1605.85" width="119.4" height="75.73" fill="#f5e6c3"/>
<rect x="2166.0" y="1681.08" width="119.4" height="75.73" fill="#2e8b57"/>
<rect x="2166.0" y="1756.31" width="119.4" height="75.73" fill="#9acd32"/>
<rect x="2166.0" y="1831.54" width="119.4" height="75.73" fill="#20b2aa"/>
<rect x="2166.0" y="1906.77" width="119.4" height="75.73" fill="#b0e0e6"/>
<rect x="2166.0" y="1982.00" width="119.4" height="75.73" fill="#799bf1"/>
<rect x="2166.0" y="2057.23" width="119.4" height="75.73" fill="#4169e1"/>
<rect x="2166.0" y="2132.46" width="119.4" height="75.73" fill="#0000cd"/>
<path d="M2164.1 1304.93H2287.3" stroke="#000" stroke-width="4.2"/>
<path d="M2164.1 1380.16H2287.3" stroke="#000" stroke-width="4.2"/>
<path d="M2164.1 1455.39H2287.3" stroke="#000" stroke-width="4.2"/>
<path d="M2164.1 1530.62H2287.3" stroke="#000" stroke-width="4.2"/>
<path d="M2164.1 1605.85H2287.3" stroke="#000" stroke-width="4.2"/>
<path d="M2164.1 1681.08H2287.3" stroke="#000" stroke-width="4.2"/>
<path d="M2164.1 1756.31H2287.3" stroke="#000" stroke-width="4.2"/>
<path d="M2164.1 1831.54H2287.3" stroke="#000" stroke-width="4.2"/>
<path d="M2164.1 1906.77H2287.3" stroke="#000" stroke-width="4.2"/>
<path d="M2164.1 1982.00H2287.3" stroke="#000" stroke-width="4.2"/>
<path d="M2164.1 2057.23H2287.3" stroke="#000" stroke-width="4.2"/>
<path d="M2164.1 2132.46H2287.3" stroke="#000" stroke-width="4.2"/>
<rect x="2166.0" y="1229.70" width="119.4" height="977.99" fill="none" stroke="#000" stroke-width="4.2" stroke-linejoin="round"/>
<text x="2347.5" y="1316.7" text-anchor="middle" font-size="33">120</text>
<text x="2347.5" y="1392.0" text-anchor="middle" font-size="33">110</text>
<text x="2347.5" y="1467.2" text-anchor="middle" font-size="33">100</text>
<text x="2347.5" y="1542.4" text-anchor="middle" font-size="33">90</text>
<text x="2347.5" y="1617.7" text-anchor="middle" font-size="33">80</text>
<text x="2347.5" y="1692.9" text-anchor="middle" font-size="33">70</text>
<text x="2347.5" y="1768.1" text-anchor="middle" font-size="33">60</text>
<text x="2347.5" y="1843.3" text-anchor="middle" font-size="33">50</text>
<text x="2347.5" y="1918.6" text-anchor="middle" font-size="33">40</text>
<text x="2347.5" y="1993.8" text-anchor="middle" font-size="33">30</text>
<text x="2347.5" y="2069.0" text-anchor="middle" font-size="33">20</text>
<text x="2347.5" y="2144.3" text-anchor="middle" font-size="33">10</text>
</g>
<g id="panel2">
<path d="M1557.0 2339.6L1565.1 2341.4L1573.7 2344.2L1582.6 2347.3L1591.9 2350.6L1601.5 2354.1L1611.3 2357.9L1621.4 2361.9L1631.7 2366.1L1642.1 2370.4L1652.5 2375.0L1662.9 2379.6L1673.1 2384.4L1682.9 2389.2L1692.5 2394.2L1701.6 2399.1L1710.5 2404.2L1719.2 2409.3L1727.7 2414.5L1736.0 2419.7L1744.3 2425.0L1752.4 2430.4L1760.4 2435.8L1768.3 2441.3L1776.2 2446.8L1784.0 2452.3L1791.7 2457.9L1799.3 2463.6L1806.9 2469.3L1814.3 2475.0L1821.6 2480.8L1828.9 2486.6L1836.0 2492.4L1842.9 2498.3L1849.8 2504.2L1856.5 2510.1L1863.1 2516.1L1869.4 2522.1L1875.6 2528.1L1881.6 2534.1L1887.3 2540.2L1892.9 2546.3L1898.4 2552.4L1903.8 2558.5L1909.1 2564.6L1914.3 2570.8L1919.4 2576.9L1924.3 2583.1L1929.1 2589.3L1933.7 2595.5L1938.1 2601.7L1942.3 2607.9L1946.3 2614.1L1950.2 2620.4L1954.0 2626.6L1957.6 2632.8L1961.1 2639.0L1964.5 2645.3L1967.6 2651.5L1970.6 2657.8L1973.5 2664.0L1976.1 2670.2L1978.6 2676.5L1980.9 2682.7L1983.0 2688.9L1985.0 2695.2L1986.8 2701.4L1988.6 2707.6L1990.3 2713.9L1991.9 2720.1L1993.6 2726.3L1995.2 2732.6L1996.7 2738.8L1998.1 2745.0L1999.5 2751.3L2000.7 2757.5L2001.9 2763.7L2002.9 2770.0L2003.8 2776.2L2004.7 2782.4L2005.4 2788.7L2006.1 2794.9L2006.7 2801.1L2007.3 2807.4L2007.7 2813.6L2008.1 2819.8L2008.4 2826.1L2008.7 2832.3L2008.9 2838.5L2009.0 2844.8L2008.8 2851.0L2008.6 2857.3L2008.3 2863.5L2008.0 2869.7L2007.5 2876.0L2007.0 2882.2L2006.5 2888.4L2005.8 2894.7L2005.1 2900.9L2004.3 2907.1L2003.4 2913.4L2002.5 2919.6L2001.4 2925.8L2000.2 2932.1L1999.0 2938.3L1997.6 2944.5L1996.1 2950.8L1994.5 2957.0L1992.9 2963.2L1991.2 2969.5L1989.6 2975.7L1987.9 2981.9L1986.1 2988.2L1984.2 2994.4L1982.2 3000.6L1980.0 3006.9L1977.6 3013.1L1975.1 3019.3L1972.3 3025.6L1969.4 3031.8L1966.4 3038.0L1963.1 3044.3L1959.7 3050.5L1956.2 3056.8L1952.5 3063.0L1948.6 3069.2L1944.7 3075.4L1940.6 3081.7L1936.3 3087.9L1931.8 3094.1L1927.1 3100.3L1922.3 3106.4L1917.3 3112.6L1912.1 3118.8L1906.9 3124.9L1901.6 3131.0L1896.2 3137.1L1890.6 3143.2L1885.0 3149.3L1879.1 3155.4L1873.1 3161.4L1866.8 3167.4L1860.4 3173.4L1853.8 3179.3L1847.0 3185.2L1840.1 3191.1L1833.0 3197.0L1825.9 3202.8L1818.6 3208.6L1811.3 3214.4L1803.8 3220.1L1796.2 3225.7L1788.6 3231.4L1780.8 3237.0L1773.0 3242.5L1765.1 3248.0L1757.1 3253.4L1749.1 3258.8L1740.9 3264.2L1732.6 3269.4L1724.2 3274.7L1715.7 3279.8L1706.9 3284.9L1697.9 3289.9L1688.6 3294.9L1678.9 3299.8L1668.9 3304.6L1658.6 3309.3L1648.2 3313.9L1637.8 3318.4L1627.4 3322.7L1617.2 3326.8L1607.2 3330.7L1597.5 3334.4L1588.0 3337.8L1578.9 3341.0L1570.1 3344.0L1561.7 3346.7L1553.8 3349.1L1546.3 3351.2L1539.3 3353.0L470.7 3353.0L463.7 3351.2L456.2 3349.1L448.3 3346.7L439.9 3344.0L431.1 3341.0L422.0 3337.8L412.5 3334.4L402.8 3330.7L392.8 3326.8L382.6 3322.7L372.2 3318.4L361.8 3313.9L351.4 3309.3L341.1 3304.6L331.1 3299.8L321.4 3294.9L312.1 3289.9L303.1 3284.9L294.3 3279.8L285.8 3274.7L277.4 3269.4L269.1 3264.2L260.9 3258.8L252.9 3253.4L244.9 3248.0L237.0 3242.5L229.2 3237.0L221.4 3231.4L213.8 3225.7L206.2 3220.1L198.7 3214.4L191.4 3208.6L184.1 3202.8L177.0 3197.0L169.9 3191.1L163.0 3185.2L156.2 3179.3L149.6 3173.4L143.2 3167.4L136.9 3161.4L130.9 3155.4L125.0 3149.3L119.4 3143.2L113.8 3137.1L108.4 3131.0L103.1 3124.9L97.9 3118.8L92.7 3112.6L87.7 3106.4L82.9 3100.3L78.2 3094.1L73.7 3087.9L69.4 3081.7L65.3 3075.4L61.4 3069.2L57.5 3063.0L53.8 3056.8L50.3 3050.5L46.9 3044.3L43.6 3038.0L40.6 3031.8L37.7 3025.6L34.9 3019.3L32.4 3013.1L30.0 3006.9L27.8 3000.6L25.8 2994.4L23.9 2988.2L22.1 2981.9L20.4 2975.7L18.8 2969.5L17.1 2963.2L15.5 2957.0L13.9 2950.8L12.4 2944.5L11.0 2938.3L9.8 2932.1L8.6 2925.8L7.5 2919.6L6.6 2913.4L5.7 2907.1L4.9 2900.9L4.2 2894.7L3.5 2888.4L3.0 2882.2L2.5 2876.0L2.0 2869.7L1.7 2863.5L1.4 2857.3L1.2 2851.0L1.0 2844.8L1.1 2838.5L1.3 2832.3L1.6 2826.1L1.9 2819.8L2.3 2813.6L2.7 2807.4L3.3 2801.1L3.9 2794.9L4.6 2788.7L5.3 2782.4L6.2 2776.2L7.1 2770.0L8.1 2763.7L9.3 2757.5L10.5 2751.3L11.9 2745.0L13.3 2738.8L14.8 2732.6L16.4 2726.3L18.1 2720.1L19.7 2713.9L21.4 2707.6L23.2 2701.4L25.0 2695.2L27.0 2688.9L29.1 2682.7L31.4 2676.5L33.9 2670.2L36.5 2664.0L39.4 2657.8L42.4 2651.5L45.5 2645.3L48.9 2639.0L52.4 2632.8L56.0 2626.6L59.8 2620.4L63.7 2614.1L67.7 2607.9L71.9 2601.7L76.3 2595.5L80.9 2589.3L85.7 2583.1L90.6 2576.9L95.7 2570.8L100.9 2564.6L106.2 2558.5L111.6 2552.4L117.1 2546.3L122.7 2540.2L128.4 2534.1L134.4 2528.1L140.6 2522.1L146.9 2516.1L153.5 2510.1L160.2 2504.2L167.1 2498.3L174.0 2492.4L181.1 2486.6L188.4 2480.8L195.7 2475.0L203.1 2469.3L210.7 2463.6L218.3 2457.9L226.0 2452.3L233.8 2446.8L241.7 2441.3L249.6 2435.8L257.6 2430.4L265.7 2425.0L274.0 2419.7L282.3 2414.5L290.8 2409.3L299.5 2404.2L308.4 2399.1L317.5 2394.2L327.1 2389.2L336.9 2384.4L347.1 2379.6L357.5 2375.0L367.9 2370.4L378.3 2366.1L388.6 2361.9L398.7 2357.9L408.5 2354.1L418.1 2350.6L427.4 2347.3L436.3 2344.2L444.9 2341.4L453.0 2339.6Z" fill="#d3d3d3"/>
<g shape-rendering="crispEdges"><path fill="#ffffff" d="M1359 2347h208v9h-208zM1592 2347h8v9h-8zM1151 2356h16v8h-16zM1359 2356h233v8h-233zM1151 2364h66v8h-66zM1359 2364h250v8h-250zM1059 2372h25v9h-25zM1109 2372h42v9h-42zM1167 2372h50v9h-50zM1359 2372h266v9h-266zM1059 2381h92v8h-92zM1184 2381h33v8h-33zM1359 2381h266v8h-266zM1667 2381h8v8h-8zM976 2389h16v8h-16zM1359 2389h291v8h-291zM1684 2389h8v8h-8zM992 2397h17v9h-17zM1109 2397h17v9h-17zM1359 2397h291v9h-291zM1101 2406h25v8h-25zM1151 2406h16v8h-16zM1201 2406h16v8h-16zM1359 2406h291v8h-291zM1092 2414h159v8h-159zM1417 2414h242v8h-242zM1092 2422h159v9h-159zM1484 2422h175v9h-175zM1084 2431h175v8h-175zM1492 2431h25v8h-25zM1534 2431h100v8h-100zM1750 2431h9v8h-9zM234 2439h17v8h-17zM1084 2439h183v8h-183zM1534 2439h108v8h-108zM1750 2439h25v8h-25zM226 2447h25v9h-25zM1084 2447h183v9h-183zM1559 2447h83v9h-83zM1759 2447h25v9h-25zM209 2456h25v8h-25zM1101 2456h166v8h-166zM1567 2456h133v8h-133zM1709 2456h8v8h-8zM1784 2456h16v8h-16zM201 2464h17v8h-17zM1117 2464h150v8h-150zM1584 2464h150v8h-150zM1750 2464h25v8h-25zM193 2472h8v9h-8zM1142 2472h9v9h-9zM1159 2472h108v9h-108zM1600 2472h217v9h-217zM184 2481h9v8h-9zM1167 2481h67v8h-67zM1267 2481h25v8h-25zM1609 2481h216v8h-216zM168 2489h33v8h-33zM1176 2489h66v8h-66zM1267 2489h59v8h-59zM1617 2489h225v8h-225zM159 2497h42v9h-42zM1176 2497h158v9h-158zM1659 2497h191v9h-191zM151 2506h33v8h-33zM1192 2506h159v8h-159zM1675 2506h184v8h-184zM143 2514h25v8h-25zM1201 2514h158v8h-158zM1709 2514h158v8h-158zM134 2522h25v9h-25zM1201 2522h158v9h-158zM1709 2522h166v9h-166zM126 2531h25v8h-25zM576 2531h8v8h-8zM617 2531h17v8h-17zM1209 2531h150v8h-150zM1725 2531h159v8h-159zM118 2539h33v8h-33zM617 2539h17v8h-17zM1209 2539h83v8h-83zM1301 2539h58v8h-58zM1734 2539h158v8h-158zM109 2547h34v9h-34zM626 2547h8v9h-8zM1226 2547h66v9h-66zM1317 2547h42v9h-42zM1750 2547h150v9h-150zM101 2556h33v8h-33zM592 2556h25v8h-25zM634 2556h33v8h-33zM1234 2556h58v8h-58zM1326 2556h33v8h-33zM1759 2556h150v8h-150zM93 2564h66v8h-66zM601 2564h8v8h-8zM1234 2564h75v8h-75zM1342 2564h17v8h-17zM1367 2564h9v8h-9zM1734 2564h183v8h-183zM93 2572h91v9h-91zM559 2572h8v9h-8zM1234 2572h83v9h-83zM1351 2572h8v9h-8zM1367 2572h9v9h-9zM1734 2572h191v9h-191zM84 2581h100v8h-100zM468 2581h83v8h-83zM1242 2581h84v8h-84zM1709 2581h216v8h-216zM76 2589h133v8h-133zM468 2589h91v8h-91zM1234 2589h92v8h-92zM1359 2589h33v8h-33zM1709 2589h225v8h-225zM68 2597h141v9h-141zM368 2597h25v9h-25zM426 2597h8v9h-8zM459 2597h75v9h-75zM542 2597h25v9h-25zM1217 2597h117v9h-117zM1359 2597h42v9h-42zM1709 2597h233v9h-233zM68 2606h175v8h-175zM368 2606h149v8h-149zM559 2606h8v8h-8zM1209 2606h133v8h-133zM1359 2606h42v8h-42zM1675 2606h267v8h-267zM59 2614h250v8h-250zM343 2614h108v8h-108zM1192 2614h150v8h-150zM1359 2614h50v8h-50zM1659 2614h291v8h-291zM51 2622h400v9h-400zM1176 2622h175v9h-175zM1359 2622h50v9h-50zM1634 2622h325v9h-325zM51 2631h408v8h-408zM1159 2631h258v8h-258zM1617 2631h342v8h-342zM43 2639h416v8h-416zM1067 2639h359v8h-359zM1609 2639h358v8h-358zM43 2647h425v9h-425zM967 2647h34v9h-34zM1009 2647h417v9h-417zM1584 2647h383v9h-383zM34 2656h442v8h-442zM942 2656h484v8h-484zM1575 2656h400v8h-400zM34 2664h442v8h-442zM917 2664h509v8h-509zM1559 2664h416v8h-416zM26 2672h475v9h-475zM851 2672h16v9h-16zM876 2672h566v9h-566zM1525 2672h459v9h-459zM26 2681h483v8h-483zM842 2681h600v8h-600zM1484 2681h500v8h-500zM26 2689h442v8h-442zM493 2689h33v8h-33zM809 2689h633v8h-633zM1476 2689h508v8h-508zM18 2697h433v9h-433zM484 2697h67v9h-67zM801 2697h633v9h-633zM1467 2697h525v9h-525zM18 2706h425v8h-425zM476 2706h75v8h-75zM792 2706h517v8h-517zM1334 2706h108v8h-108zM1467 2706h525v8h-525zM18 2714h433v8h-433zM468 2714h83v8h-83zM767 2714h542v8h-542zM1359 2714h83v8h-83zM1467 2714h525v8h-525zM18 2722h400v9h-400zM451 2722h100v9h-100zM667 2722h25v9h-25zM709 2722h592v9h-592zM1359 2722h92v9h-92zM1476 2722h516v9h-516zM9 2731h409v8h-409zM451 2731h100v8h-100zM642 2731h659v8h-659zM1376 2731h83v8h-83zM1509 2731h491v8h-491zM9 2739h409v8h-409zM443 2739h108v8h-108zM634 2739h858v8h-858zM1509 2739h491v8h-491zM9 2747h409v9h-409zM443 2747h133v9h-133zM626 2747h891v9h-891zM1534 2747h466v9h-466zM9 2756h409v8h-409zM443 2756h133v8h-133zM617 2756h1383v8h-1383zM9 2764h409v8h-409zM443 2764h133v8h-133zM592 2764h1417v8h-1417zM1 2772h42v9h-42zM59 2772h150v9h-150zM218 2772h341v9h-341zM576 2772h1366v9h-1366zM1950 2772h59v9h-59zM1 2781h17v8h-17zM51 2781h150v8h-150zM218 2781h1366v8h-1366zM1609 2781h333v8h-333zM1967 2781h42v8h-42zM1 2789h17v8h-17zM51 2789h150v8h-150zM218 2789h1366v8h-1366zM1609 2789h333v8h-333zM2000 2789h9v8h-9zM1 2797h25v9h-25zM84 2797h117v9h-117zM218 2797h1357v9h-1357zM1600 2797h342v9h-342zM1 2806h33v8h-33zM84 2806h50v8h-50zM143 2806h58v8h-58zM218 2806h333v8h-333zM584 2806h883v8h-883zM1492 2806h83v8h-83zM1592 2806h75v8h-75zM1675 2806h267v8h-267zM1984 2806h25v8h-25zM1 2814h42v8h-42zM84 2814h50v8h-50zM143 2814h408v8h-408zM584 2814h883v8h-883zM1492 2814h9v8h-9zM1542 2814h33v8h-33zM1592 2814h83v8h-83zM1684 2814h258v8h-258zM1950 2814h17v8h-17zM1975 2814h34v8h-34zM1 2822h8v9h-8zM26 2822h25v9h-25zM101 2822h33v9h-33zM143 2822h399v9h-399zM576 2822h891v9h-891zM1559 2822h16v9h-16zM1592 2822h417v9h-417zM18 2831h33v8h-33zM93 2831h58v8h-58zM168 2831h366v8h-366zM601 2831h33v8h-33zM651 2831h858v8h-858zM1592 2831h417v8h-417zM1 2839h50v8h-50zM93 2839h50v8h-50zM168 2839h358v8h-358zM601 2839h25v8h-25zM651 2839h858v8h-858zM1584 2839h116v8h-116zM1709 2839h300v8h-300zM1 2847h58v8h-58zM84 2847h59v8h-59zM159 2847h367v8h-367zM609 2847h17v8h-17zM659 2847h850v8h-850zM1575 2847h100v8h-100zM1692 2847h317v8h-317zM1 2855h67v9h-67zM76 2855h75v9h-75zM159 2855h367v9h-367zM617 2855h9v9h-9zM651 2855h850v9h-850zM1575 2855h100v9h-100zM1684 2855h41v9h-41zM1750 2855h259v9h-259zM1 2864h558v8h-558zM626 2864h866v8h-866zM1575 2864h117v8h-117zM1700 2864h9v8h-9zM1734 2864h275v8h-275zM1 2872h558v8h-558zM626 2872h866v8h-866zM1575 2872h117v8h-117zM1700 2872h9v8h-9zM1734 2872h275v8h-275zM1 2880h25v9h-25zM51 2880h525v9h-525zM617 2880h842v9h-842zM1467 2880h9v9h-9zM1567 2880h125v9h-125zM1700 2880h309v9h-309zM1 2889h17v8h-17zM51 2889h1441v8h-1441zM1567 2889h75v8h-75zM1650 2889h42v8h-42zM1700 2889h309v8h-309zM1 2897h17v8h-17zM43 2897h1458v8h-1458zM1567 2897h8v8h-8zM1592 2897h417v8h-417zM1 2905h8v9h-8zM43 2905h1474v9h-1474zM1567 2905h8v9h-8zM1592 2905h8v9h-8zM1609 2905h400v9h-400zM43 2914h108v8h-108zM159 2914h1375v8h-1375zM1567 2914h17v8h-17zM1609 2914h400v8h-400zM9 2922h9v8h-9zM59 2922h1483v8h-1483zM1575 2922h17v8h-17zM1609 2922h383v8h-383zM9 2930h17v9h-17zM43 2930h8v9h-8zM59 2930h1491v9h-1491zM1575 2930h17v9h-17zM1634 2930h350v9h-350zM9 2939h17v8h-17zM68 2939h1491v8h-1491zM1584 2939h25v8h-25zM1642 2939h358v8h-358zM9 2947h25v8h-25zM68 2947h1491v8h-1491zM1592 2947h25v8h-25zM1642 2947h358v8h-358zM18 2955h16v9h-16zM51 2955h1524v9h-1524zM1600 2955h25v9h-25zM1642 2955h108v9h-108zM1767 2955h225v9h-225zM18 2964h1566v8h-1566zM1600 2964h142v8h-142zM1767 2964h225v8h-225zM18 2972h1557v8h-1557zM1592 2972h150v8h-150zM1759 2972h233v8h-233zM18 2980h1557v9h-1557zM1592 2980h150v9h-150zM1750 2980h242v9h-242zM26 2989h158v8h-158zM193 2989h1382v8h-1382zM1592 2989h117v8h-117zM1742 2989h242v8h-242zM26 2997h150v8h-150zM209 2997h1366v8h-1366zM1592 2997h108v8h-108zM1742 2997h242v8h-242zM26 3005h150v9h-150zM209 3005h1375v9h-1375zM1592 3005h100v9h-100zM1734 3005h250v9h-250zM34 3014h142v8h-142zM209 3014h1483v8h-1483zM1717 3014h258v8h-258zM34 3022h142v8h-142zM209 3022h1475v8h-1475zM1709 3022h266v8h-266zM43 3030h133v9h-133zM209 3030h1483v9h-1483zM1709 3030h258v9h-258zM43 3039h133v8h-133zM201 3039h1766v8h-1766zM51 3047h1908v8h-1908zM51 3055h1908v9h-1908zM59 3064h1891v8h-1891zM68 3072h1882v8h-1882zM68 3080h1874v9h-1874zM76 3089h1858v8h-1858zM84 3097h1841v8h-1841zM84 3105h1841v9h-1841zM93 3114h1824v8h-1824zM101 3122h1808v8h-1808zM109 3130h1791v9h-1791zM118 3139h1774v8h-1774zM126 3147h1758v8h-1758zM134 3155h1741v9h-1741zM143 3164h1724v8h-1724zM151 3172h1708v8h-1708zM159 3180h1691v9h-1691zM168 3189h1674v8h-1674zM176 3197h1658v8h-1658zM193 3205h1624v9h-1624zM201 3214h1608v8h-1608zM209 3222h1591v8h-1591zM226 3230h1558v9h-1558zM234 3239h1541v8h-1541zM251 3247h1508v8h-1508zM259 3255h1491v9h-1491zM276 3264h1458v8h-1458zM284 3272h1441v8h-1441zM301 3280h1408v9h-1408zM318 3289h1374v8h-1374zM334 3297h1341v8h-1341zM351 3305h1308v9h-1308zM368 3314h1274v8h-1274zM393 3322h1232v8h-1232zM409 3330h1191v9h-1191zM434 3339h1141v8h-1141z"/>
<path fill="#ffe432" d="M443 2339h1124v8h-1124zM418 2347h133v9h-133zM559 2347h83v9h-83zM676 2347h683v9h-683zM1567 2347h25v9h-25zM393 2356h141v8h-141zM734 2356h417v8h-417zM1167 2356h192v8h-192zM1592 2356h25v8h-25zM368 2364h158v8h-158zM776 2364h375v8h-375zM1217 2364h142v8h-142zM1609 2364h33v8h-33zM742 2372h317v9h-317zM1084 2372h25v9h-25zM1151 2372h16v9h-16zM1217 2372h142v9h-142zM1625 2372h34v9h-34zM334 2381h9v8h-9zM726 2381h333v8h-333zM1151 2381h33v8h-33zM1217 2381h142v8h-142zM1625 2381h42v8h-42zM318 2389h33v8h-33zM784 2389h192v8h-192zM992 2389h367v8h-367zM1650 2389h34v8h-34zM301 2397h67v9h-67zM792 2397h200v9h-200zM1009 2397h100v9h-100zM1126 2397h233v9h-233zM1650 2397h59v9h-59zM284 2406h84v8h-84zM801 2406h300v8h-300zM1126 2406h25v8h-25zM1167 2406h34v8h-34zM1217 2406h142v8h-142zM1650 2406h75v8h-75zM276 2414h83v8h-83zM784 2414h308v8h-308zM1251 2414h166v8h-166zM1659 2414h75v8h-75zM259 2422h92v9h-92zM767 2422h325v9h-325zM1251 2422h233v9h-233zM1659 2422h91v9h-91zM251 2431h100v8h-100zM767 2431h317v8h-317zM1259 2431h233v8h-233zM1517 2431h17v8h-17zM1634 2431h116v8h-116zM251 2439h100v8h-100zM767 2439h317v8h-317zM1267 2439h267v8h-267zM1642 2439h108v8h-108zM251 2447h83v9h-83zM776 2447h308v9h-308zM1267 2447h292v9h-292zM1642 2447h117v9h-117zM234 2456h84v8h-84zM792 2456h150v8h-150zM1017 2456h84v8h-84zM1267 2456h300v8h-300zM1700 2456h9v8h-9zM1717 2456h67v8h-67zM218 2464h83v8h-83zM792 2464h100v8h-100zM901 2464h25v8h-25zM1017 2464h100v8h-100zM1267 2464h317v8h-317zM1734 2464h16v8h-16zM1775 2464h34v8h-34zM201 2472h83v9h-83zM817 2472h17v9h-17zM1017 2472h125v9h-125zM1151 2472h8v9h-8zM1267 2472h59v9h-59zM1359 2472h241v9h-241zM193 2481h50v8h-50zM1001 2481h166v8h-166zM1234 2481h33v8h-33zM1292 2481h34v8h-34zM1401 2481h208v8h-208zM201 2489h42v8h-42zM992 2489h184v8h-184zM1242 2489h25v8h-25zM1417 2489h200v8h-200zM201 2497h33v9h-33zM676 2497h41v9h-41zM992 2497h184v9h-184zM1426 2497h233v9h-233zM184 2506h34v8h-34zM676 2506h41v8h-41zM992 2506h200v8h-200zM1459 2506h33v8h-33zM1534 2506h141v8h-141zM168 2514h33v8h-33zM642 2514h75v8h-75zM992 2514h209v8h-209zM1550 2514h159v8h-159zM159 2522h34v9h-34zM576 2522h141v9h-141zM992 2522h209v9h-209zM1359 2522h8v9h-8zM1550 2522h159v9h-159zM151 2531h33v8h-33zM542 2531h34v8h-34zM584 2531h33v8h-33zM634 2531h75v8h-75zM992 2531h217v8h-217zM1359 2531h17v8h-17zM1550 2531h175v8h-175zM151 2539h33v8h-33zM451 2539h33v8h-33zM534 2539h83v8h-83zM634 2539h67v8h-67zM1001 2539h208v8h-208zM1292 2539h9v8h-9zM1359 2539h17v8h-17zM1559 2539h175v8h-175zM143 2547h41v9h-41zM209 2547h9v9h-9zM426 2547h91v9h-91zM534 2547h92v9h-92zM634 2547h50v9h-50zM1001 2547h225v9h-225zM1292 2547h25v9h-25zM1359 2547h33v9h-33zM1550 2547h200v9h-200zM134 2556h50v8h-50zM193 2556h16v8h-16zM409 2556h108v8h-108zM526 2556h66v8h-66zM617 2556h17v8h-17zM667 2556h9v8h-9zM1001 2556h233v8h-233zM1292 2556h34v8h-34zM1359 2556h33v8h-33zM1550 2556h209v8h-209zM159 2564h25v8h-25zM384 2564h217v8h-217zM609 2564h58v8h-58zM1042 2564h192v8h-192zM1309 2564h33v8h-33zM1359 2564h8v8h-8zM1376 2564h25v8h-25zM1559 2564h58v8h-58zM1625 2564h109v8h-109zM376 2572h183v9h-183zM567 2572h92v9h-92zM1042 2572h192v9h-192zM1317 2572h34v9h-34zM1359 2572h8v9h-8zM1376 2572h41v9h-41zM1642 2572h92v9h-92zM184 2581h9v8h-9zM268 2581h33v8h-33zM309 2581h50v8h-50zM368 2581h100v8h-100zM551 2581h75v8h-75zM1026 2581h216v8h-216zM1326 2581h100v8h-100zM1451 2581h16v8h-16zM1550 2581h9v8h-9zM1642 2581h67v8h-67zM209 2589h259v8h-259zM559 2589h58v8h-58zM1026 2589h208v8h-208zM1326 2589h33v8h-33zM1392 2589h50v8h-50zM1542 2589h17v8h-17zM1642 2589h67v8h-67zM209 2597h159v9h-159zM393 2597h33v9h-33zM434 2597h25v9h-25zM534 2597h8v9h-8zM567 2597h42v9h-42zM1017 2597h200v9h-200zM1334 2597h25v9h-25zM1401 2597h50v9h-50zM1542 2597h17v9h-17zM1625 2597h84v9h-84zM243 2606h125v8h-125zM517 2606h42v8h-42zM567 2606h34v8h-34zM984 2606h225v8h-225zM1342 2606h17v8h-17zM1401 2606h50v8h-50zM1542 2606h17v8h-17zM1617 2606h58v8h-58zM309 2614h34v8h-34zM451 2614h150v8h-150zM934 2614h258v8h-258zM1342 2614h17v8h-17zM1409 2614h83v8h-83zM1525 2614h34v8h-34zM1609 2614h50v8h-50zM451 2622h17v9h-17zM484 2622h108v9h-108zM909 2622h267v9h-267zM1351 2622h8v9h-8zM1409 2622h83v9h-83zM1525 2622h25v9h-25zM1584 2622h50v9h-50zM459 2631h9v8h-9zM476 2631h108v8h-108zM876 2631h283v8h-283zM1417 2631h75v8h-75zM1509 2631h41v8h-41zM1584 2631h33v8h-33zM459 2639h9v8h-9zM476 2639h75v8h-75zM859 2639h208v8h-208zM1426 2639h183v8h-183zM468 2647h8v9h-8zM484 2647h50v9h-50zM851 2647h116v9h-116zM1001 2647h8v9h-8zM1426 2647h158v9h-158zM476 2656h8v8h-8zM509 2656h33v8h-33zM826 2656h116v8h-116zM1426 2656h149v8h-149zM476 2664h8v8h-8zM501 2664h16v8h-16zM817 2664h100v8h-100zM1426 2664h133v8h-133zM501 2672h16v9h-16zM801 2672h50v9h-50zM867 2672h9v9h-9zM1442 2672h83v9h-83zM509 2681h8v8h-8zM784 2681h58v8h-58zM1442 2681h42v8h-42zM468 2689h25v8h-25zM767 2689h42v8h-42zM1442 2689h34v8h-34zM451 2697h33v9h-33zM751 2697h50v9h-50zM1434 2697h33v9h-33zM443 2706h33v8h-33zM551 2706h8v8h-8zM726 2706h66v8h-66zM1309 2706h25v8h-25zM1442 2706h25v8h-25zM451 2714h17v8h-17zM551 2714h16v8h-16zM709 2714h58v8h-58zM1309 2714h50v8h-50zM1442 2714h25v8h-25zM418 2722h33v9h-33zM551 2722h16v9h-16zM659 2722h8v9h-8zM692 2722h17v9h-17zM1301 2722h58v9h-58zM1451 2722h25v9h-25zM418 2731h33v8h-33zM551 2731h16v8h-16zM634 2731h8v8h-8zM1301 2731h75v8h-75zM1459 2731h50v8h-50zM418 2739h25v8h-25zM551 2739h33v8h-33zM626 2739h8v8h-8zM1492 2739h17v8h-17zM418 2747h25v9h-25zM576 2747h16v9h-16zM609 2747h17v9h-17zM1517 2747h17v9h-17zM418 2756h25v8h-25zM576 2756h16v8h-16zM609 2756h8v8h-8zM418 2764h25v8h-25zM576 2764h16v8h-16zM43 2772h16v9h-16zM559 2772h17v9h-17zM1942 2772h8v9h-8zM18 2781h33v8h-33zM201 2781h8v8h-8zM1584 2781h25v8h-25zM1942 2781h25v8h-25zM18 2789h33v8h-33zM201 2789h8v8h-8zM1584 2789h25v8h-25zM1942 2789h58v8h-58zM26 2797h25v9h-25zM59 2797h25v9h-25zM201 2797h17v9h-17zM1575 2797h25v9h-25zM1942 2797h17v9h-17zM1967 2797h42v9h-42zM34 2806h17v8h-17zM68 2806h16v8h-16zM134 2806h9v8h-9zM201 2806h17v8h-17zM551 2806h33v8h-33zM1467 2806h25v8h-25zM1575 2806h17v8h-17zM1667 2806h8v8h-8zM1942 2806h42v8h-42zM43 2814h41v8h-41zM134 2814h9v8h-9zM551 2814h33v8h-33zM1467 2814h25v8h-25zM1501 2814h41v8h-41zM1575 2814h17v8h-17zM1675 2814h9v8h-9zM1942 2814h8v8h-8zM1967 2814h8v8h-8zM9 2822h17v9h-17zM51 2822h17v9h-17zM84 2822h17v9h-17zM134 2822h9v9h-9zM542 2822h34v9h-34zM1467 2822h92v9h-92zM1575 2822h17v9h-17zM1 2831h17v8h-17zM51 2831h42v8h-42zM151 2831h17v8h-17zM534 2831h25v8h-25zM567 2831h34v8h-34zM634 2831h17v8h-17zM1509 2831h25v8h-25zM1559 2831h33v8h-33zM51 2839h42v8h-42zM143 2839h25v8h-25zM526 2839h33v8h-33zM576 2839h25v8h-25zM626 2839h25v8h-25zM1509 2839h25v8h-25zM1559 2839h25v8h-25zM1700 2839h9v8h-9zM59 2847h25v8h-25zM143 2847h16v8h-16zM526 2847h33v8h-33zM576 2847h33v8h-33zM626 2847h33v8h-33zM1509 2847h8v8h-8zM1567 2847h8v8h-8zM1675 2847h17v8h-17zM68 2855h8v9h-8zM151 2855h8v9h-8zM526 2855h41v9h-41zM584 2855h33v9h-33zM626 2855h25v9h-25zM1501 2855h16v9h-16zM1567 2855h8v9h-8zM1675 2855h9v9h-9zM1725 2855h25v9h-25zM559 2864h67v8h-67zM1492 2864h25v8h-25zM1559 2864h16v8h-16zM1692 2864h8v8h-8zM1709 2864h25v8h-25zM559 2872h67v8h-67zM1492 2872h25v8h-25zM1559 2872h16v8h-16zM1692 2872h8v8h-8zM1709 2872h25v8h-25zM26 2880h25v9h-25zM576 2880h41v9h-41zM1459 2880h8v9h-8zM1476 2880h41v9h-41zM1559 2880h8v9h-8zM1692 2880h8v9h-8zM18 2889h33v8h-33zM1492 2889h25v8h-25zM1559 2889h8v8h-8zM1642 2889h8v8h-8zM1692 2889h8v8h-8zM18 2897h25v8h-25zM1501 2897h24v8h-24zM1559 2897h8v8h-8zM1575 2897h17v8h-17zM9 2905h34v9h-34zM1517 2905h17v9h-17zM1575 2905h17v9h-17zM1600 2905h9v9h-9zM9 2914h34v8h-34zM151 2914h8v8h-8zM1534 2914h8v8h-8zM1584 2914h25v8h-25zM18 2922h41v8h-41zM1592 2922h17v8h-17zM1992 2922h8v8h-8zM26 2930h17v9h-17zM51 2930h8v9h-8zM1550 2930h9v9h-9zM1592 2930h42v9h-42zM1984 2930h16v9h-16zM26 2939h42v8h-42zM1559 2939h8v8h-8zM1609 2939h33v8h-33zM34 2947h34v8h-34zM1559 2947h8v8h-8zM1617 2947h25v8h-25zM34 2955h17v9h-17zM1625 2955h17v9h-17zM1750 2955h17v9h-17zM1742 2964h25v8h-25zM1575 2972h17v8h-17zM1742 2972h17v8h-17zM1575 2980h17v9h-17zM1742 2980h8v9h-8zM184 2989h9v8h-9zM1575 2989h17v8h-17zM1709 2989h33v8h-33zM176 2997h33v8h-33zM1575 2997h17v8h-17zM1700 2997h9v8h-9zM1717 2997h25v8h-25zM176 3005h8v9h-8zM201 3005h8v9h-8zM1584 3005h8v9h-8zM1692 3005h42v9h-42zM176 3014h8v8h-8zM201 3014h8v8h-8zM1692 3014h25v8h-25zM176 3022h8v8h-8zM201 3022h8v8h-8zM1684 3022h25v8h-25zM176 3030h33v9h-33zM1692 3030h17v9h-17zM176 3039h25v8h-25z"/>
<path fill="#ffaa00" d="M551 2347h8v9h-8zM642 2347h34v9h-34zM534 2356h200v8h-200zM526 2364h250v8h-250zM351 2372h158v9h-158zM584 2372h158v9h-158zM343 2381h158v8h-158zM551 2381h175v8h-175zM351 2389h100v8h-100zM517 2389h267v8h-267zM368 2397h83v9h-83zM501 2397h291v9h-291zM368 2406h433v8h-433zM359 2414h425v8h-425zM351 2422h416v9h-416zM351 2431h416v8h-416zM351 2439h416v8h-416zM334 2447h225v9h-225zM617 2447h159v9h-159zM318 2456h224v8h-224zM634 2456h158v8h-158zM942 2456h75v8h-75zM301 2464h233v8h-233zM634 2464h158v8h-158zM892 2464h9v8h-9zM926 2464h91v8h-91zM284 2472h258v9h-258zM626 2472h191v9h-191zM834 2472h183v9h-183zM1326 2472h33v9h-33zM243 2481h308v8h-308zM617 2481h384v8h-384zM1326 2481h75v8h-75zM243 2489h316v8h-316zM617 2489h225v8h-225zM884 2489h108v8h-108zM1326 2489h91v8h-91zM234 2497h325v9h-325zM617 2497h59v9h-59zM717 2497h125v9h-125zM892 2497h100v9h-100zM1334 2497h92v9h-92zM218 2506h333v8h-333zM592 2506h84v8h-84zM717 2506h117v8h-117zM892 2506h100v8h-100zM1351 2506h108v8h-108zM1492 2506h42v8h-42zM201 2514h350v8h-350zM567 2514h75v8h-75zM717 2514h50v8h-50zM801 2514h25v8h-25zM892 2514h100v8h-100zM1359 2514h191v8h-191zM193 2522h383v9h-383zM717 2522h42v9h-42zM801 2522h16v9h-16zM892 2522h100v9h-100zM1367 2522h183v9h-183zM184 2531h358v8h-358zM709 2531h33v8h-33zM892 2531h100v8h-100zM1376 2531h174v8h-174zM184 2539h267v8h-267zM484 2539h50v8h-50zM701 2539h33v8h-33zM892 2539h109v8h-109zM1376 2539h183v8h-183zM184 2547h25v9h-25zM218 2547h208v9h-208zM517 2547h17v9h-17zM684 2547h58v9h-58zM901 2547h100v9h-100zM1392 2547h158v9h-158zM184 2556h9v8h-9zM209 2556h200v8h-200zM517 2556h9v8h-9zM676 2556h50v8h-50zM901 2556h100v8h-100zM1392 2556h158v8h-158zM184 2564h200v8h-200zM667 2564h50v8h-50zM901 2564h141v8h-141zM1401 2564h158v8h-158zM1617 2564h8v8h-8zM184 2572h192v9h-192zM659 2572h50v9h-50zM901 2572h141v9h-141zM1417 2572h225v9h-225zM193 2581h75v8h-75zM301 2581h8v8h-8zM359 2581h9v8h-9zM626 2581h83v8h-83zM892 2581h134v8h-134zM1426 2581h25v8h-25zM1467 2581h83v8h-83zM1559 2581h83v8h-83zM617 2589h25v8h-25zM667 2589h34v8h-34zM884 2589h142v8h-142zM1442 2589h100v8h-100zM1559 2589h83v8h-83zM609 2597h25v9h-25zM667 2597h17v9h-17zM884 2597h133v9h-133zM1451 2597h91v9h-91zM1559 2597h66v9h-66zM601 2606h16v8h-16zM667 2606h17v8h-17zM859 2606h125v8h-125zM1451 2606h91v8h-91zM1559 2606h58v8h-58zM659 2614h33v8h-33zM851 2614h83v8h-83zM1492 2614h33v8h-33zM1559 2614h50v8h-50zM468 2622h16v9h-16zM651 2622h33v9h-33zM834 2622h75v9h-75zM1492 2622h33v9h-33zM1550 2622h34v9h-34zM468 2631h8v8h-8zM584 2631h8v8h-8zM642 2631h34v8h-34zM801 2631h75v8h-75zM1492 2631h17v8h-17zM1550 2631h34v8h-34zM468 2639h8v8h-8zM551 2639h33v8h-33zM784 2639h75v8h-75zM476 2647h8v9h-8zM534 2647h50v9h-50zM776 2647h75v9h-75zM484 2656h25v8h-25zM542 2656h9v8h-9zM759 2656h67v8h-67zM484 2664h17v8h-17zM517 2664h34v8h-34zM567 2664h17v8h-17zM742 2664h75v8h-75zM517 2672h67v9h-67zM734 2672h67v9h-67zM517 2681h67v8h-67zM734 2681h50v8h-50zM526 2689h58v8h-58zM717 2689h50v8h-50zM551 2697h33v9h-33zM667 2697h84v9h-84zM559 2706h17v8h-17zM667 2706h59v8h-59zM567 2714h9v8h-9zM667 2714h42v8h-42zM567 2722h17v9h-17zM642 2722h17v9h-17zM567 2731h17v8h-17zM626 2731h8v8h-8zM609 2739h17v8h-17zM592 2747h17v9h-17zM592 2756h17v8h-17zM209 2772h9v9h-9zM209 2781h9v8h-9zM209 2789h9v8h-9zM51 2797h8v9h-8zM1959 2797h8v9h-8zM51 2806h17v8h-17zM68 2822h16v9h-16zM559 2831h8v8h-8zM1534 2831h25v8h-25zM559 2839h17v8h-17zM1534 2839h8v8h-8zM559 2847h17v8h-17zM1517 2847h25v8h-25zM1559 2847h8v8h-8zM567 2855h17v9h-17zM1517 2855h25v9h-25zM1559 2855h8v9h-8zM1517 2864h25v8h-25zM1550 2864h9v8h-9zM1517 2872h25v8h-25zM1550 2872h9v8h-9zM1517 2880h25v9h-25zM1517 2889h33v8h-33zM1525 2897h25v8h-25zM1534 2905h33v9h-33zM1542 2914h25v8h-25zM1542 2922h33v8h-33zM1559 2930h16v9h-16zM1567 2939h17v8h-17zM1567 2947h25v8h-25zM1575 2955h25v9h-25zM1584 2964h16v8h-16zM1709 2997h8v8h-8zM184 3005h17v9h-17zM184 3014h17v8h-17zM184 3022h17v8h-17z"/>
<path fill="#ff6e00" d="M509 2372h75v9h-75zM501 2381h50v8h-50zM451 2389h66v8h-66zM451 2397h50v9h-50zM559 2447h58v9h-58zM542 2456h92v8h-92zM534 2464h100v8h-100zM542 2472h84v9h-84zM551 2481h66v8h-66zM559 2489h58v8h-58zM842 2489h42v8h-42zM559 2497h58v9h-58zM842 2497h50v9h-50zM551 2506h41v8h-41zM834 2506h58v8h-58zM551 2514h16v8h-16zM767 2514h34v8h-34zM826 2514h16v8h-16zM867 2514h25v8h-25zM759 2522h42v9h-42zM817 2522h25v9h-25zM867 2522h25v9h-25zM742 2531h34v8h-34zM809 2531h25v8h-25zM867 2531h25v8h-25zM734 2539h33v8h-33zM817 2539h17v8h-17zM859 2539h33v8h-33zM742 2547h50v9h-50zM851 2547h50v9h-50zM726 2556h16v8h-16zM842 2556h59v8h-59zM717 2564h17v8h-17zM842 2564h59v8h-59zM709 2572h25v9h-25zM842 2572h59v9h-59zM709 2581h25v8h-25zM842 2581h50v8h-50zM642 2589h25v8h-25zM701 2589h25v8h-25zM842 2589h42v8h-42zM634 2597h33v9h-33zM684 2597h42v9h-42zM826 2597h58v9h-58zM617 2606h50v8h-50zM684 2606h17v8h-17zM817 2606h42v8h-42zM601 2614h58v8h-58zM809 2614h42v8h-42zM626 2622h25v9h-25zM684 2622h8v9h-8zM801 2622h33v9h-33zM626 2631h16v8h-16zM676 2631h16v8h-16zM734 2631h17v8h-17zM784 2631h17v8h-17zM634 2639h50v8h-50zM734 2639h50v8h-50zM634 2647h25v9h-25zM734 2647h42v9h-42zM551 2656h33v8h-33zM634 2656h17v8h-17zM734 2656h25v8h-25zM551 2664h16v8h-16zM726 2664h16v8h-16zM717 2672h17v9h-17zM592 2681h17v8h-17zM717 2681h17v8h-17zM584 2689h133v8h-133zM584 2697h83v9h-83zM576 2706h91v8h-91zM576 2714h91v8h-91zM584 2722h8v9h-8zM609 2722h33v9h-33zM584 2731h8v8h-8zM601 2731h25v8h-25zM584 2739h25v8h-25zM1542 2839h17v8h-17zM1542 2847h17v8h-17zM1542 2855h17v9h-17zM1542 2864h8v8h-8zM1542 2872h8v8h-8zM1542 2880h17v9h-17zM1550 2889h9v8h-9zM1550 2897h9v8h-9z"/>
<path fill="#ff0000" d="M842 2514h25v8h-25zM842 2522h25v9h-25zM776 2531h25v8h-25zM834 2531h33v8h-33zM767 2539h17v8h-17zM834 2539h25v8h-25zM792 2547h59v9h-59zM742 2556h50v8h-50zM826 2556h16v8h-16zM734 2564h8v8h-8zM751 2564h33v8h-33zM826 2564h16v8h-16zM734 2572h33v9h-33zM817 2572h25v9h-25zM734 2581h17v8h-17zM809 2581h33v8h-33zM726 2589h25v8h-25zM801 2589h41v8h-41zM726 2597h16v9h-16zM801 2597h25v9h-25zM701 2606h41v8h-41zM792 2606h25v8h-25zM692 2614h9v8h-9zM726 2614h16v8h-16zM767 2614h42v8h-42zM592 2622h34v9h-34zM692 2622h9v9h-9zM726 2622h75v9h-75zM592 2631h34v8h-34zM692 2631h9v8h-9zM726 2631h8v8h-8zM751 2631h33v8h-33zM601 2639h33v8h-33zM684 2639h17v8h-17zM726 2639h8v8h-8zM601 2647h33v9h-33zM659 2647h75v9h-75zM601 2656h33v8h-33zM651 2656h83v8h-83zM584 2664h8v8h-8zM617 2664h59v8h-59zM684 2664h42v8h-42zM584 2672h17v9h-17zM667 2672h50v9h-50zM584 2681h8v8h-8zM609 2681h8v8h-8zM659 2681h33v8h-33zM701 2681h16v8h-16z"/>
<path fill="#c80000" d="M801 2531h8v8h-8zM784 2539h33v8h-33zM792 2556h34v8h-34zM742 2564h9v8h-9zM784 2564h8v8h-8zM817 2564h9v8h-9zM767 2572h25v9h-25zM809 2572h8v9h-8zM801 2581h8v8h-8zM792 2589h9v8h-9zM792 2597h9v9h-9zM742 2606h9v8h-9zM759 2606h33v8h-33zM701 2614h25v8h-25zM742 2614h25v8h-25zM701 2622h25v9h-25zM701 2631h25v8h-25zM584 2639h17v8h-17zM701 2639h25v8h-25zM584 2647h17v9h-17zM584 2656h17v8h-17zM592 2664h25v8h-25zM676 2664h8v8h-8zM601 2672h16v9h-16zM626 2672h41v9h-41zM617 2681h42v8h-42zM692 2681h9v8h-9zM592 2722h17v9h-17zM592 2731h9v8h-9z"/>
<path fill="#a02424" d="M792 2564h25v8h-25zM792 2572h17v9h-17zM751 2581h50v8h-50zM751 2589h41v8h-41zM742 2597h50v9h-50zM751 2606h8v8h-8zM617 2672h9v9h-9z"/></g>
<use href="#coast" y="2250" fill="none" stroke="#000" stroke-width="4" stroke-linejoin="round" stroke-linecap="round"/>
<text x="-3.5" y="2303.4" font-size="72.7" textLength="856.0" lengthAdjust="spacing">(c) absolute difference a-b</text>
<text x="1624.9" y="2303.4" font-size="72.7" textLength="387.3" lengthAdjust="spacing" xml:space="preserve" style="white-space:pre">avg=    3.86</text>
<rect x="2169.0" y="2354.70" width="119.5" height="75.73" fill="#a02424"/>
<rect x="2169.0" y="2429.93" width="119.5" height="75.73" fill="#c80000"/>
<rect x="2169.0" y="2505.16" width="119.5" height="75.73" fill="#ff0000"/>
<rect x="2169.0" y="2580.39" width="119.5" height="75.73" fill="#ff6e00"/>
<rect x="2169.0" y="2655.62" width="119.5" height="75.73" fill="#ffaa00"/>
<rect x="2169.0" y="2730.85" width="119.5" height="75.73" fill="#ffe432"/>
<rect x="2169.0" y="2806.08" width="119.5" height="75.73" fill="#ffffff"/>
<rect x="2169.0" y="2881.31" width="119.5" height="75.73" fill="#a0d2ff"/>
<rect x="2169.0" y="2956.54" width="119.5" height="75.73" fill="#00bfff"/>
<rect x="2169.0" y="3031.77" width="119.5" height="75.73" fill="#1e90ff"/>
<rect x="2169.0" y="3107.00" width="119.5" height="75.73" fill="#4169e1"/>
<rect x="2169.0" y="3182.23" width="119.5" height="75.73" fill="#0000cd"/>
<rect x="2169.0" y="3257.46" width="119.5" height="75.73" fill="#00008b"/>
<path d="M2167.1 2429.93H2290.4" stroke="#000" stroke-width="4.2"/>
<path d="M2167.1 2505.16H2290.4" stroke="#000" stroke-width="4.2"/>
<path d="M2167.1 2580.39H2290.4" stroke="#000" stroke-width="4.2"/>
<path d="M2167.1 2655.62H2290.4" stroke="#000" stroke-width="4.2"/>
<path d="M2167.1 2730.85H2290.4" stroke="#000" stroke-width="4.2"/>
<path d="M2167.1 2806.08H2290.4" stroke="#000" stroke-width="4.2"/>
<path d="M2167.1 2881.31H2290.4" stroke="#000" stroke-width="4.2"/>
<path d="M2167.1 2956.54H2290.4" stroke="#000" stroke-width="4.2"/>
<path d="M2167.1 3031.77H2290.4" stroke="#000" stroke-width="4.2"/>
<path d="M2167.1 3107.00H2290.4" stroke="#000" stroke-width="4.2"/>
<path d="M2167.1 3182.23H2290.4" stroke="#000" stroke-width="4.2"/>
<path d="M2167.1 3257.46H2290.4" stroke="#000" stroke-width="4.2"/>
<rect x="2169.0" y="2354.70" width="119.5" height="977.99" fill="none" stroke="#000" stroke-width="4.2" stroke-linejoin="round"/>
<text x="2347.5" y="2441.7" text-anchor="middle" font-size="33">50</text>
<text x="2347.5" y="2517.0" text-anchor="middle" font-size="33">40</text>
<text x="2347.5" y="2592.2" text-anchor="middle" font-size="33">30</text>
<text x="2347.5" y="2667.4" text-anchor="middle" font-size="33">20</text>
<text x="2347.5" y="2742.7" text-anchor="middle" font-size="33">10</text>
<text x="2347.5" y="2817.9" text-anchor="middle" font-size="33">5</text>
<text x="2347.5" y="2893.1" text-anchor="middle" font-size="33">-5</text>
<text x="2347.5" y="2968.3" text-anchor="middle" font-size="33">-10</text>
<text x="2347.5" y="3043.6" text-anchor="middle" font-size="33">-20</text>
<text x="2347.5" y="3118.8" text-anchor="middle" font-size="33">-30</text>
<text x="2347.5" y="3194.0" text-anchor="middle" font-size="33">-40</text>
<text x="2347.5" y="3269.3" text-anchor="middle" font-size="33">-50</text>
</g>
</svg></body></html>
